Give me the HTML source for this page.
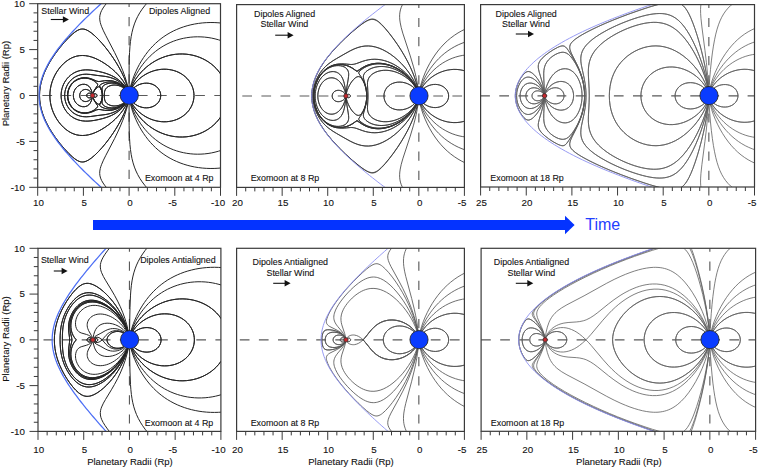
<!DOCTYPE html>
<html><head><meta charset="utf-8"><style>html,body{margin:0;padding:0;background:#fff;}svg{display:block;}text{stroke:#111;stroke-width:0.1px;}</style></head>
<body><svg xmlns="http://www.w3.org/2000/svg" width="760" height="468" viewBox="0 0 760 468" font-family='"Liberation Sans", sans-serif' fill="#111"><defs><clipPath id="c1"><rect x="37.7" y="3.7" width="182.80" height="183.60"/></clipPath><clipPath id="c2"><rect x="236.6" y="4.6" width="227.80" height="182.80"/></clipPath><clipPath id="c3"><rect x="480.6" y="4.6" width="273.90" height="182.40"/></clipPath><clipPath id="c4"><rect x="38.0" y="248.3" width="182.90" height="183.10"/></clipPath><clipPath id="c5"><rect x="236.6" y="248.3" width="227.80" height="183.10"/></clipPath><clipPath id="c6"><rect x="481.1" y="248.3" width="274.50" height="183.00"/></clipPath></defs><g clip-path="url(#c1)">
<line x1="37.7" y1="95.50" x2="220.5" y2="95.50" stroke="#5a5a5a" stroke-width="1.15" stroke-dasharray="9.7 9.4" stroke-dashoffset="14.40"/>
<line x1="129.10" y1="3.7" x2="129.10" y2="187.3" stroke="#5a5a5a" stroke-width="1.15" stroke-dasharray="9.2 9.9" stroke-dashoffset="5.8"/>
<path d="M133.92 103.22 L135.67 104.54 L137.72 105.75 L139.90 106.69 L142.18 107.37 L144.52 107.75 L146.71 107.84 L148.90 107.66 L151.04 107.20 L153.10 106.45 L155.03 105.40 L156.64 104.19 L158.04 102.75 L159.20 101.10 L160.05 99.28 L160.57 97.33 L160.72 95.50 L160.57 93.67 L160.05 91.72 L159.20 89.90 L158.04 88.25 L156.64 86.81 L155.03 85.60 L153.10 84.55 L151.04 83.80 L148.90 83.34 L146.71 83.16 L144.52 83.25 L142.18 83.63 L139.90 84.31 L137.72 85.25 L135.67 86.46 L133.92 87.78 M133.92 87.78 L135.67 86.46 L137.72 85.25 L139.90 84.31 L142.18 83.63 L144.52 83.25 L146.71 83.16 L148.90 83.34 L151.04 83.80 L153.10 84.55 L155.03 85.60 L156.64 86.81 L158.04 88.25 L159.20 89.90 L160.05 91.72 L160.57 93.67 L160.72 95.50 L160.57 97.33 L160.05 99.28 L159.20 101.10 L158.04 102.75 L156.64 104.19 L155.03 105.40 L153.10 106.45 L151.04 107.20 L148.90 107.66 L146.71 107.84 L144.52 107.75 L142.18 107.37 L139.90 106.69 L137.72 105.75 L135.67 104.54 L133.92 103.22 M132.34 104.02 L133.77 106.15 L135.36 108.17 L137.22 110.19 L139.21 112.08 L141.34 113.82 L143.58 115.41 L145.92 116.83 L148.36 118.10 L150.88 119.19 L153.47 120.10 L156.11 120.82 L158.62 121.32 L161.34 121.66 L163.90 121.79 L166.64 121.72 L169.18 121.46 L171.70 121.01 L174.18 120.37 L176.60 119.53 L178.94 118.49 L181.18 117.26 L183.16 115.94 L185.17 114.35 L186.89 112.71 L188.58 110.77 L189.97 108.84 L191.18 106.79 L192.19 104.63 L192.98 102.38 L193.55 100.06 L193.89 97.70 L193.99 95.50 L193.89 93.30 L193.55 90.94 L192.98 88.62 L192.19 86.37 L191.18 84.21 L189.97 82.16 L188.58 80.23 L186.89 78.29 L185.17 76.65 L183.16 75.06 L181.18 73.74 L178.94 72.51 L176.60 71.47 L174.18 70.63 L171.70 69.99 L169.18 69.54 L166.64 69.28 L163.90 69.21 L161.34 69.34 L158.62 69.68 L156.11 70.18 L153.47 70.90 L150.88 71.81 L148.36 72.90 L145.92 74.17 L143.58 75.59 L141.34 77.18 L139.21 78.92 L137.22 80.81 L135.36 82.83 L133.77 84.85 L132.34 86.98 M132.34 86.98 L133.77 84.85 L135.36 82.83 L137.22 80.81 L139.21 78.92 L141.34 77.18 L143.58 75.59 L145.92 74.17 L148.36 72.90 L150.88 71.81 L153.47 70.90 L156.11 70.18 L158.62 69.68 L161.34 69.34 L163.90 69.21 L166.64 69.28 L169.18 69.54 L171.70 69.99 L174.18 70.63 L176.60 71.47 L178.94 72.51 L181.18 73.74 L183.16 75.06 L185.17 76.65 L186.89 78.29 L188.58 80.23 L189.97 82.16 L191.18 84.21 L192.19 86.37 L192.98 88.62 L193.55 90.94 L193.89 93.30 L193.99 95.50 L193.89 97.70 L193.55 100.06 L192.98 102.38 L192.19 104.63 L191.18 106.79 L189.97 108.84 L188.58 110.77 L186.89 112.71 L185.17 114.35 L183.16 115.94 L181.18 117.26 L178.94 118.49 L176.60 119.53 L174.18 120.37 L171.70 121.01 L169.18 121.46 L166.64 121.72 L163.90 121.79 L161.34 121.66 L158.62 121.32 L156.11 120.82 L153.47 120.10 L150.88 119.19 L148.36 118.10 L145.92 116.83 L143.58 115.41 L141.34 113.82 L139.21 112.08 L137.22 110.19 L135.36 108.17 L133.77 106.15 L132.34 104.02 M131.56 104.32 L133.08 107.46 L134.81 110.48 L136.75 113.37 L138.97 116.29 L141.38 119.05 L143.95 121.66 L146.68 124.10 L149.56 126.36 L152.58 128.43 L155.56 130.22 L158.81 131.90 L162.00 133.28 L165.44 134.52 L168.78 135.47 L172.17 136.21 L175.61 136.71 L179.25 137.00 L182.73 137.02 L186.19 136.82 L189.64 136.37 L193.04 135.69 L196.39 134.77 L199.67 133.62 L202.69 132.31 L205.77 130.70 L208.57 128.97 L211.39 126.93 L213.90 124.80 L216.25 122.49 L218.42 120.00 L220.38 117.35 L222.03 114.70 M221.96 76.17 L220.29 73.53 L218.32 70.89 L216.15 68.40 L213.80 66.10 L211.27 63.98 L208.45 61.94 L205.64 60.22 L202.56 58.63 L199.53 57.33 L196.25 56.18 L192.90 55.27 L189.49 54.60 L186.05 54.17 L182.58 53.97 L179.11 54.01 L175.46 54.30 L172.03 54.82 L168.64 55.56 L165.30 56.52 L161.86 57.77 L158.68 59.17 L155.43 60.85 L152.45 62.65 L149.44 64.73 L146.57 67.00 L143.84 69.45 L141.28 72.06 L138.88 74.83 L136.66 77.75 L134.74 80.65 L133.01 83.68 L131.50 86.82 M131.56 86.68 L133.08 83.54 L134.81 80.52 L136.75 77.63 L138.97 74.71 L141.38 71.95 L143.95 69.34 L146.68 66.90 L149.56 64.64 L152.58 62.57 L155.56 60.78 L158.81 59.10 L162.00 57.72 L165.44 56.48 L168.78 55.53 L172.17 54.79 L175.61 54.29 L179.25 54.00 L182.73 53.98 L186.19 54.18 L189.64 54.63 L193.04 55.31 L196.39 56.23 L199.67 57.38 L202.69 58.69 L205.77 60.30 L208.57 62.03 L211.39 64.07 L213.90 66.20 L216.25 68.51 L218.42 71.00 L220.38 73.65 L222.03 76.30 M221.96 114.83 L220.29 117.47 L218.32 120.11 L216.15 122.60 L213.80 124.90 L211.27 127.02 L208.45 129.06 L205.64 130.78 L202.56 132.37 L199.53 133.67 L196.25 134.82 L192.90 135.73 L189.49 136.40 L186.05 136.83 L182.58 137.03 L179.11 136.99 L175.46 136.70 L172.03 136.18 L168.64 135.44 L165.30 134.48 L161.86 133.23 L158.68 131.83 L155.43 130.15 L152.45 128.35 L149.44 126.27 L146.57 124.00 L143.84 121.55 L141.28 118.94 L138.88 116.17 L136.66 113.25 L134.74 110.35 L133.01 107.32 L131.50 104.18 M221.88 40.89 L218.58 39.82 L215.05 38.86 L211.66 38.11 L208.05 37.51 L204.42 37.09 L200.96 36.86 L197.30 36.80 L193.83 36.92 L190.19 37.22 L186.75 37.69 L183.33 38.33 L179.95 39.13 L176.62 40.11 L173.34 41.26 L170.13 42.58 L166.98 44.07 L163.92 45.71 L160.95 47.51 L158.07 49.47 L155.30 51.57 L152.63 53.80 L150.08 56.17 L147.64 58.65 L145.21 61.39 L142.90 64.24 L140.73 67.20 L138.61 70.41 L136.73 73.56 L135.00 76.79 L133.43 80.11 L132.10 83.33 L130.95 86.62 M221.88 150.11 L218.58 151.18 L215.05 152.14 L211.66 152.89 L208.05 153.49 L204.42 153.91 L200.96 154.14 L197.30 154.20 L193.83 154.08 L190.19 153.78 L186.75 153.31 L183.33 152.67 L179.95 151.87 L176.62 150.89 L173.34 149.74 L170.13 148.42 L166.98 146.93 L163.92 145.29 L160.95 143.49 L158.07 141.53 L155.30 139.43 L152.63 137.20 L150.08 134.83 L147.64 132.35 L145.21 129.61 L142.90 126.76 L140.73 123.80 L138.61 120.59 L136.73 117.44 L135.00 114.21 L133.43 110.89 L132.10 107.67 L130.95 104.38 M221.95 23.13 L217.95 22.76 L214.12 22.56 L210.10 22.53 L206.26 22.65 L202.25 22.95 L198.44 23.41 L194.65 24.02 L190.89 24.81 L187.17 25.76 L183.67 26.82 L180.05 28.10 L176.66 29.49 L173.35 31.03 L170.11 32.73 L166.95 34.58 L163.89 36.59 L161.08 38.64 L158.23 40.94 L155.50 43.38 L152.89 45.95 L150.40 48.64 L148.04 51.44 L145.70 54.50 L143.49 57.65 L141.42 60.90 L139.40 64.39 L137.53 67.97 L135.80 71.61 L134.23 75.33 L132.81 79.11 L131.61 82.77 L130.58 86.49 M221.95 167.87 L217.95 168.24 L214.12 168.44 L210.10 168.47 L206.26 168.35 L202.25 168.05 L198.44 167.59 L194.65 166.98 L190.89 166.19 L187.17 165.24 L183.67 164.18 L180.05 162.90 L176.66 161.51 L173.35 159.97 L170.11 158.27 L166.95 156.42 L163.89 154.41 L161.08 152.36 L158.23 150.06 L155.50 147.62 L152.89 145.05 L150.40 142.36 L148.04 139.56 L145.70 136.50 L143.49 133.35 L141.42 130.10 L139.40 126.61 L137.53 123.03 L135.80 119.39 L134.23 115.67 L132.81 111.89 L131.61 108.23 L130.58 104.51 M147.68 2.33 L144.82 5.66 L142.15 9.17 L139.82 12.68 L137.74 16.35 L135.99 19.98 L134.43 23.90 L133.09 28.10 L132.01 32.37 L131.17 36.69 L130.48 41.42 L129.95 46.53 L129.55 52.39 L129.28 58.63 L129.13 65.78 L129.08 86.35 M147.68 188.67 L144.82 185.34 L142.15 181.83 L139.82 178.32 L137.74 174.65 L135.99 171.02 L134.43 167.10 L133.09 162.90 L132.01 158.63 L131.17 154.31 L130.48 149.58 L129.95 144.47 L129.55 138.61 L129.28 132.37 L129.13 125.22 L129.08 104.65 M107.44 2.30 L104.99 5.27 L103.08 7.96 L101.61 10.50 L100.60 12.86 L99.97 15.16 L99.70 17.53 L99.80 19.91 L100.26 22.44 L100.76 24.21 L101.48 26.28 L103.45 30.83 L105.65 35.27 L114.71 52.68 L117.74 58.96 L120.44 64.98 L122.80 70.76 L124.81 76.27 L126.46 81.52 L127.75 86.50 M107.44 188.70 L104.99 185.73 L103.08 183.04 L101.61 180.50 L100.60 178.14 L99.97 175.84 L99.70 173.47 L99.80 171.09 L100.26 168.56 L100.76 166.79 L101.48 164.72 L103.45 160.17 L105.65 155.73 L114.71 138.32 L117.74 132.04 L120.44 126.02 L122.80 120.24 L124.81 114.73 L126.46 109.48 L127.75 104.50 M127.42 104.34 L125.98 108.70 L124.15 113.30 L121.91 118.12 L119.34 122.99 L116.38 128.06 L113.11 133.15 L109.54 138.26 L105.87 143.07 L102.12 147.57 L98.41 151.63 L94.88 155.09 L91.54 157.94 L88.68 159.92 L86.24 161.18 L85.04 161.60 L83.79 161.89 L82.70 161.99 L81.60 161.95 L80.34 161.73 L78.95 161.27 L77.63 160.65 L76.06 159.70 L74.43 158.53 L72.72 157.14 L68.84 153.52 L64.21 148.57 L59.61 143.10 L55.31 137.39 L51.52 131.77 L48.70 127.04 L46.23 122.33 L44.13 117.64 L42.48 113.17 L41.20 108.76 L40.26 104.27 L39.71 99.90 L39.53 95.50 L39.71 91.10 L40.26 86.73 L41.20 82.24 L42.48 77.83 L44.13 73.36 L46.23 68.67 L48.70 63.96 L51.52 59.23 L55.31 53.61 L59.61 47.90 L64.21 42.43 L68.84 37.48 L72.72 33.85 L74.42 32.47 L76.06 31.29 L77.63 30.35 L78.95 29.72 L80.34 29.26 L81.59 29.04 L82.69 29.00 L83.78 29.10 L85.03 29.38 L86.24 29.81 L88.67 31.06 L91.53 33.05 L94.88 35.89 L98.41 39.35 L102.12 43.41 L105.87 47.92 L109.53 52.73 L113.11 57.84 L116.38 62.93 L119.34 67.99 L121.90 72.86 L124.15 77.69 L125.98 82.29 L127.41 86.65 M127.42 86.66 L125.98 82.30 L124.15 77.70 L121.91 72.88 L119.34 68.01 L116.38 62.94 L113.11 57.85 L109.54 52.74 L105.87 47.93 L102.12 43.43 L98.41 39.37 L94.88 35.91 L91.54 33.06 L88.68 31.08 L86.24 29.82 L85.04 29.40 L83.79 29.11 L82.70 29.01 L81.60 29.05 L80.34 29.27 L78.95 29.73 L77.63 30.35 L76.06 31.30 L74.43 32.47 L72.72 33.86 L68.84 37.48 L64.21 42.43 L59.61 47.90 L55.31 53.61 L51.52 59.23 L48.70 63.96 L46.23 68.67 L44.13 73.36 L42.48 77.83 L41.20 82.24 L40.26 86.73 L39.71 91.10 L39.53 95.50 L39.71 99.90 L40.26 104.27 L41.20 108.76 L42.48 113.17 L44.13 117.64 L46.23 122.33 L48.70 127.04 L51.52 131.77 L55.31 137.39 L59.61 143.10 L64.21 148.57 L68.84 153.52 L72.72 157.15 L74.42 158.53 L76.06 159.71 L77.63 160.65 L78.95 161.28 L80.34 161.74 L81.59 161.96 L82.69 162.00 L83.78 161.90 L85.03 161.62 L86.24 161.19 L88.67 159.94 L91.53 157.95 L94.88 155.11 L98.41 151.65 L102.12 147.59 L105.87 143.08 L109.53 138.27 L113.11 133.16 L116.38 128.07 L119.34 123.01 L121.90 118.14 L124.15 113.31 L125.98 108.71 L127.41 104.35 M126.47 104.15 L124.83 107.23 L122.86 110.32 L120.55 113.40 L118.04 116.31 L115.21 119.18 L112.08 122.00 L108.79 124.63 L105.21 127.17 L101.64 129.40 L98.26 131.23 L94.94 132.76 L91.68 133.96 L88.50 134.82 L85.44 135.33 L82.52 135.51 L79.60 135.36 L76.72 134.86 L73.92 134.01 L71.23 132.85 L68.53 131.31 L65.86 129.39 L63.38 127.22 L60.97 124.71 L58.78 122.00 L56.81 119.13 L54.98 115.95 L53.41 112.64 L52.16 109.38 L51.13 105.86 L50.43 102.45 L50.00 98.98 L49.86 95.50 L50.00 92.02 L50.43 88.55 L51.13 85.14 L52.16 81.62 L53.41 78.36 L54.98 75.05 L56.81 71.87 L58.78 69.00 L60.97 66.29 L63.37 63.78 L65.86 61.61 L68.53 59.69 L71.23 58.15 L73.92 56.99 L76.72 56.14 L79.60 55.64 L82.52 55.49 L85.44 55.67 L88.50 56.18 L91.68 57.04 L94.94 58.24 L98.26 59.77 L101.64 61.60 L105.21 63.83 L108.79 66.37 L112.08 69.00 L115.21 71.82 L118.04 74.69 L120.55 77.60 L122.86 80.68 L124.83 83.77 L126.47 86.85 M126.47 86.85 L124.83 83.77 L122.86 80.68 L120.55 77.60 L118.04 74.69 L115.21 71.82 L112.08 69.00 L108.79 66.37 L105.21 63.83 L101.64 61.60 L98.26 59.77 L94.94 58.24 L91.68 57.04 L88.50 56.18 L85.44 55.67 L82.52 55.49 L79.60 55.64 L76.72 56.14 L73.92 56.99 L71.23 58.15 L68.53 59.69 L65.86 61.61 L63.38 63.78 L60.97 66.29 L58.78 69.00 L56.81 71.87 L54.98 75.05 L53.41 78.36 L52.16 81.62 L51.13 85.14 L50.43 88.55 L50.00 92.02 L49.86 95.50 L50.00 98.98 L50.43 102.45 L51.13 105.86 L52.16 109.38 L53.41 112.64 L54.98 115.95 L56.81 119.13 L58.78 122.00 L60.97 124.71 L63.37 127.22 L65.86 129.39 L68.53 131.31 L71.23 132.85 L73.92 134.01 L76.72 134.86 L79.60 135.36 L82.52 135.51 L85.44 135.33 L88.50 134.82 L91.68 133.96 L94.94 132.76 L98.26 131.23 L101.64 129.40 L105.21 127.17 L108.79 124.63 L112.08 122.00 L115.21 119.18 L118.04 116.31 L120.55 113.40 L122.86 110.32 L124.83 107.23 L126.47 104.15 M92.22 93.18 L91.62 90.97 L90.83 89.01 L89.89 87.44 L88.80 86.21 L87.47 85.24 L85.96 84.60 L84.34 84.29 L82.52 84.33 L80.74 84.74 L78.91 85.56 L77.41 86.61 L75.99 88.04 L74.86 89.70 L74.03 91.54 L73.52 93.49 L73.35 95.50 L73.52 97.51 L74.03 99.47 L74.86 101.30 L76.00 102.96 L77.42 104.39 L78.91 105.44 L80.75 106.26 L82.53 106.67 L84.35 106.71 L85.96 106.40 L87.47 105.76 L88.80 104.79 L89.89 103.56 L90.83 101.98 L91.62 100.03 L92.23 97.77 M92.22 97.82 L91.62 100.03 L90.83 101.99 L89.89 103.56 L88.80 104.79 L87.47 105.76 L85.96 106.40 L84.34 106.71 L82.52 106.67 L80.74 106.26 L78.91 105.44 L77.41 104.39 L75.99 102.96 L74.86 101.30 L74.03 99.46 L73.52 97.51 L73.35 95.50 L73.52 93.49 L74.03 91.53 L74.86 89.70 L76.00 88.04 L77.42 86.61 L78.91 85.56 L80.75 84.74 L82.53 84.33 L84.35 84.29 L85.96 84.60 L87.47 85.24 L88.80 86.21 L89.89 87.44 L90.83 89.02 L91.62 90.97 L92.23 93.23 M91.74 93.30 L91.10 92.35 L90.33 91.50 L89.46 90.76 L88.53 90.19 L87.56 89.77 L86.54 89.52 L85.45 89.45 L84.54 89.54 L83.66 89.78 L82.66 90.24 L81.77 90.87 L81.01 91.67 L80.50 92.42 L80.04 93.42 L79.76 94.49 L79.68 95.58 L79.79 96.68 L80.10 97.74 L80.58 98.72 L81.12 99.46 L81.90 100.24 L82.81 100.85 L83.65 101.22 L84.71 101.49 L85.62 101.55 L86.71 101.45 L87.68 101.19 L88.64 100.76 L89.56 100.16 L90.39 99.44 L91.15 98.58 L91.78 97.63 M91.74 97.70 L91.10 98.65 L90.33 99.50 L89.46 100.24 L88.53 100.81 L87.56 101.23 L86.54 101.48 L85.45 101.55 L84.54 101.46 L83.66 101.22 L82.66 100.76 L81.77 100.13 L81.01 99.33 L80.50 98.58 L80.04 97.58 L79.76 96.51 L79.68 95.42 L79.79 94.32 L80.10 93.26 L80.58 92.28 L81.12 91.54 L81.90 90.76 L82.81 90.15 L83.65 89.78 L84.71 89.51 L85.62 89.45 L86.71 89.55 L87.68 89.81 L88.64 90.24 L89.56 90.84 L90.39 91.56 L91.15 92.42 L91.78 93.37 M91.11 93.66 L90.40 93.33 L89.64 93.17 L88.87 93.19 L88.16 93.38 L87.53 93.75 L87.06 94.25 L86.76 94.86 L86.66 95.54 L86.78 96.21 L87.11 96.82 L87.59 97.30 L88.23 97.65 L88.94 97.82 L89.72 97.82 L90.47 97.64 L91.17 97.30 M91.11 97.34 L90.40 97.67 L89.64 97.83 L88.87 97.81 L88.16 97.62 L87.53 97.25 L87.06 96.75 L86.76 96.14 L86.66 95.46 L86.78 94.79 L87.11 94.18 L87.59 93.70 L88.23 93.35 L88.94 93.18 L89.72 93.18 L90.47 93.36 L91.17 93.70 M94.19 93.84 L95.22 93.72 L96.18 94.02 L96.81 94.66 L96.99 95.08 L97.04 95.54 L96.97 95.99 L96.78 96.40 L96.11 97.02 L95.15 97.29 L94.12 97.13 M94.19 97.16 L95.22 97.28 L96.18 96.98 L96.81 96.34 L96.99 95.92 L97.04 95.46 L96.97 95.01 L96.78 94.60 L96.11 93.98 L95.15 93.71 L94.12 93.87 M93.02 93.21 L93.69 91.50 L94.58 89.79 L97.52 85.48 L97.70 84.78 L97.64 84.42 L97.40 83.92 L96.33 82.68 L94.77 81.40 L93.07 80.32 L91.09 79.38 L89.01 78.68 L87.04 78.28 L85.04 78.11 L83.03 78.17 L81.41 78.41 L79.98 78.75 L78.43 79.29 L77.10 79.90 L75.83 80.62 L74.48 81.57 L73.36 82.52 L72.21 83.70 L71.29 84.84 L70.37 86.21 L69.59 87.66 L68.94 89.18 L68.49 90.58 L68.12 92.18 L67.89 93.82 L67.81 95.47 L67.88 97.12 L68.11 98.76 L68.47 100.37 L68.92 101.76 L69.56 103.29 L70.34 104.74 L71.26 106.11 L72.17 107.26 L73.32 108.44 L74.58 109.51 L75.93 110.45 L77.21 111.16 L78.54 111.76 L80.10 112.28 L81.53 112.61 L83.16 112.84 L85.16 112.89 L87.17 112.70 L89.13 112.29 L91.04 111.65 L93.02 110.71 L94.73 109.64 L96.28 108.36 L97.37 107.13 L97.70 106.28 L97.55 105.57 L94.56 101.18 L93.66 99.43 L93.00 97.72 M93.02 97.79 L93.69 99.50 L94.58 101.21 L97.52 105.52 L97.70 106.22 L97.64 106.58 L97.40 107.08 L96.33 108.32 L94.77 109.60 L93.07 110.68 L91.09 111.62 L89.01 112.32 L87.04 112.72 L85.04 112.89 L83.03 112.83 L81.41 112.59 L79.98 112.25 L78.43 111.71 L77.10 111.10 L75.83 110.38 L74.48 109.43 L73.36 108.48 L72.21 107.30 L71.29 106.16 L70.37 104.79 L69.59 103.34 L68.94 101.82 L68.49 100.42 L68.12 98.82 L67.89 97.18 L67.81 95.53 L67.88 93.88 L68.11 92.24 L68.47 90.63 L68.92 89.24 L69.56 87.71 L70.34 86.26 L71.26 84.89 L72.17 83.74 L73.32 82.56 L74.58 81.49 L75.93 80.55 L77.21 79.84 L78.54 79.24 L80.10 78.72 L81.53 78.39 L83.16 78.16 L85.16 78.11 L87.17 78.30 L89.13 78.71 L91.04 79.35 L93.02 80.29 L94.73 81.36 L96.28 82.64 L97.37 83.87 L97.70 84.72 L97.55 85.43 L94.56 89.82 L93.66 91.57 L93.00 93.28 M93.10 93.23 L93.64 92.01 L94.32 90.82 L95.11 89.69 L95.96 88.67 L96.88 87.78 L97.76 87.13 L98.59 86.75 L99.14 86.73 L99.62 86.97 L100.22 87.66 L100.77 88.61 L101.35 89.96 L102.07 92.61 L102.26 94.07 L102.32 95.53 L102.09 98.28 L101.39 100.93 L100.90 102.12 L100.29 103.25 L99.71 103.96 L99.25 104.24 L98.70 104.27 L97.86 103.93 L96.97 103.29 L96.04 102.41 L95.15 101.37 L94.33 100.20 L93.63 98.96 L93.08 97.71 M93.10 97.77 L93.64 98.99 L94.32 100.18 L95.11 101.31 L95.96 102.33 L96.88 103.22 L97.76 103.87 L98.59 104.25 L99.14 104.27 L99.62 104.03 L100.22 103.34 L100.77 102.39 L101.35 101.04 L102.07 98.39 L102.26 96.93 L102.32 95.47 L102.09 92.72 L101.39 90.07 L100.90 88.88 L100.29 87.75 L99.71 87.04 L99.25 86.76 L98.70 86.73 L97.86 87.07 L96.97 87.71 L96.04 88.59 L95.15 89.63 L94.33 90.80 L93.63 92.04 L93.08 93.29 M125.51 87.01 L124.07 85.11 L122.36 83.20 L120.50 81.43 L118.38 79.69 L116.28 78.22 L113.93 76.81 L111.48 75.56 L108.96 74.48 L105.86 73.37 L102.35 72.34 L98.26 71.36 L94.14 70.56 L90.88 70.11 L87.96 69.89 L85.22 69.89 L82.67 70.11 L80.33 70.52 L78.21 71.10 L76.16 71.86 L74.18 72.81 L72.30 73.94 L70.53 75.25 L68.89 76.71 L67.27 78.45 L65.92 80.19 L64.64 82.20 L63.62 84.15 L62.71 86.35 L62.04 88.45 L61.52 90.78 L61.21 93.14 L61.10 95.53 L61.21 97.91 L61.53 100.27 L62.06 102.60 L62.72 104.70 L63.64 106.90 L64.66 108.85 L65.95 110.85 L67.30 112.59 L68.93 114.33 L70.57 115.78 L72.34 117.08 L74.22 118.21 L76.20 119.16 L78.26 119.92 L80.38 120.49 L82.72 120.90 L85.27 121.11 L88.01 121.11 L90.93 120.89 L94.19 120.43 L98.31 119.63 L102.40 118.65 L105.91 117.62 L109.01 116.50 L111.53 115.41 L113.97 114.17 L116.32 112.75 L118.42 111.28 L120.54 109.54 L122.39 107.76 L124.10 105.85 L125.54 103.95 M125.51 103.99 L124.07 105.89 L122.36 107.80 L120.50 109.57 L118.38 111.31 L116.28 112.78 L113.93 114.19 L111.48 115.44 L108.96 116.52 L105.86 117.63 L102.35 118.66 L98.26 119.64 L94.14 120.44 L90.88 120.89 L87.96 121.11 L85.22 121.11 L82.67 120.89 L80.33 120.48 L78.21 119.90 L76.16 119.14 L74.18 118.19 L72.30 117.06 L70.53 115.75 L68.89 114.29 L67.27 112.55 L65.92 110.81 L64.64 108.80 L63.62 106.85 L62.71 104.65 L62.04 102.55 L61.52 100.22 L61.21 97.86 L61.10 95.47 L61.21 93.09 L61.53 90.73 L62.06 88.40 L62.72 86.30 L63.64 84.10 L64.66 82.15 L65.95 80.15 L67.30 78.41 L68.93 76.67 L70.57 75.22 L72.34 73.92 L74.22 72.79 L76.20 71.84 L78.26 71.08 L80.38 70.51 L82.72 70.10 L85.27 69.89 L88.01 69.89 L90.93 70.11 L94.19 70.57 L98.31 71.37 L102.40 72.35 L105.91 73.38 L109.01 74.50 L111.53 75.59 L113.97 76.83 L116.32 78.25 L118.42 79.72 L120.54 81.46 L122.39 83.24 L124.10 85.15 L125.54 87.05 M125.15 87.17 L123.70 85.52 L122.12 83.99 L120.42 82.59 L118.63 81.33 L116.75 80.20 L114.79 79.20 L112.77 78.35 L110.52 77.58 L107.86 76.90 L105.17 76.39 L97.18 75.42 L90.30 74.45 L86.29 74.19 L84.46 74.25 L82.65 74.43 L80.67 74.80 L78.91 75.29 L77.20 75.94 L75.55 76.73 L73.98 77.68 L72.51 78.76 L71.14 79.97 L69.76 81.44 L68.64 82.89 L67.55 84.59 L66.71 86.22 L65.94 88.08 L65.40 89.84 L64.97 91.81 L64.74 93.63 L64.66 95.65 L64.77 97.66 L65.02 99.48 L65.48 101.45 L66.04 103.19 L66.83 105.05 L67.70 106.67 L68.70 108.20 L69.83 109.64 L71.22 111.10 L72.59 112.31 L74.08 113.38 L75.65 114.32 L77.30 115.11 L79.01 115.74 L80.78 116.22 L82.75 116.58 L86.22 116.81 L90.23 116.56 L97.11 115.59 L105.09 114.62 L107.97 114.08 L110.62 113.38 L112.87 112.61 L114.89 111.75 L116.84 110.75 L118.72 109.61 L120.51 108.34 L122.20 106.93 L123.77 105.40 L125.21 103.74 M125.15 103.83 L123.70 105.48 L122.12 107.01 L120.42 108.41 L118.63 109.67 L116.75 110.80 L114.79 111.80 L112.77 112.65 L110.52 113.42 L107.86 114.10 L105.17 114.61 L97.18 115.58 L90.30 116.55 L86.29 116.81 L84.46 116.75 L82.65 116.57 L80.67 116.20 L78.91 115.71 L77.20 115.06 L75.55 114.27 L73.98 113.32 L72.51 112.24 L71.14 111.03 L69.76 109.56 L68.64 108.11 L67.55 106.41 L66.71 104.78 L65.94 102.92 L65.40 101.16 L64.97 99.19 L64.74 97.37 L64.66 95.35 L64.77 93.34 L65.02 91.52 L65.48 89.55 L66.04 87.81 L66.83 85.95 L67.70 84.33 L68.70 82.80 L69.83 81.36 L71.22 79.90 L72.59 78.69 L74.08 77.62 L75.65 76.68 L77.30 75.89 L79.01 75.26 L80.78 74.78 L82.75 74.42 L86.22 74.19 L90.23 74.44 L97.11 75.41 L105.09 76.38 L107.97 76.92 L110.62 77.62 L112.87 78.39 L114.89 79.25 L116.84 80.25 L118.72 81.39 L120.51 82.66 L122.20 84.07 L123.77 85.60 L125.21 87.26 M124.65 87.43 L123.45 86.30 L122.17 85.26 L119.41 83.46 L117.95 82.71 L116.26 82.00 L113.11 81.05 L110.23 80.59 L107.12 80.49 L104.39 80.72 L99.88 81.46 L98.24 81.49 L96.64 81.12 L91.94 79.10 L88.97 78.18 L87.17 77.86 L85.53 77.71 L83.89 77.72 L82.25 77.87 L80.64 78.19 L79.23 78.59 L77.70 79.20 L76.40 79.86 L75.15 80.63 L73.84 81.62 L72.76 82.61 L71.64 83.83 L70.75 84.99 L69.87 86.39 L69.12 87.86 L68.51 89.39 L68.08 90.80 L67.74 92.41 L67.54 94.05 L67.48 95.70 L67.57 97.35 L67.81 98.99 L68.19 100.59 L68.65 101.99 L69.29 103.51 L69.98 104.80 L70.88 106.18 L71.78 107.34 L72.91 108.54 L74.01 109.51 L75.33 110.49 L76.59 111.25 L77.90 111.89 L79.44 112.47 L80.85 112.86 L82.47 113.16 L84.11 113.29 L85.75 113.28 L87.39 113.11 L89.00 112.81 L91.97 111.89 L96.67 109.86 L98.28 109.50 L99.92 109.54 L104.43 110.28 L107.16 110.51 L110.26 110.41 L113.15 109.94 L116.30 108.99 L117.98 108.27 L119.44 107.52 L121.01 106.57 L122.35 105.61 L123.61 104.56 L124.80 103.41 M124.65 103.57 L123.45 104.70 L122.17 105.74 L119.41 107.54 L117.95 108.29 L116.26 109.00 L113.11 109.95 L110.23 110.41 L107.12 110.51 L104.39 110.28 L99.88 109.54 L98.24 109.51 L96.64 109.88 L91.94 111.90 L88.97 112.82 L87.17 113.14 L85.53 113.29 L83.89 113.28 L82.25 113.13 L80.64 112.81 L79.23 112.41 L77.70 111.80 L76.40 111.14 L75.15 110.37 L73.84 109.38 L72.76 108.39 L71.64 107.17 L70.75 106.01 L69.87 104.61 L69.12 103.14 L68.51 101.61 L68.08 100.20 L67.74 98.59 L67.54 96.95 L67.48 95.30 L67.57 93.65 L67.81 92.01 L68.19 90.41 L68.65 89.01 L69.29 87.49 L69.98 86.20 L70.88 84.82 L71.78 83.66 L72.91 82.46 L74.01 81.49 L75.33 80.51 L76.59 79.75 L77.90 79.11 L79.44 78.53 L80.85 78.14 L82.47 77.84 L84.11 77.71 L85.75 77.72 L87.39 77.89 L89.00 78.19 L91.97 79.11 L96.67 81.14 L98.28 81.50 L99.92 81.46 L104.43 80.72 L107.16 80.49 L110.26 80.59 L113.15 81.06 L116.30 82.01 L117.98 82.73 L119.44 83.48 L121.01 84.43 L122.35 85.39 L123.61 86.44 L124.80 87.59 M124.42 87.56 L123.17 86.48 L121.84 85.51 L120.44 84.65 L118.98 83.89 L117.46 83.25 L115.90 82.73 L114.31 82.33 L112.69 82.06 L111.05 81.92 L109.40 81.91 L107.76 82.04 L106.14 82.32 L104.55 82.74 L103.18 83.24 L101.85 83.86 L100.60 84.62 L99.79 85.35 L99.63 85.68 L99.63 86.04 L101.04 89.03 L101.80 91.29 L102.26 93.81 L102.32 96.38 L102.09 98.39 L101.62 100.35 L100.93 102.24 L99.72 104.71 L99.61 105.25 L99.75 105.59 L100.11 105.99 L101.31 106.84 L102.94 107.66 L104.65 108.29 L106.25 108.71 L108.05 108.99 L109.88 109.10 L111.70 109.04 L113.34 108.85 L115.13 108.48 L116.88 107.96 L118.58 107.29 L120.22 106.48 L121.78 105.53 L123.26 104.45 L124.50 103.37 M124.42 103.44 L123.17 104.52 L121.84 105.49 L120.44 106.35 L118.98 107.11 L117.46 107.75 L115.90 108.27 L114.31 108.67 L112.69 108.94 L111.05 109.08 L109.40 109.09 L107.76 108.96 L106.14 108.68 L104.55 108.26 L103.18 107.76 L101.85 107.14 L100.60 106.38 L99.79 105.65 L99.63 105.32 L99.63 104.96 L101.04 101.97 L101.80 99.71 L102.26 97.19 L102.32 94.62 L102.09 92.61 L101.62 90.65 L100.93 88.76 L99.72 86.29 L99.61 85.75 L99.75 85.41 L100.11 85.01 L101.31 84.16 L102.94 83.34 L104.65 82.71 L106.25 82.29 L108.05 82.01 L109.88 81.90 L111.70 81.96 L113.34 82.15 L115.13 82.52 L116.88 83.04 L118.58 83.71 L120.22 84.52 L121.78 85.47 L123.26 86.55 L124.50 87.63 M124.21 87.69 L121.99 86.07 L119.41 84.70 L116.83 83.78 L114.14 83.23 L111.41 83.09 L108.86 83.34 L106.40 84.02 L105.23 84.54 L104.28 85.09 L103.41 85.76 L102.79 86.44 L102.33 87.22 L102.08 88.10 L102.04 89.39 L102.52 93.21 L102.63 95.59 L102.54 97.61 L102.02 102.17 L102.15 103.26 L102.58 104.27 L103.28 105.11 L104.43 106.01 L105.89 106.77 L107.44 107.32 L109.23 107.72 L111.05 107.90 L112.69 107.90 L114.51 107.72 L116.30 107.36 L118.05 106.84 L119.75 106.15 L121.37 105.31 L122.91 104.32 L124.35 103.19 M124.21 103.31 L121.99 104.93 L119.41 106.30 L116.83 107.22 L114.14 107.77 L111.41 107.91 L108.86 107.66 L106.40 106.98 L105.23 106.46 L104.28 105.91 L103.41 105.24 L102.79 104.56 L102.33 103.78 L102.08 102.90 L102.04 101.61 L102.52 97.79 L102.63 95.41 L102.54 93.39 L102.02 88.83 L102.15 87.74 L102.58 86.73 L103.28 85.89 L104.43 84.99 L105.89 84.23 L107.44 83.68 L109.23 83.28 L111.05 83.10 L112.69 83.10 L114.51 83.28 L116.30 83.64 L118.05 84.16 L119.75 84.85 L121.37 85.69 L122.91 86.68 L124.35 87.81 M123.77 87.99 L122.21 87.03 L120.39 86.17 L118.48 85.54 L116.69 85.18 L114.69 85.02 L112.86 85.11 L111.07 85.45 L109.50 85.97 L108.20 86.62 L107.00 87.47 L105.99 88.52 L105.29 89.59 L104.81 90.78 L104.53 92.04 L104.36 93.68 L104.31 95.88 L104.40 97.90 L104.64 99.53 L105.00 100.76 L105.58 101.91 L106.36 102.92 L107.46 103.89 L108.70 104.66 L110.04 105.24 L111.63 105.69 L113.44 105.94 L115.26 105.96 L117.08 105.76 L118.86 105.35 L120.59 104.75 L122.40 103.87 L123.94 102.89 M123.77 103.01 L122.21 103.97 L120.39 104.83 L118.48 105.46 L116.69 105.82 L114.69 105.98 L112.86 105.89 L111.07 105.55 L109.50 105.03 L108.20 104.38 L107.00 103.53 L105.99 102.48 L105.29 101.41 L104.81 100.22 L104.53 98.96 L104.36 97.32 L104.31 95.12 L104.40 93.10 L104.64 91.47 L105.00 90.24 L105.58 89.09 L106.36 88.08 L107.46 87.11 L108.70 86.34 L110.04 85.76 L111.63 85.31 L113.44 85.06 L115.26 85.04 L117.08 85.24 L118.86 85.65 L120.59 86.25 L122.40 87.13 L123.94 88.11" fill="none" stroke="#262626" stroke-width="1.0" stroke-linejoin="round"/>
<path d="M107.21 192.81 L104.76 190.62 L102.34 188.43 L99.93 186.25 L97.54 184.06 L95.19 181.87 L92.85 179.69 L90.54 177.50 L88.26 175.31 L86.01 173.13 L83.79 170.94 L81.60 168.75 L79.44 166.57 L77.32 164.38 L75.23 162.19 L73.19 160.01 L71.18 157.82 L69.21 155.63 L67.28 153.45 L65.40 151.26 L63.56 149.07 L61.78 146.89 L60.04 144.70 L58.36 142.51 L56.73 140.33 L55.16 138.14 L53.65 135.95 L52.20 133.77 L50.81 131.58 L49.49 129.39 L48.24 127.21 L47.06 125.02 L45.96 122.83 L44.93 120.65 L43.97 118.46 L43.10 116.27 L42.31 114.09 L41.60 111.90 L40.97 109.71 L40.43 107.53 L39.98 105.34 L39.62 103.15 L39.35 100.97 L39.17 98.78 L39.07 96.59 L39.07 94.41 L39.17 92.22 L39.35 90.03 L39.62 87.85 L39.98 85.66 L40.43 83.47 L40.97 81.29 L41.60 79.10 L42.31 76.91 L43.10 74.73 L43.97 72.54 L44.93 70.35 L45.96 68.17 L47.06 65.98 L48.24 63.79 L49.49 61.61 L50.81 59.42 L52.20 57.23 L53.65 55.05 L55.16 52.86 L56.73 50.67 L58.36 48.49 L60.04 46.30 L61.78 44.11 L63.56 41.93 L65.40 39.74 L67.28 37.55 L69.21 35.37 L71.18 33.18 L73.19 30.99 L75.23 28.81 L77.32 26.62 L79.44 24.43 L81.60 22.25 L83.79 20.06 L86.01 17.87 L88.26 15.69 L90.54 13.50 L92.85 11.31 L95.19 9.13 L97.54 6.94 L99.93 4.75 L102.34 2.57 L104.76 0.38 L107.21 -1.81" fill="none" stroke="#4d6ff5" stroke-width="1.25"/>
<circle cx="129.25" cy="95.30" r="9.1" fill="#0a3cff" stroke="#1a1a1a" stroke-width="0.8"/>
<circle cx="92.54" cy="95.50" r="2.2" fill="#c8282e" stroke="#222" stroke-width="0.7"/>
</g>
<rect x="37.7" y="3.7" width="182.80" height="183.60" fill="none" stroke="#3a3a3a" stroke-width="1.2"/>
<line x1="220.50" y1="187.3" x2="220.50" y2="195.80" stroke="#3a3a3a" stroke-width="1"/>
<line x1="211.36" y1="187.3" x2="211.36" y2="191.30" stroke="#3a3a3a" stroke-width="1"/>
<line x1="202.22" y1="187.3" x2="202.22" y2="191.30" stroke="#3a3a3a" stroke-width="1"/>
<line x1="193.08" y1="187.3" x2="193.08" y2="191.30" stroke="#3a3a3a" stroke-width="1"/>
<line x1="183.94" y1="187.3" x2="183.94" y2="191.30" stroke="#3a3a3a" stroke-width="1"/>
<line x1="174.80" y1="187.3" x2="174.80" y2="195.80" stroke="#3a3a3a" stroke-width="1"/>
<line x1="165.66" y1="187.3" x2="165.66" y2="191.30" stroke="#3a3a3a" stroke-width="1"/>
<line x1="156.52" y1="187.3" x2="156.52" y2="191.30" stroke="#3a3a3a" stroke-width="1"/>
<line x1="147.38" y1="187.3" x2="147.38" y2="191.30" stroke="#3a3a3a" stroke-width="1"/>
<line x1="138.24" y1="187.3" x2="138.24" y2="191.30" stroke="#3a3a3a" stroke-width="1"/>
<line x1="129.10" y1="187.3" x2="129.10" y2="195.80" stroke="#3a3a3a" stroke-width="1"/>
<line x1="119.96" y1="187.3" x2="119.96" y2="191.30" stroke="#3a3a3a" stroke-width="1"/>
<line x1="110.82" y1="187.3" x2="110.82" y2="191.30" stroke="#3a3a3a" stroke-width="1"/>
<line x1="101.68" y1="187.3" x2="101.68" y2="191.30" stroke="#3a3a3a" stroke-width="1"/>
<line x1="92.54" y1="187.3" x2="92.54" y2="191.30" stroke="#3a3a3a" stroke-width="1"/>
<line x1="83.40" y1="187.3" x2="83.40" y2="195.80" stroke="#3a3a3a" stroke-width="1"/>
<line x1="74.26" y1="187.3" x2="74.26" y2="191.30" stroke="#3a3a3a" stroke-width="1"/>
<line x1="65.12" y1="187.3" x2="65.12" y2="191.30" stroke="#3a3a3a" stroke-width="1"/>
<line x1="55.98" y1="187.3" x2="55.98" y2="191.30" stroke="#3a3a3a" stroke-width="1"/>
<line x1="46.84" y1="187.3" x2="46.84" y2="191.30" stroke="#3a3a3a" stroke-width="1"/>
<line x1="37.70" y1="187.3" x2="37.70" y2="195.80" stroke="#3a3a3a" stroke-width="1"/>
<text x="38.50" y="206.00" text-anchor="middle" font-size="9.8">10</text>
<text x="84.20" y="206.00" text-anchor="middle" font-size="9.8">5</text>
<text x="129.90" y="206.00" text-anchor="middle" font-size="9.8">0</text>
<text x="172.50" y="206.00" text-anchor="middle" font-size="9.8">-5</text>
<text x="218.20" y="206.00" text-anchor="middle" font-size="9.8">-10</text>
<line x1="29.20" y1="187.30" x2="37.7" y2="187.30" stroke="#3a3a3a" stroke-width="1"/>
<line x1="33.50" y1="178.12" x2="37.7" y2="178.12" stroke="#3a3a3a" stroke-width="1"/>
<line x1="33.50" y1="168.94" x2="37.7" y2="168.94" stroke="#3a3a3a" stroke-width="1"/>
<line x1="33.50" y1="159.76" x2="37.7" y2="159.76" stroke="#3a3a3a" stroke-width="1"/>
<line x1="33.50" y1="150.58" x2="37.7" y2="150.58" stroke="#3a3a3a" stroke-width="1"/>
<line x1="29.20" y1="141.40" x2="37.7" y2="141.40" stroke="#3a3a3a" stroke-width="1"/>
<line x1="33.50" y1="132.22" x2="37.7" y2="132.22" stroke="#3a3a3a" stroke-width="1"/>
<line x1="33.50" y1="123.04" x2="37.7" y2="123.04" stroke="#3a3a3a" stroke-width="1"/>
<line x1="33.50" y1="113.86" x2="37.7" y2="113.86" stroke="#3a3a3a" stroke-width="1"/>
<line x1="33.50" y1="104.68" x2="37.7" y2="104.68" stroke="#3a3a3a" stroke-width="1"/>
<line x1="29.20" y1="95.50" x2="37.7" y2="95.50" stroke="#3a3a3a" stroke-width="1"/>
<line x1="33.50" y1="86.32" x2="37.7" y2="86.32" stroke="#3a3a3a" stroke-width="1"/>
<line x1="33.50" y1="77.14" x2="37.7" y2="77.14" stroke="#3a3a3a" stroke-width="1"/>
<line x1="33.50" y1="67.96" x2="37.7" y2="67.96" stroke="#3a3a3a" stroke-width="1"/>
<line x1="33.50" y1="58.78" x2="37.7" y2="58.78" stroke="#3a3a3a" stroke-width="1"/>
<line x1="29.20" y1="49.60" x2="37.7" y2="49.60" stroke="#3a3a3a" stroke-width="1"/>
<line x1="33.50" y1="40.42" x2="37.7" y2="40.42" stroke="#3a3a3a" stroke-width="1"/>
<line x1="33.50" y1="31.24" x2="37.7" y2="31.24" stroke="#3a3a3a" stroke-width="1"/>
<line x1="33.50" y1="22.06" x2="37.7" y2="22.06" stroke="#3a3a3a" stroke-width="1"/>
<line x1="33.50" y1="12.88" x2="37.7" y2="12.88" stroke="#3a3a3a" stroke-width="1"/>
<line x1="29.20" y1="3.70" x2="37.7" y2="3.70" stroke="#3a3a3a" stroke-width="1"/>
<text x="25" y="7.10" text-anchor="end" font-size="9.8">10</text>
<text x="25" y="53.00" text-anchor="end" font-size="9.8">5</text>
<text x="25" y="98.90" text-anchor="end" font-size="9.8">0</text>
<text x="25" y="144.80" text-anchor="end" font-size="9.8">-5</text>
<text x="25" y="190.70" text-anchor="end" font-size="9.8">-10</text>
<text transform="translate(9.2 83.6) rotate(-90)" text-anchor="middle" font-size="9.5">Planetary Radii (Rp)</text>
<g clip-path="url(#c2)">
<line x1="236.6" y1="96.00" x2="464.4" y2="96.00" stroke="#5a5a5a" stroke-width="1.15" stroke-dasharray="9.7 9.4" stroke-dashoffset="13.40"/>
<line x1="418.84" y1="4.6" x2="418.84" y2="187.4" stroke="#5a5a5a" stroke-width="1.15" stroke-dasharray="9.2 9.9" stroke-dashoffset="5.8"/>
<path d="M423.73 103.53 L425.36 104.71 L427.27 105.77 L429.29 106.60 L431.39 107.19 L433.55 107.52 L435.56 107.58 L437.73 107.38 L439.69 106.93 L441.56 106.23 L443.32 105.26 L444.91 104.05 L446.17 102.73 L447.21 101.23 L447.99 99.58 L448.47 97.82 L448.64 96.00 L448.47 94.18 L447.99 92.42 L447.21 90.77 L446.17 89.27 L444.91 87.95 L443.32 86.74 L441.56 85.77 L439.69 85.07 L437.73 84.62 L435.56 84.42 L433.55 84.48 L431.39 84.81 L429.29 85.40 L427.27 86.23 L425.36 87.29 L423.73 88.47 M423.73 88.47 L425.36 87.29 L427.27 86.23 L429.29 85.40 L431.39 84.81 L433.55 84.48 L435.56 84.42 L437.73 84.62 L439.69 85.07 L441.56 85.77 L443.32 86.74 L444.91 87.95 L446.17 89.27 L447.21 90.77 L447.99 92.42 L448.47 94.18 L448.64 96.00 L448.47 97.82 L447.99 99.58 L447.21 101.23 L446.17 102.73 L444.91 104.05 L443.32 105.26 L441.56 106.23 L439.69 106.93 L437.73 107.38 L435.56 107.58 L433.55 107.52 L431.39 107.19 L429.29 106.60 L427.27 105.77 L425.36 104.71 L423.73 103.53 M422.07 104.51 L423.81 107.08 L425.78 109.48 L427.94 111.70 L430.42 113.86 L433.06 115.81 L435.85 117.54 L438.77 119.04 L441.63 120.23 L444.75 121.24 L447.77 121.95 L450.83 122.41 L453.92 122.61 L457.02 122.54 L460.09 122.20 L463.13 121.58 L465.92 120.73 M465.79 71.22 L462.99 70.39 L459.96 69.78 L456.88 69.45 L453.78 69.40 L450.69 69.61 L447.63 70.08 L444.62 70.80 L441.50 71.82 L438.64 73.02 L435.73 74.53 L432.94 76.27 L430.31 78.22 L427.84 80.39 L425.69 82.63 L423.73 85.03 L421.99 87.61 M422.07 87.49 L423.81 84.92 L425.78 82.52 L427.94 80.30 L430.42 78.14 L433.06 76.19 L435.85 74.46 L438.77 72.96 L441.63 71.77 L444.75 70.76 L447.77 70.05 L450.83 69.59 L453.92 69.39 L457.02 69.46 L460.09 69.80 L463.13 70.42 L465.92 71.27 M465.79 120.78 L462.99 121.61 L459.96 122.22 L456.88 122.55 L453.78 122.60 L450.69 122.39 L447.63 121.92 L444.62 121.20 L441.50 120.18 L438.64 118.98 L435.73 117.47 L432.94 115.73 L430.31 113.78 L427.84 111.61 L425.69 109.37 L423.73 106.97 L421.99 104.39 M465.85 54.98 L462.42 55.44 L459.03 56.14 L455.69 57.05 L452.24 58.25 L449.05 59.60 L445.80 61.24 L442.65 63.09 L439.63 65.13 L436.74 67.36 L434.00 69.77 L431.29 72.47 L428.87 75.21 L426.63 78.09 L424.58 81.12 L422.84 84.12 L421.31 87.23 M465.85 137.02 L462.42 136.56 L459.03 135.86 L455.69 134.95 L452.24 133.75 L449.05 132.40 L445.80 130.76 L442.65 128.91 L439.63 126.87 L436.74 124.64 L434.00 122.23 L431.29 119.53 L428.87 116.79 L426.63 113.91 L424.58 110.88 L422.84 107.88 L421.31 104.77 M465.78 41.89 L462.00 43.23 L458.31 44.79 L454.72 46.59 L451.25 48.60 L447.91 50.82 L444.70 53.23 L441.64 55.82 L438.60 58.71 L435.72 61.77 L432.91 65.13 L430.39 68.49 L427.96 72.13 L425.73 75.91 L423.81 79.64 L422.17 83.32 L420.77 87.08 M465.78 150.11 L462.00 148.77 L458.31 147.21 L454.72 145.41 L451.25 143.40 L447.91 141.18 L444.70 138.77 L441.64 136.18 L438.60 133.29 L435.72 130.23 L432.91 126.87 L430.39 123.51 L427.96 119.87 L425.73 116.09 L423.81 112.36 L422.17 108.68 L420.77 104.92 M465.89 28.77 L461.80 30.78 L457.99 32.94 L454.33 35.33 L450.67 38.06 L447.32 40.88 L444.02 44.03 L440.91 47.37 L437.88 51.02 L434.96 54.99 L432.25 59.11 L429.67 63.53 L427.31 68.06 L425.10 72.88 L423.21 77.63 L421.56 82.48 L420.29 87.05 M465.89 163.23 L461.80 161.22 L457.99 159.06 L454.33 156.67 L450.67 153.94 L447.32 151.12 L444.02 147.97 L440.91 144.63 L437.88 140.98 L434.96 137.01 L432.25 132.89 L429.67 128.47 L427.31 123.94 L425.10 119.12 L423.21 114.37 L421.56 109.52 L420.29 104.95 M403.35 3.17 L402.11 5.41 L401.16 7.59 L400.43 9.85 L399.94 12.17 L399.66 14.71 L399.63 17.27 L399.82 20.01 L400.24 22.90 L401.23 27.55 L402.79 33.18 L410.25 55.93 L413.50 66.79 L414.90 72.09 L416.11 77.25 L417.14 82.26 L417.93 86.94 M403.35 188.83 L402.11 186.59 L401.16 184.41 L400.43 182.15 L399.94 179.83 L399.66 177.29 L399.63 174.73 L399.82 171.99 L400.24 169.10 L401.23 164.45 L402.79 158.82 L410.25 136.07 L413.50 125.21 L414.90 119.91 L416.11 114.75 L417.14 109.74 L417.93 105.06 M417.43 104.99 L416.10 109.93 L414.44 114.96 L412.40 120.25 L410.04 125.60 L407.37 131.00 L404.48 136.29 L401.21 141.79 L397.75 147.16 L393.68 153.00 L389.39 158.68 L385.21 163.76 L381.61 167.64 L378.78 170.22 L377.46 171.20 L376.22 171.96 L375.07 172.50 L374.02 172.83 L372.94 173.00 L371.85 173.00 L370.41 172.75 L368.69 172.16 L366.89 171.28 L364.70 169.96 L362.15 168.21 L359.38 166.13 L352.63 160.55 L345.58 154.19 L338.81 147.54 L332.73 140.98 L327.48 134.67 L323.69 129.52 L320.51 124.62 L317.78 119.66 L315.58 114.84 L313.92 110.20 L312.69 105.42 L311.96 100.72 L311.77 98.36 L311.71 95.98 L311.77 93.61 L311.96 91.24 L312.69 86.54 L313.93 81.77 L315.60 77.13 L317.80 72.31 L320.45 67.51 L323.62 62.60 L327.41 57.46 L332.67 51.15 L338.75 44.59 L345.39 38.07 L352.43 31.71 L359.05 26.26 L361.83 24.18 L364.24 22.54 L366.43 21.22 L368.22 20.34 L369.94 19.72 L371.55 19.42 L372.82 19.41 L373.90 19.58 L374.95 19.90 L376.11 20.43 L377.36 21.17 L378.55 22.03 L381.42 24.56 L384.94 28.27 L389.04 33.16 L393.26 38.67 L397.37 44.48 L400.97 49.99 L404.26 55.46 L407.26 60.91 L409.94 66.30 L412.32 71.65 L414.38 76.92 L416.10 82.12 L417.44 87.06 M417.43 87.01 L416.10 82.07 L414.44 77.04 L412.40 71.75 L410.04 66.40 L407.37 61.00 L404.48 55.71 L401.21 50.21 L397.75 44.84 L393.68 39.00 L389.39 33.32 L385.21 28.24 L381.61 24.36 L378.78 21.78 L377.46 20.80 L376.22 20.04 L375.07 19.50 L374.02 19.17 L372.94 19.00 L371.85 19.00 L370.41 19.25 L368.69 19.84 L366.89 20.72 L364.70 22.04 L362.15 23.79 L359.38 25.87 L352.63 31.45 L345.58 37.81 L338.81 44.46 L332.73 51.02 L327.48 57.33 L323.69 62.48 L320.51 67.38 L317.78 72.34 L315.58 77.16 L313.92 81.80 L312.69 86.58 L311.96 91.28 L311.77 93.64 L311.71 96.02 L311.77 98.39 L311.96 100.76 L312.69 105.46 L313.93 110.23 L315.60 114.87 L317.80 119.69 L320.45 124.49 L323.62 129.40 L327.41 134.54 L332.67 140.85 L338.75 147.41 L345.39 153.93 L352.43 160.29 L359.05 165.74 L361.83 167.82 L364.24 169.46 L366.43 170.78 L368.22 171.66 L369.94 172.28 L371.55 172.58 L372.82 172.59 L373.90 172.42 L374.95 172.10 L376.11 171.57 L377.36 170.83 L378.55 169.97 L381.42 167.44 L384.94 163.73 L389.04 158.84 L393.26 153.33 L397.37 147.52 L400.97 142.01 L404.26 136.54 L407.26 131.09 L409.94 125.70 L412.32 120.35 L414.38 115.08 L416.10 109.88 L417.44 104.94 M416.73 104.82 L415.04 108.87 L412.97 112.93 L410.52 117.00 L407.70 121.05 L404.62 124.90 L401.31 128.55 L397.77 131.97 L394.16 135.05 L390.50 137.77 L386.66 140.22 L382.79 142.28 L379.11 143.85 L375.46 145.01 L371.89 145.75 L368.45 146.06 L364.99 145.97 L361.38 145.43 L357.86 144.48 L354.12 143.05 L350.17 141.16 L343.96 137.70 L336.53 133.42 L333.10 131.33 L328.91 128.42 L327.07 126.93 L325.45 125.46 L322.69 122.54 L320.14 119.20 L318.04 115.78 L316.20 112.00 L314.75 108.06 L313.75 104.17 L313.10 100.02 L312.90 96.00 L313.10 91.99 L313.74 87.83 L314.75 83.94 L316.20 80.00 L318.04 76.22 L320.14 72.80 L322.69 69.47 L325.45 66.55 L327.07 65.08 L328.91 63.58 L333.10 60.67 L336.53 58.59 L343.96 54.31 L350.18 50.85 L354.12 48.96 L357.87 47.53 L361.39 46.58 L364.99 46.05 L368.45 45.95 L371.90 46.26 L375.46 47.00 L379.11 48.16 L382.80 49.73 L386.66 51.79 L390.50 54.24 L394.16 56.96 L397.78 60.04 L401.32 63.46 L404.63 67.11 L407.71 70.96 L410.52 75.01 L412.97 79.08 L415.04 83.14 L416.73 87.19 M416.73 87.18 L415.04 83.13 L412.97 79.07 L410.52 75.00 L407.70 70.95 L404.62 67.10 L401.31 63.45 L397.77 60.03 L394.16 56.95 L390.50 54.23 L386.66 51.78 L382.79 49.72 L379.11 48.15 L375.46 46.99 L371.89 46.25 L368.45 45.94 L364.99 46.03 L361.38 46.57 L357.86 47.52 L354.12 48.95 L350.17 50.84 L343.96 54.30 L336.53 58.58 L333.10 60.67 L328.91 63.58 L327.07 65.07 L325.45 66.54 L322.69 69.46 L320.14 72.80 L318.04 76.22 L316.20 80.00 L314.75 83.94 L313.75 87.83 L313.10 91.98 L312.90 96.00 L313.10 100.01 L313.74 104.17 L314.75 108.06 L316.20 112.00 L318.04 115.78 L320.14 119.20 L322.69 122.53 L325.45 125.45 L327.07 126.92 L328.91 128.42 L333.10 131.33 L336.53 133.41 L343.96 137.69 L350.18 141.15 L354.12 143.04 L357.87 144.47 L361.39 145.42 L364.99 145.95 L368.45 146.05 L371.90 145.74 L375.46 145.00 L379.11 143.84 L382.80 142.27 L386.66 140.21 L390.50 137.76 L394.16 135.04 L397.78 131.96 L401.32 128.54 L404.63 124.89 L407.71 121.04 L410.52 116.99 L412.97 112.92 L415.04 108.86 L416.73 104.81 M345.07 98.10 L344.38 98.96 L343.56 99.74 L342.63 100.41 L341.59 100.96 L340.52 101.36 L339.41 101.60 L338.32 101.68 L337.23 101.60 L336.17 101.34 L335.16 100.91 L334.25 100.30 L333.59 99.67 L332.95 98.79 L332.55 97.97 L332.26 96.91 L332.18 96.00 L332.26 95.09 L332.55 94.03 L332.95 93.21 L333.59 92.33 L334.25 91.70 L335.16 91.09 L336.17 90.66 L337.23 90.40 L338.32 90.32 L339.41 90.40 L340.52 90.64 L341.59 91.04 L342.63 91.59 L343.56 92.26 L344.38 93.04 L345.07 93.90 M345.07 93.90 L344.38 93.04 L343.56 92.26 L342.63 91.59 L341.59 91.04 L340.52 90.64 L339.41 90.40 L338.32 90.32 L337.23 90.40 L336.17 90.66 L335.16 91.09 L334.25 91.70 L333.59 92.33 L332.95 93.21 L332.55 94.03 L332.26 95.09 L332.18 96.00 L332.26 96.91 L332.55 97.97 L332.95 98.79 L333.59 99.67 L334.25 100.30 L335.16 100.91 L336.17 101.34 L337.23 101.60 L338.32 101.68 L339.41 101.60 L340.52 101.36 L341.59 100.96 L342.63 100.41 L343.56 99.74 L344.38 98.96 L345.07 98.10 M347.53 97.59 L348.56 97.72 L349.47 97.46 L349.88 97.17 L350.17 96.82 L350.35 96.41 L350.41 96.00 L350.35 95.59 L350.17 95.18 L349.88 94.83 L349.47 94.54 L348.56 94.28 L347.53 94.41 M347.53 94.41 L348.56 94.28 L349.47 94.54 L349.88 94.83 L350.17 95.18 L350.35 95.59 L350.41 96.00 L350.35 96.41 L350.17 96.82 L349.88 97.17 L349.47 97.46 L348.56 97.72 L347.53 97.59 M415.58 104.48 L414.47 106.15 L413.14 107.89 L411.71 109.55 L410.18 111.12 L408.56 112.59 L406.87 113.98 L405.09 115.26 L403.26 116.45 L401.35 117.53 L399.39 118.51 L397.38 119.36 L395.32 120.10 L393.22 120.71 L391.27 121.16 L389.29 121.48 L387.29 121.67 L385.29 121.73 L383.29 121.65 L381.30 121.42 L379.33 121.03 L377.41 120.48 L375.71 119.82 L374.08 119.00 L372.68 118.13 L371.39 117.12 L370.35 116.10 L369.43 114.96 L368.68 113.71 L368.11 112.37 L367.73 110.96 L367.53 109.51 L367.46 107.68 L367.99 97.10 L367.93 92.89 L367.46 84.50 L367.55 82.31 L367.85 80.51 L368.30 79.12 L368.85 77.96 L369.65 76.74 L370.60 75.63 L371.67 74.64 L372.99 73.66 L374.40 72.82 L376.04 72.04 L378.45 71.20 L380.94 70.64 L383.47 70.33 L386.20 70.28 L388.93 70.48 L391.80 70.95 L394.63 71.68 L397.38 72.64 L400.05 73.81 L402.79 75.27 L405.39 76.94 L407.72 78.70 L410.05 80.76 L412.08 82.86 L413.93 85.11 L415.58 87.52 M415.58 87.52 L414.47 85.85 L413.14 84.11 L411.71 82.45 L410.18 80.88 L408.56 79.41 L406.87 78.02 L405.09 76.74 L403.26 75.55 L401.35 74.47 L399.39 73.49 L397.38 72.64 L395.32 71.90 L393.22 71.29 L391.27 70.84 L389.29 70.52 L387.29 70.33 L385.29 70.27 L383.29 70.35 L381.30 70.58 L379.33 70.97 L377.41 71.52 L375.71 72.18 L374.08 73.00 L372.68 73.87 L371.39 74.88 L370.35 75.90 L369.43 77.04 L368.68 78.29 L368.11 79.63 L367.73 81.04 L367.53 82.49 L367.46 84.32 L367.99 94.90 L367.93 99.11 L367.46 107.50 L367.55 109.69 L367.85 111.49 L368.30 112.88 L368.85 114.04 L369.65 115.26 L370.60 116.37 L371.67 117.36 L372.99 118.34 L374.40 119.18 L376.04 119.96 L378.45 120.80 L380.94 121.36 L383.47 121.67 L386.20 121.72 L388.93 121.52 L391.80 121.05 L394.63 120.32 L397.38 119.36 L400.05 118.19 L402.79 116.73 L405.39 115.06 L407.72 113.30 L410.05 111.24 L412.08 109.14 L413.93 106.89 L415.58 104.48 M414.38 103.82 L412.44 105.49 L410.17 107.00 L407.72 108.22 L405.14 109.13 L402.47 109.71 L399.93 109.92 L397.39 109.81 L394.88 109.35 L392.46 108.53 L390.37 107.43 L388.47 106.01 L386.95 104.44 L385.62 102.48 L384.71 100.48 L384.15 98.36 L383.94 96.00 L384.15 93.64 L384.71 91.52 L385.62 89.52 L386.95 87.56 L388.47 85.99 L390.37 84.57 L392.46 83.47 L394.88 82.65 L397.39 82.19 L399.93 82.08 L402.47 82.29 L405.14 82.87 L407.72 83.78 L410.17 85.00 L412.44 86.51 L414.38 88.18 M414.38 88.18 L412.44 86.51 L410.17 85.00 L407.72 83.78 L405.14 82.87 L402.47 82.29 L399.93 82.08 L397.39 82.19 L394.88 82.65 L392.46 83.47 L390.37 84.57 L388.47 85.99 L386.95 87.56 L385.62 89.52 L384.71 91.52 L384.15 93.64 L383.94 96.00 L384.15 98.36 L384.71 100.48 L385.62 102.48 L386.95 104.44 L388.47 106.01 L390.37 107.43 L392.46 108.53 L394.88 109.35 L397.39 109.81 L399.93 109.92 L402.47 109.71 L405.14 109.13 L407.72 108.22 L410.17 107.00 L412.44 105.49 L414.38 103.82 M345.82 93.67 L345.18 88.18 L344.22 83.30 L343.68 81.36 L343.08 79.63 L342.43 78.13 L341.64 76.69 L340.69 75.35 L339.70 74.27 L338.57 73.35 L337.48 72.68 L336.32 72.16 L334.91 71.77 L333.47 71.59 L332.01 71.60 L330.39 71.84 L328.81 72.29 L327.14 73.01 L325.56 73.92 L324.09 75.00 L322.61 76.35 L321.26 77.84 L320.06 79.45 L318.99 81.15 L317.97 83.09 L317.11 85.11 L316.41 87.19 L315.86 89.31 L315.47 91.47 L315.23 93.65 L315.14 96.02 L315.23 98.39 L315.47 100.57 L315.87 102.73 L316.42 104.85 L317.13 106.93 L317.99 108.94 L319.01 110.89 L320.08 112.58 L321.29 114.19 L322.64 115.67 L324.12 117.02 L325.60 118.10 L327.17 119.01 L328.85 119.72 L330.43 120.17 L332.05 120.40 L333.51 120.41 L334.95 120.22 L336.35 119.82 L337.52 119.30 L338.60 118.63 L339.73 117.70 L340.71 116.62 L341.66 115.28 L342.44 113.84 L343.10 112.33 L343.69 110.60 L344.23 108.66 L345.19 103.73 L345.83 98.24 M345.82 98.33 L345.18 103.82 L344.22 108.70 L343.68 110.64 L343.08 112.37 L342.43 113.87 L341.64 115.31 L340.69 116.65 L339.70 117.73 L338.57 118.65 L337.48 119.32 L336.32 119.84 L334.91 120.23 L333.47 120.41 L332.01 120.40 L330.39 120.16 L328.81 119.71 L327.14 118.99 L325.56 118.08 L324.09 117.00 L322.61 115.65 L321.26 114.16 L320.06 112.55 L318.99 110.85 L317.97 108.91 L317.11 106.89 L316.41 104.81 L315.86 102.69 L315.47 100.53 L315.23 98.35 L315.14 95.98 L315.23 93.61 L315.47 91.43 L315.87 89.27 L316.42 87.15 L317.13 85.07 L317.99 83.06 L319.01 81.11 L320.08 79.42 L321.29 77.81 L322.64 76.33 L324.12 74.98 L325.60 73.90 L327.17 72.99 L328.85 72.28 L330.43 71.83 L332.05 71.60 L333.51 71.59 L334.95 71.78 L336.35 72.18 L337.52 72.70 L338.60 73.37 L339.73 74.30 L340.71 75.38 L341.66 76.72 L342.44 78.16 L343.10 79.67 L343.69 81.40 L344.23 83.34 L345.19 88.27 L345.83 93.76 M346.07 93.67 L346.70 88.18 L348.21 79.12 L348.56 76.40 L348.66 74.76 L348.63 73.48 L348.49 72.39 L348.23 71.33 L347.63 70.00 L346.77 68.82 L345.69 67.84 L344.30 66.98 L342.61 66.29 L340.85 65.84 L338.86 65.61 L336.85 65.63 L334.68 65.90 L332.39 66.47 L330.17 67.31 L328.06 68.39 L326.08 69.69 L324.10 71.30 L322.29 73.11 L320.66 75.07 L319.11 77.33 L317.75 79.71 L316.60 82.19 L315.64 84.76 L314.88 87.40 L314.30 90.26 L313.95 93.16 L313.84 95.90 L313.94 98.64 L314.27 101.55 L314.84 104.41 L315.58 107.05 L316.52 109.63 L317.66 112.12 L319.00 114.51 L320.54 116.77 L322.16 118.75 L323.96 120.57 L325.92 122.19 L327.89 123.51 L329.99 124.61 L332.20 125.47 L334.49 126.06 L336.66 126.36 L338.66 126.40 L340.65 126.19 L342.43 125.77 L344.12 125.11 L345.53 124.28 L346.76 123.19 L347.63 122.02 L348.22 120.68 L348.49 119.62 L348.63 118.53 L348.66 117.26 L348.57 115.61 L348.21 112.90 L346.69 103.79 L346.06 98.25 M346.07 98.33 L346.70 103.82 L348.21 112.88 L348.56 115.60 L348.66 117.24 L348.63 118.52 L348.49 119.61 L348.23 120.67 L347.63 122.00 L346.77 123.18 L345.69 124.16 L344.30 125.02 L342.61 125.71 L340.85 126.16 L338.86 126.39 L336.85 126.37 L334.68 126.10 L332.39 125.53 L330.17 124.69 L328.06 123.61 L326.08 122.31 L324.10 120.70 L322.29 118.89 L320.66 116.93 L319.11 114.67 L317.75 112.29 L316.60 109.81 L315.64 107.24 L314.88 104.60 L314.30 101.74 L313.95 98.84 L313.84 96.10 L313.94 93.36 L314.27 90.45 L314.84 87.59 L315.58 84.95 L316.52 82.37 L317.66 79.88 L319.00 77.49 L320.54 75.23 L322.16 73.25 L323.96 71.43 L325.92 69.81 L327.89 68.49 L329.99 67.39 L332.20 66.53 L334.49 65.94 L336.66 65.64 L338.66 65.60 L340.65 65.81 L342.43 66.23 L344.12 66.89 L345.53 67.72 L346.76 68.81 L347.63 69.98 L348.22 71.32 L348.49 72.38 L348.63 73.47 L348.66 74.74 L348.57 76.39 L348.21 79.10 L346.69 88.21 L346.06 93.75 M346.27 93.69 L347.10 90.70 L348.33 87.55 L349.82 84.62 L351.60 81.86 L353.44 79.60 L355.33 77.88 L356.24 77.27 L357.06 76.87 L357.93 76.63 L358.66 76.60 L359.37 76.76 L360.03 77.08 L360.75 77.63 L361.50 78.43 L362.93 80.54 L364.28 83.34 L365.31 86.27 L366.09 89.46 L366.55 92.72 L366.71 96.00 L366.55 99.29 L366.08 102.55 L365.30 105.74 L364.27 108.67 L362.92 111.46 L361.49 113.58 L360.74 114.38 L360.02 114.93 L359.36 115.24 L358.65 115.40 L357.92 115.37 L357.05 115.13 L356.23 114.72 L355.32 114.12 L353.44 112.39 L351.59 110.13 L349.82 107.37 L348.31 104.40 L347.08 101.25 L346.26 98.25 M346.27 98.31 L347.10 101.30 L348.33 104.45 L349.82 107.38 L351.60 110.14 L353.44 112.40 L355.33 114.12 L356.24 114.73 L357.06 115.13 L357.93 115.37 L358.66 115.40 L359.37 115.24 L360.03 114.92 L360.75 114.37 L361.50 113.57 L362.93 111.46 L364.28 108.66 L365.31 105.73 L366.09 102.54 L366.55 99.28 L366.71 96.00 L366.55 92.71 L366.08 89.45 L365.30 86.26 L364.27 83.33 L362.92 80.54 L361.49 78.42 L360.74 77.62 L360.02 77.07 L359.36 76.76 L358.65 76.60 L357.92 76.63 L357.05 76.87 L356.23 77.28 L355.32 77.88 L353.44 79.61 L351.59 81.87 L349.82 84.63 L348.31 87.60 L347.08 90.75 L346.26 93.75 M345.62 93.69 L344.67 90.35 L343.28 87.03 L341.65 84.17 L340.69 82.84 L339.74 81.73 L338.70 80.71 L337.70 79.91 L336.63 79.21 L335.50 78.64 L334.30 78.20 L333.05 77.92 L331.97 77.81 L330.69 77.83 L329.43 78.01 L328.20 78.35 L327.02 78.83 L325.74 79.53 L324.55 80.38 L323.46 81.34 L322.46 82.41 L321.57 83.57 L320.68 84.95 L319.92 86.40 L319.27 87.92 L318.75 89.48 L318.05 92.69 L317.88 94.32 L317.82 96.15 L317.90 97.98 L318.10 99.61 L318.84 102.81 L319.38 104.36 L320.05 105.87 L320.83 107.31 L321.64 108.53 L322.54 109.68 L323.54 110.74 L324.64 111.69 L325.84 112.53 L327.13 113.22 L328.31 113.68 L329.55 114.01 L330.81 114.18 L332.08 114.19 L333.17 114.06 L334.24 113.82 L335.44 113.39 L336.58 112.82 L337.65 112.13 L338.65 111.33 L339.70 110.32 L340.65 109.21 L341.62 107.88 L343.25 105.03 L344.67 101.66 L345.64 98.24 M345.62 98.31 L344.67 101.65 L343.28 104.97 L341.65 107.83 L340.69 109.16 L339.74 110.27 L338.70 111.29 L337.70 112.09 L336.63 112.79 L335.50 113.36 L334.30 113.80 L333.05 114.08 L331.97 114.19 L330.69 114.17 L329.43 113.99 L328.20 113.65 L327.02 113.17 L325.74 112.47 L324.55 111.62 L323.46 110.66 L322.46 109.59 L321.57 108.43 L320.68 107.05 L319.92 105.60 L319.27 104.08 L318.75 102.52 L318.05 99.31 L317.88 97.68 L317.82 95.85 L317.90 94.02 L318.10 92.39 L318.84 89.19 L319.38 87.64 L320.05 86.13 L320.83 84.69 L321.64 83.47 L322.54 82.32 L323.54 81.26 L324.64 80.31 L325.84 79.47 L327.13 78.78 L328.31 78.32 L329.55 77.99 L330.81 77.82 L332.08 77.81 L333.17 77.94 L334.24 78.18 L335.44 78.61 L336.58 79.18 L337.65 79.87 L338.65 80.67 L339.70 81.68 L340.65 82.79 L341.62 84.12 L343.25 86.97 L344.67 90.34 L345.64 93.76 M416.16 87.22 L414.53 84.15 L412.67 81.23 L410.61 78.44 L408.24 75.66 L405.69 73.05 L402.84 70.49 L399.96 68.25 L396.94 66.20 L393.78 64.37 L390.67 62.85 L387.46 61.56 L384.33 60.58 L381.13 59.85 L377.88 59.40 L374.79 59.25 L371.69 59.37 L368.62 59.77 L365.42 60.49 L362.29 61.45 L356.29 63.63 L354.71 64.07 L353.28 64.35 L351.83 64.48 L350.37 64.47 L344.56 63.93 L341.83 63.81 L339.10 63.92 L336.57 64.27 L334.27 64.82 L332.03 65.58 L330.03 66.48 L327.97 67.64 L326.46 68.67 L324.89 69.92 L323.42 71.28 L322.05 72.75 L320.78 74.30 L319.61 75.94 L318.55 77.64 L317.50 79.57 L316.65 81.39 L315.84 83.43 L315.16 85.51 L314.60 87.63 L314.16 89.78 L313.86 91.95 L313.63 96.15 L313.89 100.34 L314.21 102.51 L314.67 104.66 L315.24 106.77 L315.95 108.85 L316.77 110.88 L317.64 112.69 L318.70 114.61 L319.77 116.31 L320.96 117.93 L322.24 119.47 L323.63 120.93 L324.97 122.16 L326.55 123.40 L328.06 124.42 L330.13 125.57 L332.13 126.46 L334.20 127.16 L336.51 127.72 L339.03 128.07 L341.76 128.19 L344.49 128.08 L350.30 127.54 L351.76 127.53 L353.21 127.65 L354.64 127.92 L356.22 128.36 L362.22 130.53 L365.35 131.50 L368.55 132.22 L371.80 132.65 L374.90 132.76 L377.99 132.59 L381.24 132.13 L384.44 131.39 L387.56 130.40 L390.77 129.11 L393.88 127.58 L397.03 125.74 L400.05 123.69 L402.92 121.44 L405.77 118.88 L408.31 116.26 L410.67 113.48 L412.73 110.68 L414.59 107.75 L416.21 104.69 M416.16 104.78 L414.53 107.85 L412.67 110.77 L410.61 113.56 L408.24 116.34 L405.69 118.95 L402.84 121.51 L399.96 123.75 L396.94 125.80 L393.78 127.63 L390.67 129.15 L387.46 130.44 L384.33 131.42 L381.13 132.15 L377.88 132.60 L374.79 132.75 L371.69 132.63 L368.62 132.23 L365.42 131.51 L362.29 130.55 L356.29 128.37 L354.71 127.93 L353.28 127.65 L351.83 127.52 L350.37 127.53 L344.56 128.07 L341.83 128.19 L339.10 128.08 L336.57 127.73 L334.27 127.18 L332.03 126.42 L330.03 125.52 L327.97 124.36 L326.46 123.33 L324.89 122.08 L323.42 120.72 L322.05 119.25 L320.78 117.70 L319.61 116.06 L318.55 114.36 L317.50 112.43 L316.65 110.61 L315.84 108.57 L315.16 106.49 L314.60 104.37 L314.16 102.22 L313.86 100.05 L313.63 95.85 L313.89 91.66 L314.21 89.49 L314.67 87.34 L315.24 85.23 L315.95 83.15 L316.77 81.12 L317.64 79.31 L318.70 77.39 L319.77 75.69 L320.96 74.07 L322.24 72.53 L323.63 71.07 L324.97 69.84 L326.55 68.60 L328.06 67.58 L330.13 66.43 L332.13 65.54 L334.20 64.84 L336.51 64.28 L339.03 63.93 L341.76 63.81 L344.49 63.92 L350.30 64.46 L351.76 64.47 L353.21 64.35 L354.64 64.08 L356.22 63.64 L362.22 61.47 L365.35 60.50 L368.55 59.78 L371.80 59.35 L374.90 59.24 L377.99 59.41 L381.24 59.87 L384.44 60.61 L387.56 61.60 L390.77 62.89 L393.88 64.42 L397.03 66.26 L400.05 68.31 L402.92 70.56 L405.77 73.12 L408.31 75.74 L410.67 78.52 L412.73 81.32 L414.59 84.25 L416.21 87.31 M415.96 87.28 L414.89 85.37 L413.72 83.52 L410.97 79.87 L407.89 76.51 L404.36 73.34 L400.54 70.53 L396.63 68.18 L392.52 66.23 L390.30 65.39 L388.22 64.73 L384.14 63.78 L381.97 63.48 L379.97 63.32 L377.97 63.28 L375.97 63.36 L373.97 63.57 L372.18 63.88 L368.66 64.83 L365.28 66.20 L362.09 67.95 L358.00 70.71 L357.52 70.96 L356.99 71.08 L356.63 71.03 L356.13 70.80 L353.17 68.67 L351.15 67.44 L349.18 66.47 L347.32 65.74 L345.04 65.09 L342.71 64.67 L340.35 64.50 L337.98 64.58 L335.64 64.91 L333.16 65.54 L330.78 66.44 L328.50 67.60 L326.37 68.99 L324.38 70.60 L322.56 72.39 L320.80 74.49 L319.23 76.73 L317.77 79.26 L316.53 81.91 L315.51 84.65 L314.72 87.46 L314.15 90.33 L313.81 93.23 L313.70 96.16 L313.83 99.08 L314.20 101.98 L314.79 104.84 L315.61 107.65 L316.65 110.38 L317.91 113.01 L319.40 115.53 L320.99 117.76 L322.77 119.83 L324.61 121.60 L326.62 123.19 L328.77 124.56 L331.06 125.68 L333.28 126.50 L335.76 127.11 L338.11 127.43 L340.29 127.50 L342.65 127.34 L344.81 126.97 L347.09 126.34 L348.97 125.63 L350.78 124.77 L352.83 123.57 L355.84 121.51 L356.33 121.28 L356.87 121.18 L357.40 121.28 L358.06 121.60 L362.34 124.38 L365.57 126.08 L368.96 127.39 L372.32 128.25 L376.11 128.74 L378.11 128.81 L380.12 128.76 L382.11 128.59 L384.28 128.27 L388.35 127.30 L390.43 126.62 L392.65 125.77 L396.75 123.80 L400.65 121.44 L404.46 118.61 L407.97 115.43 L411.05 112.06 L413.78 108.40 L414.95 106.55 L416.02 104.63 M415.96 104.72 L414.89 106.63 L413.72 108.48 L410.97 112.13 L407.89 115.49 L404.36 118.66 L400.54 121.47 L396.63 123.82 L392.52 125.77 L390.30 126.61 L388.22 127.27 L384.14 128.22 L381.97 128.52 L379.97 128.68 L377.97 128.72 L375.97 128.64 L373.97 128.43 L372.18 128.12 L368.66 127.17 L365.28 125.80 L362.09 124.05 L358.00 121.29 L357.52 121.04 L356.99 120.92 L356.63 120.97 L356.13 121.20 L353.17 123.33 L351.15 124.56 L349.18 125.53 L347.32 126.26 L345.04 126.91 L342.71 127.33 L340.35 127.50 L337.98 127.42 L335.64 127.09 L333.16 126.46 L330.78 125.56 L328.50 124.40 L326.37 123.01 L324.38 121.40 L322.56 119.61 L320.80 117.51 L319.23 115.27 L317.77 112.74 L316.53 110.09 L315.51 107.35 L314.72 104.54 L314.15 101.67 L313.81 98.77 L313.70 95.84 L313.83 92.92 L314.20 90.02 L314.79 87.16 L315.61 84.35 L316.65 81.62 L317.91 78.99 L319.40 76.47 L320.99 74.24 L322.77 72.17 L324.61 70.40 L326.62 68.81 L328.77 67.44 L331.06 66.32 L333.28 65.50 L335.76 64.89 L338.11 64.57 L340.29 64.50 L342.65 64.66 L344.81 65.03 L347.09 65.66 L348.97 66.37 L350.78 67.23 L352.83 68.43 L355.84 70.49 L356.33 70.72 L356.87 70.82 L357.40 70.72 L358.06 70.40 L362.34 67.62 L365.57 65.92 L368.96 64.61 L372.32 63.75 L376.11 63.26 L378.11 63.19 L380.12 63.24 L382.11 63.41 L384.28 63.73 L388.35 64.70 L390.43 65.38 L392.65 66.23 L396.75 68.20 L400.65 70.56 L404.46 73.39 L407.97 76.57 L411.05 79.94 L413.78 83.60 L414.95 85.45 L416.02 87.37 M415.96 87.28 L414.88 85.37 L413.70 83.52 L410.95 79.88 L407.86 76.53 L404.32 73.37 L400.50 70.57 L396.58 68.23 L392.46 66.30 L388.33 64.86 L384.24 63.92 L382.08 63.62 L380.08 63.46 L378.08 63.42 L376.07 63.51 L374.08 63.72 L372.11 64.07 L368.60 65.05 L366.89 65.70 L365.07 66.53 L361.76 68.45 L357.78 71.35 L357.10 71.58 L356.61 71.36 L354.19 69.42 L352.07 67.99 L349.99 66.85 L347.81 65.92 L345.37 65.17 L342.87 64.69 L340.33 64.50 L337.96 64.58 L335.61 64.92 L333.14 65.55 L330.76 66.45 L328.49 67.61 L326.35 69.01 L324.37 70.62 L322.55 72.41 L320.78 74.50 L319.22 76.75 L317.76 79.28 L316.52 81.93 L315.50 84.67 L314.71 87.48 L314.14 90.35 L313.81 93.26 L313.70 96.18 L313.84 99.10 L314.20 102.00 L314.79 104.86 L315.62 107.67 L316.66 110.40 L317.92 113.03 L319.41 115.55 L321.00 117.78 L322.79 119.85 L324.63 121.62 L326.64 123.20 L328.79 124.57 L331.08 125.69 L333.31 126.51 L335.78 127.12 L338.13 127.43 L340.31 127.50 L342.68 127.33 L345.01 126.92 L347.29 126.27 L349.15 125.54 L351.12 124.57 L353.14 123.34 L356.11 121.22 L356.60 120.99 L356.96 120.94 L357.49 121.05 L357.98 121.30 L362.22 124.15 L365.43 125.88 L368.81 127.23 L372.34 128.16 L374.14 128.45 L376.13 128.66 L378.13 128.73 L380.14 128.68 L382.13 128.51 L384.30 128.19 L388.37 127.23 L390.46 126.56 L392.67 125.71 L396.78 123.74 L400.68 121.38 L404.48 118.56 L408.00 115.37 L411.08 112.00 L413.81 108.35 L414.98 106.49 L416.04 104.58 M415.96 104.72 L414.88 106.63 L413.70 108.48 L410.95 112.12 L407.86 115.47 L404.32 118.63 L400.50 121.43 L396.58 123.77 L392.46 125.70 L388.33 127.14 L384.24 128.08 L382.08 128.38 L380.08 128.54 L378.08 128.58 L376.07 128.49 L374.08 128.28 L372.11 127.93 L368.60 126.95 L366.89 126.30 L365.07 125.47 L361.76 123.55 L357.78 120.65 L357.10 120.42 L356.61 120.64 L354.19 122.58 L352.07 124.01 L349.99 125.15 L347.81 126.08 L345.37 126.83 L342.87 127.31 L340.33 127.50 L337.96 127.42 L335.61 127.08 L333.14 126.45 L330.76 125.55 L328.49 124.39 L326.35 122.99 L324.37 121.38 L322.55 119.59 L320.78 117.50 L319.22 115.25 L317.76 112.72 L316.52 110.07 L315.50 107.33 L314.71 104.52 L314.14 101.65 L313.81 98.74 L313.70 95.82 L313.84 92.90 L314.20 90.00 L314.79 87.14 L315.62 84.33 L316.66 81.60 L317.92 78.97 L319.41 76.45 L321.00 74.22 L322.79 72.15 L324.63 70.38 L326.64 68.80 L328.79 67.43 L331.08 66.31 L333.31 65.49 L335.78 64.88 L338.13 64.57 L340.31 64.50 L342.68 64.67 L345.01 65.08 L347.29 65.73 L349.15 66.46 L351.12 67.43 L353.14 68.66 L356.11 70.78 L356.60 71.01 L356.96 71.06 L357.49 70.95 L357.98 70.70 L362.22 67.85 L365.43 66.12 L368.81 64.77 L372.34 63.84 L374.14 63.55 L376.13 63.34 L378.13 63.27 L380.14 63.32 L382.13 63.49 L384.30 63.81 L388.37 64.77 L390.46 65.44 L392.67 66.29 L396.78 68.26 L400.68 70.62 L404.48 73.44 L408.00 76.63 L411.08 80.00 L413.81 83.65 L414.98 85.51 L416.04 87.42 M415.93 87.29 L413.97 84.00 L411.59 80.76 L408.94 77.75 L405.90 74.85 L402.62 72.23 L399.29 70.00 L395.78 68.06 L392.11 66.44 L388.48 65.22 L384.75 64.37 L381.14 63.92 L377.68 63.86 L374.23 64.19 L371.02 64.87 L367.74 65.97 L364.79 67.39 L362.47 68.84 L360.46 70.42 L359.10 71.89 L358.83 72.37 L358.72 72.90 L359.00 73.76 L361.46 77.39 L363.07 80.25 L364.33 83.09 L365.38 86.20 L366.17 89.58 L366.63 93.02 L366.75 96.68 L366.52 100.14 L366.13 102.67 L365.60 104.99 L364.93 107.26 L364.10 109.49 L362.35 113.11 L361.12 115.14 L359.06 118.15 L358.81 118.64 L358.72 119.17 L359.04 120.02 L359.86 121.00 L361.36 122.33 L363.13 123.61 L364.85 124.64 L366.81 125.62 L368.83 126.44 L370.92 127.11 L372.87 127.57 L374.85 127.90 L376.84 128.09 L379.03 128.16 L381.03 128.09 L383.20 127.87 L385.36 127.52 L387.50 127.04 L389.60 126.44 L391.84 125.66 L396.01 123.82 L398.10 122.70 L400.12 121.48 L403.99 118.73 L407.57 115.62 L410.82 112.17 L412.31 110.32 L413.70 108.40 L414.89 106.55 L415.97 104.65 M415.93 104.71 L413.97 108.00 L411.59 111.24 L408.94 114.25 L405.90 117.15 L402.62 119.77 L399.29 122.00 L395.78 123.94 L392.11 125.56 L388.48 126.78 L384.75 127.63 L381.14 128.08 L377.68 128.14 L374.23 127.81 L371.02 127.13 L367.74 126.03 L364.79 124.61 L362.47 123.16 L360.46 121.58 L359.10 120.11 L358.83 119.63 L358.72 119.10 L359.00 118.24 L361.46 114.61 L363.07 111.75 L364.33 108.91 L365.38 105.80 L366.17 102.42 L366.63 98.98 L366.75 95.32 L366.52 91.86 L366.13 89.33 L365.60 87.01 L364.93 84.74 L364.10 82.51 L362.35 78.89 L361.12 76.86 L359.06 73.85 L358.81 73.36 L358.72 72.83 L359.04 71.98 L359.86 71.00 L361.36 69.67 L363.13 68.39 L364.85 67.36 L366.81 66.38 L368.83 65.56 L370.92 64.89 L372.87 64.43 L374.85 64.10 L376.84 63.91 L379.03 63.84 L381.03 63.91 L383.20 64.13 L385.36 64.48 L387.50 64.96 L389.60 65.56 L391.84 66.34 L396.01 68.18 L398.10 69.30 L400.12 70.52 L403.99 73.27 L407.57 76.38 L410.82 79.83 L412.31 81.68 L413.70 83.60 L414.89 85.45 L415.97 87.35 M415.78 87.34 L413.93 84.41 L411.82 81.66 L409.36 78.96 L406.68 76.48 L403.81 74.23 L400.77 72.22 L397.57 70.46 L394.24 68.99 L390.96 67.88 L387.59 67.07 L384.35 66.61 L381.07 66.48 L377.98 66.69 L374.93 67.24 L372.14 68.08 L369.48 69.27 L367.02 70.83 L366.04 71.65 L365.14 72.56 L364.47 73.42 L363.92 74.37 L363.59 75.22 L363.41 76.12 L363.38 77.39 L363.64 79.02 L365.47 85.34 L366.30 89.08 L366.77 92.52 L366.93 95.99 L366.75 99.64 L366.24 103.26 L365.42 106.82 L363.69 112.78 L363.44 114.04 L363.36 115.13 L363.50 116.40 L363.91 117.61 L364.56 118.71 L365.50 119.83 L366.72 120.93 L368.20 121.99 L369.79 122.89 L371.61 123.71 L373.51 124.38 L375.44 124.88 L377.42 125.24 L379.41 125.45 L381.41 125.52 L383.60 125.45 L385.77 125.23 L387.93 124.87 L390.06 124.37 L392.16 123.75 L396.24 122.17 L400.12 120.17 L403.94 117.68 L407.49 114.81 L410.73 111.60 L413.49 108.20 L414.73 106.40 L415.86 104.52 M415.78 104.66 L413.93 107.59 L411.82 110.34 L409.36 113.04 L406.68 115.52 L403.81 117.77 L400.77 119.78 L397.57 121.54 L394.24 123.01 L390.96 124.12 L387.59 124.93 L384.35 125.39 L381.07 125.52 L377.98 125.31 L374.93 124.76 L372.14 123.92 L369.48 122.73 L367.02 121.17 L366.04 120.35 L365.14 119.44 L364.47 118.58 L363.92 117.63 L363.59 116.78 L363.41 115.88 L363.38 114.61 L363.64 112.98 L365.47 106.66 L366.30 102.92 L366.77 99.48 L366.93 96.01 L366.75 92.36 L366.24 88.74 L365.42 85.18 L363.69 79.22 L363.44 77.96 L363.36 76.87 L363.50 75.60 L363.91 74.39 L364.56 73.29 L365.50 72.17 L366.72 71.07 L368.20 70.01 L369.79 69.11 L371.61 68.29 L373.51 67.62 L375.44 67.12 L377.42 66.76 L379.41 66.55 L381.41 66.48 L383.60 66.55 L385.77 66.77 L387.93 67.13 L390.06 67.63 L392.16 68.25 L396.24 69.83 L400.12 71.83 L403.94 74.32 L407.49 77.19 L410.73 80.40 L413.49 83.80 L414.73 85.60 L415.86 87.48" fill="none" stroke="#333333" stroke-width="0.8" stroke-linejoin="round"/>
<path d="M392.44 192.88 L389.47 190.71 L386.53 188.53 L383.62 186.35 L380.74 184.18 L377.90 182.00 L375.08 179.82 L372.30 177.64 L369.56 175.47 L366.86 173.29 L364.20 171.11 L361.58 168.94 L359.00 166.76 L356.46 164.58 L353.98 162.40 L351.54 160.23 L349.15 158.05 L346.82 155.87 L344.53 153.69 L342.31 151.52 L340.15 149.34 L338.04 147.16 L336.00 144.99 L334.03 142.81 L332.12 140.63 L330.28 138.45 L328.52 136.28 L326.83 134.10 L325.22 131.92 L323.68 129.75 L322.23 127.57 L320.87 125.39 L319.59 123.21 L318.40 121.04 L317.30 118.86 L316.29 116.68 L315.38 114.51 L314.57 112.33 L313.85 110.15 L313.23 107.97 L312.72 105.80 L312.30 103.62 L311.99 101.44 L311.79 99.27 L311.68 97.09 L311.68 94.91 L311.79 92.73 L311.99 90.56 L312.30 88.38 L312.72 86.20 L313.23 84.03 L313.85 81.85 L314.57 79.67 L315.38 77.49 L316.29 75.32 L317.30 73.14 L318.40 70.96 L319.59 68.79 L320.87 66.61 L322.23 64.43 L323.68 62.25 L325.22 60.08 L326.83 57.90 L328.52 55.72 L330.28 53.55 L332.12 51.37 L334.03 49.19 L336.00 47.01 L338.04 44.84 L340.15 42.66 L342.31 40.48 L344.53 38.31 L346.82 36.13 L349.15 33.95 L351.54 31.77 L353.98 29.60 L356.46 27.42 L359.00 25.24 L361.58 23.06 L364.20 20.89 L366.86 18.71 L369.56 16.53 L372.30 14.36 L375.08 12.18 L377.90 10.00 L380.74 7.82 L383.62 5.65 L386.53 3.47 L389.47 1.29 L392.44 -0.88" fill="none" stroke="#8c90f2" stroke-width="0.9"/>
<circle cx="418.99" cy="95.80" r="9.1" fill="#0a3cff" stroke="#1a1a1a" stroke-width="0.8"/>
<circle cx="345.94" cy="96.00" r="2.2" fill="#c8282e" stroke="#222" stroke-width="0.7"/>
</g>
<rect x="236.6" y="4.6" width="227.80" height="182.80" fill="none" stroke="#3a3a3a" stroke-width="1.2"/>
<line x1="464.40" y1="187.4" x2="464.40" y2="195.90" stroke="#3a3a3a" stroke-width="1"/>
<line x1="455.29" y1="187.4" x2="455.29" y2="191.40" stroke="#3a3a3a" stroke-width="1"/>
<line x1="446.18" y1="187.4" x2="446.18" y2="191.40" stroke="#3a3a3a" stroke-width="1"/>
<line x1="437.06" y1="187.4" x2="437.06" y2="191.40" stroke="#3a3a3a" stroke-width="1"/>
<line x1="427.95" y1="187.4" x2="427.95" y2="191.40" stroke="#3a3a3a" stroke-width="1"/>
<line x1="418.84" y1="187.4" x2="418.84" y2="195.90" stroke="#3a3a3a" stroke-width="1"/>
<line x1="409.73" y1="187.4" x2="409.73" y2="191.40" stroke="#3a3a3a" stroke-width="1"/>
<line x1="400.62" y1="187.4" x2="400.62" y2="191.40" stroke="#3a3a3a" stroke-width="1"/>
<line x1="391.50" y1="187.4" x2="391.50" y2="191.40" stroke="#3a3a3a" stroke-width="1"/>
<line x1="382.39" y1="187.4" x2="382.39" y2="191.40" stroke="#3a3a3a" stroke-width="1"/>
<line x1="373.28" y1="187.4" x2="373.28" y2="195.90" stroke="#3a3a3a" stroke-width="1"/>
<line x1="364.17" y1="187.4" x2="364.17" y2="191.40" stroke="#3a3a3a" stroke-width="1"/>
<line x1="355.06" y1="187.4" x2="355.06" y2="191.40" stroke="#3a3a3a" stroke-width="1"/>
<line x1="345.94" y1="187.4" x2="345.94" y2="191.40" stroke="#3a3a3a" stroke-width="1"/>
<line x1="336.83" y1="187.4" x2="336.83" y2="191.40" stroke="#3a3a3a" stroke-width="1"/>
<line x1="327.72" y1="187.4" x2="327.72" y2="195.90" stroke="#3a3a3a" stroke-width="1"/>
<line x1="318.61" y1="187.4" x2="318.61" y2="191.40" stroke="#3a3a3a" stroke-width="1"/>
<line x1="309.50" y1="187.4" x2="309.50" y2="191.40" stroke="#3a3a3a" stroke-width="1"/>
<line x1="300.38" y1="187.4" x2="300.38" y2="191.40" stroke="#3a3a3a" stroke-width="1"/>
<line x1="291.27" y1="187.4" x2="291.27" y2="191.40" stroke="#3a3a3a" stroke-width="1"/>
<line x1="282.16" y1="187.4" x2="282.16" y2="195.90" stroke="#3a3a3a" stroke-width="1"/>
<line x1="273.05" y1="187.4" x2="273.05" y2="191.40" stroke="#3a3a3a" stroke-width="1"/>
<line x1="263.94" y1="187.4" x2="263.94" y2="191.40" stroke="#3a3a3a" stroke-width="1"/>
<line x1="254.82" y1="187.4" x2="254.82" y2="191.40" stroke="#3a3a3a" stroke-width="1"/>
<line x1="245.71" y1="187.4" x2="245.71" y2="191.40" stroke="#3a3a3a" stroke-width="1"/>
<line x1="236.60" y1="187.4" x2="236.60" y2="195.90" stroke="#3a3a3a" stroke-width="1"/>
<text x="237.40" y="206.00" text-anchor="middle" font-size="9.8">20</text>
<text x="282.96" y="206.00" text-anchor="middle" font-size="9.8">15</text>
<text x="328.52" y="206.00" text-anchor="middle" font-size="9.8">10</text>
<text x="374.08" y="206.00" text-anchor="middle" font-size="9.8">5</text>
<text x="419.64" y="206.00" text-anchor="middle" font-size="9.8">0</text>
<text x="462.10" y="206.00" text-anchor="middle" font-size="9.8">-5</text>
<g clip-path="url(#c3)">
<line x1="480.6" y1="95.80" x2="754.5" y2="95.80" stroke="#5a5a5a" stroke-width="1.15" stroke-dasharray="9.7 9.4" stroke-dashoffset="0.40"/>
<line x1="708.85" y1="4.6" x2="708.85" y2="187.0" stroke="#5a5a5a" stroke-width="1.15" stroke-dasharray="9.2 9.9" stroke-dashoffset="5.8"/>
<path d="M704.19 103.58 L702.35 105.07 L700.18 106.42 L697.87 107.50 L695.44 108.30 L692.93 108.79 L690.57 108.96 L688.02 108.81 L685.69 108.36 L683.45 107.59 L681.34 106.50 L679.57 105.21 L678.03 103.66 L676.76 101.88 L675.81 99.91 L675.24 97.80 L675.07 95.80 L675.24 93.80 L675.81 91.69 L676.76 89.72 L678.03 87.94 L679.57 86.39 L681.34 85.10 L683.45 84.01 L685.69 83.24 L688.02 82.79 L690.57 82.64 L692.93 82.81 L695.44 83.30 L697.87 84.10 L700.18 85.18 L702.35 86.53 L704.19 88.02 M704.19 88.02 L702.35 86.53 L700.18 85.18 L697.87 84.10 L695.44 83.30 L692.93 82.81 L690.57 82.64 L688.02 82.79 L685.69 83.24 L683.45 84.01 L681.34 85.10 L679.57 86.39 L678.03 87.94 L676.76 89.72 L675.81 91.69 L675.24 93.80 L675.07 95.80 L675.24 97.80 L675.81 99.91 L676.76 101.88 L678.03 103.66 L679.57 105.21 L681.34 106.50 L683.45 107.59 L685.69 108.36 L688.02 108.81 L690.57 108.96 L692.93 108.79 L695.44 108.30 L697.87 107.50 L700.18 106.42 L702.35 105.07 L704.19 103.58 M705.84 104.24 L704.38 106.55 L702.64 108.90 L700.74 111.11 L698.54 113.30 L696.34 115.22 L693.87 117.09 L691.26 118.78 L688.71 120.20 L686.07 121.44 L683.35 122.50 L680.56 123.36 L677.71 124.01 L675.00 124.41 L672.27 124.62 L669.53 124.60 L666.80 124.36 L664.10 123.90 L661.46 123.20 L658.88 122.27 L656.56 121.20 L654.19 119.84 L652.10 118.37 L650.14 116.73 L648.34 114.92 L646.60 112.81 L645.16 110.70 L643.83 108.30 L642.81 105.97 L642.00 103.54 L641.42 101.06 L641.05 98.53 L640.92 95.80 L641.05 93.07 L641.42 90.54 L642.00 88.06 L642.81 85.63 L643.83 83.30 L645.16 80.90 L646.60 78.79 L648.34 76.68 L650.14 74.87 L652.10 73.23 L654.19 71.76 L656.56 70.40 L658.88 69.33 L661.46 68.40 L664.10 67.70 L666.80 67.24 L669.53 67.00 L672.27 66.98 L675.00 67.19 L677.71 67.59 L680.56 68.24 L683.35 69.10 L686.07 70.16 L688.71 71.40 L691.26 72.82 L693.87 74.51 L696.34 76.38 L698.54 78.30 L700.74 80.49 L702.64 82.70 L704.38 85.05 L705.84 87.36 M705.84 87.36 L704.38 85.05 L702.64 82.70 L700.74 80.49 L698.54 78.30 L696.34 76.38 L693.87 74.51 L691.26 72.82 L688.71 71.40 L686.07 70.16 L683.35 69.10 L680.56 68.24 L677.71 67.59 L675.00 67.19 L672.27 66.98 L669.53 67.00 L666.80 67.24 L664.10 67.70 L661.46 68.40 L658.88 69.33 L656.56 70.40 L654.19 71.76 L652.10 73.23 L650.14 74.87 L648.34 76.68 L646.60 78.79 L645.16 80.90 L643.83 83.30 L642.81 85.63 L642.00 88.06 L641.42 90.54 L641.05 93.07 L640.92 95.80 L641.05 98.53 L641.42 101.06 L642.00 103.54 L642.81 105.97 L643.83 108.30 L645.16 110.70 L646.60 112.81 L648.34 114.92 L650.14 116.73 L652.10 118.37 L654.19 119.84 L656.56 121.20 L658.88 122.27 L661.46 123.20 L664.10 123.90 L666.80 124.36 L669.53 124.60 L672.27 124.62 L675.00 124.41 L677.71 124.01 L680.56 123.36 L683.35 122.50 L686.07 121.44 L688.71 120.20 L691.26 118.78 L693.87 117.09 L696.34 115.22 L698.54 113.30 L700.74 111.11 L702.64 108.90 L704.38 106.55 L705.84 104.24 M706.80 104.52 L705.06 108.74 L702.83 113.13 L700.29 117.35 L697.36 121.53 L694.15 125.50 L690.67 129.25 L687.08 132.62 L683.25 135.72 L679.50 138.32 L675.55 140.61 L671.76 142.39 L667.81 143.83 L663.93 144.85 L659.96 145.48 L655.95 145.72 L651.94 145.55 L647.61 144.93 L643.36 143.87 L639.06 142.33 L634.93 140.39 L631.00 138.07 L627.31 135.40 L623.88 132.39 L620.75 129.07 L618.07 125.61 L615.82 122.07 L613.84 118.16 L612.23 114.09 L610.95 109.72 L610.06 105.25 L609.51 100.54 L609.33 95.80 L609.51 91.06 L610.06 86.35 L610.95 81.88 L612.23 77.51 L613.84 73.44 L615.82 69.53 L618.07 65.99 L620.75 62.53 L623.88 59.21 L627.31 56.20 L631.00 53.53 L634.93 51.21 L639.06 49.27 L643.36 47.73 L647.61 46.67 L651.94 46.05 L655.95 45.88 L659.96 46.12 L663.93 46.75 L667.81 47.77 L671.76 49.21 L675.55 50.99 L679.50 53.28 L683.25 55.88 L687.08 58.98 L690.67 62.35 L694.15 66.10 L697.36 70.07 L700.29 74.25 L702.83 78.47 L705.06 82.86 L706.80 87.08 M706.80 87.08 L705.06 82.86 L702.83 78.47 L700.29 74.25 L697.36 70.07 L694.15 66.10 L690.67 62.35 L687.08 58.98 L683.25 55.88 L679.50 53.28 L675.55 50.99 L671.76 49.21 L667.81 47.77 L663.93 46.75 L659.96 46.12 L655.95 45.88 L651.94 46.05 L647.61 46.67 L643.36 47.73 L639.06 49.27 L634.93 51.21 L631.00 53.53 L627.31 56.20 L623.88 59.21 L620.75 62.53 L618.07 65.99 L615.82 69.53 L613.84 73.44 L612.23 77.51 L610.95 81.88 L610.06 86.35 L609.51 91.06 L609.33 95.80 L609.51 100.54 L610.06 105.25 L610.95 109.72 L612.23 114.09 L613.84 118.16 L615.82 122.07 L618.07 125.61 L620.75 129.07 L623.88 132.39 L627.31 135.40 L631.00 138.07 L634.93 140.39 L639.06 142.33 L643.36 143.87 L647.61 144.93 L651.94 145.55 L655.95 145.72 L659.96 145.48 L663.93 144.85 L667.81 143.83 L671.76 142.39 L675.55 140.61 L679.50 138.32 L683.25 135.72 L687.08 132.62 L690.67 129.25 L694.15 125.50 L697.36 121.53 L700.29 117.35 L702.83 113.13 L705.06 108.74 L706.80 104.52 M707.59 104.71 L706.19 110.38 L704.31 116.47 L702.04 122.64 L699.39 128.85 L696.53 134.76 L693.38 140.52 L690.02 145.95 L686.65 150.72 L683.45 154.69 L680.21 158.16 L676.96 161.10 L673.59 163.60 L670.13 165.64 L666.63 167.18 L662.96 168.29 L659.19 168.97 L656.46 169.21 L653.72 169.25 L650.80 169.12 L647.90 168.81 L644.83 168.33 L641.61 167.66 L638.25 166.81 L634.75 165.77 L631.12 164.53 L627.54 163.16 L624.01 161.67 L620.37 159.97 L616.79 158.14 L613.45 156.27 L610.33 154.37 L607.29 152.35 L604.79 150.52 L602.50 148.70 L600.44 146.90 L598.47 145.00 L596.73 143.13 L595.22 141.30 L593.83 139.38 L592.57 137.37 L591.54 135.44 L590.65 133.44 L589.92 131.38 L589.34 129.27 L588.91 127.12 L588.59 124.77 L588.40 122.23 L588.34 119.49 L588.46 114.75 L589.11 102.55 L589.25 96.16 L589.10 88.69 L588.38 74.84 L588.34 71.56 L588.43 68.83 L588.82 65.02 L589.51 61.63 L590.59 58.33 L592.03 55.18 L593.32 52.98 L594.89 50.73 L596.73 48.47 L598.73 46.34 L600.98 44.21 L603.49 42.09 L606.25 39.99 L609.26 37.92 L612.51 35.88 L615.99 33.89 L619.55 32.03 L623.34 30.23 L627.20 28.57 L630.95 27.13 L634.75 25.83 L638.43 24.74 L641.61 23.94 L644.83 23.27 L647.72 22.81 L650.62 22.50 L653.36 22.35 L655.91 22.37 L658.46 22.55 L660.99 22.90 L663.49 23.44 L665.77 24.12 L667.98 24.96 L670.13 25.96 L672.21 27.12 L674.35 28.51 L676.39 30.04 L678.48 31.81 L680.72 33.96 L682.96 36.36 L685.20 39.01 L687.42 41.91 L689.61 45.05 L691.79 48.42 L693.84 51.87 L695.86 55.55 L697.84 59.45 L699.69 63.42 L701.42 67.44 L702.96 71.35 L704.36 75.30 L705.64 79.30 L706.71 83.16 L707.59 86.89 M707.59 86.89 L706.19 81.22 L704.31 75.13 L702.04 68.96 L699.39 62.75 L696.53 56.84 L693.38 51.08 L690.02 45.65 L686.65 40.88 L683.45 36.91 L680.21 33.44 L676.96 30.50 L673.59 28.00 L670.13 25.96 L666.63 24.42 L662.96 23.31 L659.19 22.63 L656.46 22.39 L653.72 22.35 L650.80 22.48 L647.90 22.79 L644.83 23.27 L641.61 23.94 L638.25 24.79 L634.75 25.83 L631.12 27.07 L627.54 28.44 L624.01 29.93 L620.37 31.63 L616.79 33.46 L613.45 35.33 L610.33 37.23 L607.29 39.25 L604.79 41.08 L602.50 42.90 L600.44 44.70 L598.47 46.60 L596.73 48.47 L595.22 50.30 L593.83 52.22 L592.57 54.23 L591.54 56.16 L590.65 58.16 L589.92 60.22 L589.34 62.33 L588.91 64.48 L588.59 66.83 L588.40 69.37 L588.34 72.11 L588.46 76.85 L589.11 89.05 L589.25 95.44 L589.10 102.91 L588.38 116.76 L588.34 120.04 L588.43 122.77 L588.82 126.58 L589.51 129.97 L590.59 133.27 L592.03 136.42 L593.32 138.62 L594.89 140.87 L596.73 143.13 L598.73 145.26 L600.98 147.39 L603.49 149.51 L606.25 151.61 L609.26 153.68 L612.51 155.72 L615.99 157.71 L619.55 159.57 L623.34 161.37 L627.20 163.03 L630.95 164.47 L634.75 165.77 L638.43 166.86 L641.61 167.66 L644.83 168.33 L647.72 168.79 L650.62 169.10 L653.36 169.25 L655.91 169.23 L658.46 169.05 L660.99 168.70 L663.49 168.16 L665.77 167.48 L667.98 166.64 L670.13 165.64 L672.21 164.48 L674.35 163.09 L676.39 161.56 L678.48 159.79 L680.72 157.64 L682.96 155.24 L685.20 152.59 L687.42 149.69 L689.61 146.55 L691.79 143.18 L693.84 139.73 L695.86 136.05 L697.84 132.15 L699.69 128.18 L701.42 124.16 L702.96 120.25 L704.36 116.30 L705.64 112.30 L706.71 108.44 L707.59 104.71 M707.89 104.70 L706.69 110.97 L705.12 117.53 L703.17 124.38 L700.89 131.31 L698.34 138.15 L695.59 144.71 L692.72 150.81 L689.80 156.29 L687.06 160.81 L684.35 164.71 L681.58 168.09 L678.76 170.95 L675.92 173.24 L672.97 175.06 L669.97 176.40 L666.65 177.38 L664.31 177.79 L661.77 178.03 L659.03 178.08 L656.11 177.94 L653.02 177.61 L649.78 177.09 L646.20 176.36 L642.48 175.44 L638.26 174.25 L633.91 172.87 L629.43 171.31 L624.99 169.63 L620.42 167.77 L616.08 165.87 L611.95 163.93 L607.87 161.87 L601.18 158.13 L595.51 154.47 L593.00 152.64 L590.73 150.80 L588.83 149.10 L587.03 147.28 L585.48 145.49 L584.19 143.72 L583.15 142.00 L582.28 140.19 L581.60 138.31 L581.16 136.54 L580.88 134.55 L580.79 132.55 L580.93 129.63 L581.42 126.20 L584.09 113.72 L585.12 107.97 L585.76 102.54 L586.04 97.26 L586.03 93.98 L585.88 90.70 L585.60 87.43 L585.20 84.17 L584.13 78.06 L581.58 66.29 L581.15 63.78 L580.88 61.42 L580.79 58.51 L581.01 55.96 L581.55 53.47 L582.35 51.24 L583.33 49.28 L584.50 47.43 L586.06 45.41 L587.78 43.52 L589.77 41.64 L592.14 39.64 L594.76 37.66 L597.77 35.60 L601.02 33.56 L604.66 31.46 L608.52 29.39 L612.60 27.36 L616.74 25.43 L621.10 23.54 L625.50 21.77 L629.94 20.10 L634.26 18.61 L638.61 17.25 L642.66 16.11 L646.56 15.16 L650.14 14.44 L653.57 13.92 L656.66 13.62 L659.58 13.51 L662.31 13.60 L664.85 13.89 L667.36 14.39 L669.63 15.07 L671.83 15.97 L673.93 17.07 L676.07 18.47 L678.07 20.05 L680.33 22.17 L682.54 24.61 L684.68 27.33 L686.86 30.48 L689.07 34.05 L691.21 37.87 L693.36 42.10 L695.52 46.73 L697.60 51.59 L699.59 56.69 L701.43 61.84 L703.12 67.05 L704.60 72.13 L705.92 77.25 L707.03 82.23 L707.89 86.90 M707.89 86.90 L706.69 80.63 L705.12 74.07 L703.17 67.22 L700.89 60.29 L698.34 53.45 L695.59 46.89 L692.72 40.79 L689.80 35.31 L687.06 30.79 L684.35 26.89 L681.58 23.51 L678.76 20.65 L675.92 18.36 L672.97 16.54 L669.97 15.20 L666.65 14.22 L664.31 13.81 L661.77 13.57 L659.03 13.52 L656.11 13.66 L653.02 13.99 L649.78 14.51 L646.20 15.24 L642.48 16.16 L638.26 17.35 L633.91 18.73 L629.43 20.29 L624.99 21.97 L620.42 23.83 L616.08 25.73 L611.95 27.67 L607.87 29.73 L601.18 33.47 L595.51 37.13 L593.00 38.96 L590.73 40.80 L588.83 42.50 L587.03 44.32 L585.48 46.11 L584.19 47.88 L583.15 49.60 L582.28 51.41 L581.60 53.29 L581.16 55.06 L580.88 57.05 L580.79 59.05 L580.93 61.97 L581.42 65.40 L584.09 77.88 L585.12 83.63 L585.76 89.06 L586.04 94.34 L586.03 97.62 L585.88 100.90 L585.60 104.17 L585.20 107.43 L584.13 113.54 L581.58 125.31 L581.15 127.82 L580.88 130.18 L580.79 133.09 L581.01 135.64 L581.55 138.13 L582.35 140.36 L583.33 142.32 L584.50 144.17 L586.06 146.19 L587.78 148.08 L589.77 149.96 L592.14 151.96 L594.76 153.94 L597.77 156.00 L601.02 158.04 L604.66 160.14 L608.52 162.21 L612.60 164.24 L616.74 166.17 L621.10 168.06 L625.50 169.83 L629.94 171.50 L634.26 172.99 L638.61 174.35 L642.66 175.49 L646.56 176.44 L650.14 177.16 L653.57 177.68 L656.66 177.98 L659.58 178.09 L662.31 178.00 L664.85 177.71 L667.36 177.21 L669.63 176.53 L671.83 175.63 L673.93 174.53 L676.07 173.13 L678.07 171.55 L680.33 169.43 L682.54 166.99 L684.68 164.27 L686.86 161.12 L689.07 157.55 L691.21 153.73 L693.36 149.50 L695.52 144.87 L697.60 140.01 L699.59 134.91 L701.43 129.76 L703.12 124.55 L704.60 119.47 L705.92 114.35 L707.03 109.37 L707.89 104.70 M708.21 104.80 L707.36 111.49 L706.25 118.52 L704.87 125.87 L703.22 133.54 L701.33 141.34 L699.30 148.91 L697.12 156.26 L694.90 163.02 L692.91 168.51 L690.92 173.41 L688.99 177.54 L687.13 180.89 L685.28 183.60 L683.34 185.78 L681.36 187.39 L679.28 188.52 M663.83 188.47 L657.97 187.04 L651.64 185.26 L645.55 183.35 L637.07 180.48 L628.64 177.50 L620.78 174.55 L612.97 171.46 L605.56 168.35 L598.56 165.22 L592.29 162.25 L586.76 159.43 L581.81 156.69 L577.93 154.29 L574.81 152.07 L572.48 150.02 L570.97 148.20 L570.19 146.75 L569.80 145.35 L569.73 143.71 L570.04 141.92 L570.65 140.01 L571.65 137.66 L576.48 128.04 L578.55 123.57 L580.28 119.35 L581.71 115.21 L583.09 110.11 L584.05 105.09 L584.60 100.02 L584.74 95.09 L584.50 90.36 L583.91 85.65 L582.98 81.01 L581.67 76.26 L580.10 71.78 L578.20 67.24 L576.17 62.95 L572.22 55.14 L571.00 52.49 L570.05 49.73 L569.79 48.48 L569.71 47.39 L569.79 46.30 L570.05 45.24 L570.48 44.23 L571.04 43.29 L571.83 42.29 L572.83 41.23 L575.49 39.01 L579.27 36.44 L583.99 33.67 L589.79 30.60 L596.36 27.40 L604.34 23.78 L612.58 20.30 L621.41 16.81 L630.48 13.44 L641.52 9.60 L649.85 6.88 L657.22 4.76 L664.13 3.07 M679.40 3.13 L681.47 4.28 L683.44 5.91 L685.36 8.10 L687.20 10.82 L689.05 14.18 L690.97 18.31 L692.96 23.21 L694.94 28.70 L697.16 35.46 L699.33 42.81 L701.37 50.38 L703.25 58.19 L704.86 65.68 L706.24 73.03 L707.35 80.05 L708.20 86.75 M708.21 86.80 L707.36 80.11 L706.25 73.08 L704.87 65.73 L703.22 58.06 L701.33 50.26 L699.30 42.69 L697.12 35.34 L694.90 28.58 L692.91 23.09 L690.92 18.19 L688.99 14.06 L687.13 10.71 L685.28 8.00 L683.34 5.82 L681.36 4.21 L679.28 3.08 M663.83 3.13 L657.97 4.56 L651.64 6.34 L645.55 8.25 L637.07 11.12 L628.64 14.10 L620.78 17.05 L612.97 20.14 L605.56 23.25 L598.56 26.38 L592.29 29.35 L586.76 32.17 L581.81 34.91 L577.93 37.31 L574.81 39.53 L572.48 41.58 L570.97 43.40 L570.19 44.85 L569.80 46.25 L569.73 47.89 L570.04 49.68 L570.65 51.59 L571.65 53.94 L576.48 63.56 L578.55 68.03 L580.28 72.25 L581.71 76.39 L583.09 81.49 L584.05 86.51 L584.60 91.58 L584.74 96.51 L584.50 101.24 L583.91 105.95 L582.98 110.59 L581.67 115.34 L580.10 119.82 L578.20 124.36 L576.17 128.65 L572.22 136.46 L571.00 139.11 L570.05 141.87 L569.79 143.12 L569.71 144.21 L569.79 145.30 L570.05 146.36 L570.48 147.37 L571.04 148.31 L571.83 149.31 L572.83 150.37 L575.49 152.59 L579.27 155.16 L583.99 157.93 L589.79 161.00 L596.36 164.20 L604.34 167.82 L612.58 171.30 L621.41 174.79 L630.48 178.16 L641.52 182.00 L649.85 184.72 L657.22 186.84 L664.13 188.53 M679.40 188.47 L681.47 187.32 L683.44 185.69 L685.36 183.50 L687.20 180.78 L689.05 177.42 L690.97 173.29 L692.96 168.39 L694.94 162.90 L697.16 156.14 L699.33 148.79 L701.37 141.22 L703.25 133.41 L704.86 125.92 L706.24 118.57 L707.35 111.55 L708.20 104.85 M701.16 3.16 L700.73 6.05 L700.55 9.51 L700.63 13.52 L700.96 18.25 L701.90 26.95 L704.94 50.29 L706.41 62.60 L707.67 75.31 L708.50 86.77 M701.16 188.44 L700.73 185.55 L700.55 182.09 L700.63 178.08 L700.96 173.35 L701.90 164.65 L704.94 141.31 L706.41 129.00 L707.67 116.29 L708.50 104.83 M733.52 3.11 L730.58 5.57 L728.00 8.15 L725.67 10.96 L723.60 13.96 L721.70 17.28 L719.99 20.91 L718.47 24.83 L717.09 29.17 L715.78 34.11 L714.55 39.81 L713.42 46.10 L712.39 52.95 L711.39 60.91 L710.48 69.62 L709.73 78.34 L709.18 86.72 M733.52 188.49 L730.58 186.03 L728.00 183.45 L725.67 180.64 L723.60 177.64 L721.70 174.32 L719.99 170.69 L718.47 166.77 L717.09 162.43 L715.78 157.49 L714.55 151.79 L713.42 145.50 L712.39 138.65 L711.39 130.69 L710.48 121.98 L709.73 113.26 L709.18 104.88 M713.86 103.32 L715.52 104.45 L717.45 105.48 L719.50 106.26 L721.44 106.75 L723.43 107.02 L725.44 107.06 L727.44 106.85 L729.39 106.38 L731.26 105.65 L732.85 104.76 L734.30 103.66 L735.57 102.35 L736.61 100.85 L737.37 99.20 L737.84 97.43 L737.97 95.80 L737.84 94.17 L737.37 92.40 L736.61 90.75 L735.57 89.25 L734.30 87.94 L732.85 86.84 L731.26 85.95 L729.39 85.22 L727.44 84.75 L725.44 84.54 L723.43 84.58 L721.44 84.85 L719.50 85.34 L717.45 86.12 L715.52 87.15 L713.86 88.28 M713.86 88.28 L715.52 87.15 L717.45 86.12 L719.50 85.34 L721.44 84.85 L723.43 84.58 L725.44 84.54 L727.44 84.75 L729.39 85.22 L731.26 85.95 L732.85 86.84 L734.30 87.94 L735.57 89.25 L736.61 90.75 L737.37 92.40 L737.84 94.17 L737.97 95.80 L737.84 97.43 L737.37 99.20 L736.61 100.85 L735.57 102.35 L734.30 103.66 L732.85 104.76 L731.26 105.65 L729.39 106.38 L727.44 106.85 L725.44 107.06 L723.43 107.02 L721.44 106.75 L719.50 106.26 L717.45 105.48 L715.52 104.45 L713.86 103.32 M712.04 104.21 L713.79 106.77 L715.76 109.17 L717.92 111.39 L720.40 113.55 L723.04 115.50 L725.84 117.23 L728.76 118.73 L731.80 119.98 L734.93 120.98 L737.95 121.68 L741.02 122.13 L744.12 122.31 L747.22 122.23 L750.30 121.86 L753.33 121.21 L756.12 120.34 M755.89 71.18 L753.09 70.32 L750.06 69.70 L747.15 69.37 L744.05 69.29 L740.95 69.48 L737.88 69.93 L734.86 70.63 L731.73 71.64 L728.87 72.83 L725.94 74.32 L723.14 76.04 L720.49 77.98 L718.01 80.13 L715.84 82.35 L713.86 84.73 L712.10 87.29 M712.04 87.39 L713.79 84.83 L715.76 82.43 L717.92 80.21 L720.40 78.05 L723.04 76.10 L725.84 74.37 L728.76 72.87 L731.80 71.62 L734.93 70.62 L737.95 69.92 L741.02 69.47 L744.12 69.29 L747.22 69.37 L750.30 69.74 L753.33 70.39 L756.12 71.26 M755.89 120.42 L753.09 121.28 L750.06 121.90 L747.15 122.23 L744.05 122.31 L740.95 122.12 L737.88 121.67 L734.86 120.97 L731.73 119.96 L728.87 118.77 L725.94 117.28 L723.14 115.56 L720.49 113.62 L718.01 111.47 L715.84 109.25 L713.86 106.87 L712.10 104.31 M755.95 54.13 L752.52 54.61 L749.12 55.33 L745.78 56.27 L742.35 57.51 L739.17 58.90 L735.93 60.57 L732.80 62.45 L729.80 64.53 L726.92 66.78 L724.06 69.33 L721.37 72.05 L718.85 74.94 L716.52 77.98 L714.49 81.02 L712.77 84.02 L711.26 87.14 M755.95 137.47 L752.52 136.99 L749.12 136.27 L745.78 135.33 L742.35 134.09 L739.17 132.70 L735.93 131.03 L732.80 129.15 L729.80 127.07 L726.92 124.82 L724.06 122.27 L721.37 119.55 L718.85 116.66 L716.52 113.62 L714.49 110.58 L712.77 107.58 L711.26 104.46 M755.89 41.56 L752.26 42.77 L748.71 44.23 L745.27 45.90 L741.78 47.89 L738.42 50.10 L735.21 52.51 L732.01 55.22 L728.97 58.11 L725.97 61.31 L723.16 64.66 L720.53 68.17 L718.10 71.81 L715.86 75.57 L713.84 79.46 L712.14 83.29 L710.74 87.05 M755.89 150.04 L752.26 148.83 L748.71 147.37 L745.27 145.70 L741.78 143.71 L738.42 141.50 L735.21 139.09 L732.01 136.38 L728.97 133.49 L725.97 130.29 L723.16 126.94 L720.53 123.43 L718.10 119.79 L715.86 116.03 L713.84 112.14 L712.14 108.31 L710.74 104.55 M755.84 28.01 L751.86 29.82 L748.16 31.82 L744.62 34.07 L741.09 36.66 L737.74 39.49 L734.58 42.52 L731.49 45.88 L728.48 49.55 L725.47 53.67 L722.68 57.95 L720.02 62.52 L717.50 67.38 L715.23 72.36 L713.27 77.27 L711.62 82.11 L710.30 86.85 M755.84 163.59 L751.86 161.78 L748.16 159.78 L744.62 157.53 L741.09 154.94 L737.74 152.11 L734.58 149.08 L731.49 145.72 L728.48 142.05 L725.47 137.93 L722.68 133.65 L720.02 129.08 L717.50 124.22 L715.23 119.24 L713.27 114.33 L711.62 109.49 L710.30 104.75 M543.53 93.69 L542.88 92.98 L542.11 92.34 L541.27 91.80 L540.32 91.36 L539.36 91.06 L538.37 90.89 L537.37 90.85 L536.42 90.95 L535.53 91.18 L534.69 91.54 L533.93 92.03 L533.25 92.65 L532.71 93.38 L532.31 94.19 L532.07 95.07 L532.01 95.80 L532.07 96.53 L532.31 97.41 L532.71 98.23 L533.26 98.95 L533.93 99.57 L534.70 100.06 L535.53 100.42 L536.42 100.65 L537.37 100.75 L538.37 100.71 L539.36 100.54 L540.32 100.24 L541.27 99.80 L542.12 99.26 L542.88 98.62 L543.55 97.87 M543.53 97.91 L542.88 98.62 L542.11 99.26 L541.27 99.80 L540.32 100.24 L539.36 100.54 L538.37 100.71 L537.37 100.75 L536.42 100.65 L535.53 100.42 L534.69 100.06 L533.93 99.57 L533.25 98.95 L532.71 98.22 L532.31 97.41 L532.07 96.53 L532.01 95.80 L532.07 95.07 L532.31 94.19 L532.71 93.37 L533.26 92.65 L533.93 92.03 L534.70 91.54 L535.53 91.18 L536.42 90.95 L537.37 90.85 L538.37 90.89 L539.36 91.06 L540.32 91.36 L541.27 91.80 L542.12 92.34 L542.88 92.98 L543.55 93.73 M543.75 93.60 L542.87 92.27 L541.77 91.06 L540.47 89.98 L539.04 89.09 L537.54 88.42 L535.96 87.97 L534.33 87.77 L532.87 87.82 L531.44 88.12 L530.09 88.66 L528.86 89.45 L527.81 90.46 L526.97 91.66 L526.37 92.98 L526.00 94.39 L525.89 95.85 L526.02 97.30 L526.40 98.70 L527.02 100.02 L527.87 101.20 L528.94 102.20 L530.17 102.98 L531.53 103.51 L532.96 103.79 L534.42 103.83 L536.05 103.61 L537.62 103.15 L539.12 102.47 L540.54 101.57 L541.83 100.48 L542.93 99.26 L543.80 97.92 M543.75 98.00 L542.87 99.33 L541.77 100.54 L540.47 101.62 L539.04 102.51 L537.54 103.18 L535.96 103.63 L534.33 103.83 L532.87 103.78 L531.44 103.48 L530.09 102.94 L528.86 102.15 L527.81 101.14 L526.97 99.94 L526.37 98.62 L526.00 97.21 L525.89 95.75 L526.02 94.30 L526.40 92.90 L527.02 91.58 L527.87 90.40 L528.94 89.40 L530.17 88.62 L531.53 88.09 L532.96 87.81 L534.42 87.77 L536.05 87.99 L537.62 88.45 L539.12 89.13 L540.54 90.03 L541.83 91.12 L542.93 92.34 L543.80 93.68 M543.95 93.54 L542.91 91.41 L541.45 89.32 L539.70 87.40 L537.73 85.77 L535.55 84.44 L533.36 83.55 L531.22 83.09 L529.21 83.08 L527.26 83.51 L525.61 84.29 L524.03 85.52 L522.72 87.04 L521.60 88.92 L520.75 91.13 L520.24 93.45 L520.08 95.81 L520.24 98.17 L520.75 100.49 L521.61 102.69 L522.73 104.57 L524.04 106.09 L525.63 107.32 L527.27 108.10 L529.23 108.52 L531.24 108.51 L533.38 108.05 L535.57 107.15 L537.75 105.81 L539.71 104.18 L541.50 102.23 L542.94 100.13 L543.97 97.99 M543.95 98.06 L542.91 100.19 L541.45 102.28 L539.70 104.20 L537.73 105.83 L535.55 107.16 L533.36 108.05 L531.22 108.51 L529.21 108.52 L527.26 108.09 L525.61 107.31 L524.03 106.08 L522.72 104.56 L521.60 102.68 L520.75 100.47 L520.24 98.15 L520.08 95.79 L520.24 93.43 L520.75 91.11 L521.61 88.91 L522.73 87.03 L524.04 85.51 L525.63 84.28 L527.27 83.50 L529.23 83.08 L531.24 83.09 L533.38 83.55 L535.57 84.45 L537.75 85.79 L539.71 87.42 L541.50 89.37 L542.94 91.47 L543.97 93.61 M544.11 93.51 L543.63 91.99 L543.00 90.42 L541.37 87.26 L539.27 84.22 L536.97 81.63 L534.62 79.61 L533.41 78.79 L532.13 78.09 L530.95 77.60 L529.72 77.26 L528.63 77.12 L527.54 77.14 L526.46 77.34 L525.43 77.70 L524.46 78.21 L523.56 78.83 L522.60 79.67 L521.62 80.75 L519.95 83.14 L518.49 86.08 L517.44 89.19 L516.81 92.41 L516.58 95.87 L516.82 99.32 L517.48 102.54 L518.54 105.64 L520.01 108.57 L521.70 110.95 L522.70 112.02 L523.67 112.85 L524.57 113.46 L525.55 113.95 L526.59 114.29 L527.67 114.47 L528.77 114.47 L529.85 114.31 L531.08 113.95 L532.25 113.45 L533.52 112.73 L534.73 111.91 L537.07 109.87 L539.36 107.27 L541.41 104.26 L543.04 101.10 L543.66 99.53 L544.13 98.00 M544.11 98.09 L543.63 99.61 L543.00 101.18 L541.37 104.34 L539.27 107.38 L536.97 109.97 L534.62 111.99 L533.41 112.81 L532.13 113.51 L530.95 114.00 L529.72 114.34 L528.63 114.48 L527.54 114.46 L526.46 114.26 L525.43 113.90 L524.46 113.39 L523.56 112.77 L522.60 111.93 L521.62 110.85 L519.95 108.46 L518.49 105.52 L517.44 102.41 L516.81 99.19 L516.58 95.73 L516.82 92.28 L517.48 89.06 L518.54 85.96 L520.01 83.03 L521.70 80.65 L522.70 79.58 L523.67 78.75 L524.57 78.14 L525.55 77.65 L526.59 77.31 L527.67 77.13 L528.77 77.13 L529.85 77.29 L531.08 77.65 L532.25 78.15 L533.52 78.87 L534.73 79.69 L537.07 81.73 L539.36 84.33 L541.41 87.34 L543.04 90.50 L543.66 92.07 L544.13 93.60 M544.21 93.49 L543.77 91.68 L543.19 89.76 L541.62 85.82 L539.59 81.94 L537.28 78.44 L536.04 76.86 L534.70 75.36 L533.39 74.10 L532.12 73.06 L531.05 72.36 L529.89 71.82 L528.83 71.55 L527.92 71.54 L526.86 71.80 L525.89 72.30 L524.87 73.06 L523.82 74.08 L522.63 75.46 L521.33 77.22 L520.16 79.07 L519.10 80.99 L517.47 84.66 L516.32 88.31 L515.61 92.07 L515.43 94.07 L515.38 95.89 L515.44 97.71 L515.64 99.71 L516.37 103.47 L517.60 107.28 L519.27 110.93 L520.34 112.84 L521.54 114.68 L522.74 116.28 L523.94 117.66 L525.00 118.66 L526.03 119.40 L527.02 119.87 L528.09 120.09 L529.00 120.03 L530.05 119.73 L531.20 119.17 L532.40 118.34 L533.65 117.28 L534.94 115.99 L537.38 113.03 L539.68 109.52 L541.69 105.64 L543.23 101.74 L543.81 99.81 L544.22 98.04 M544.21 98.11 L543.77 99.92 L543.19 101.84 L541.62 105.78 L539.59 109.66 L537.28 113.16 L536.04 114.74 L534.70 116.24 L533.39 117.50 L532.12 118.54 L531.05 119.24 L529.89 119.78 L528.83 120.05 L527.92 120.06 L526.86 119.80 L525.89 119.30 L524.87 118.54 L523.82 117.52 L522.63 116.14 L521.33 114.38 L520.16 112.53 L519.10 110.61 L517.47 106.94 L516.32 103.29 L515.61 99.53 L515.43 97.53 L515.38 95.71 L515.44 93.89 L515.64 91.89 L516.37 88.13 L517.60 84.32 L519.27 80.67 L520.34 78.76 L521.54 76.92 L522.74 75.32 L523.94 73.94 L525.00 72.94 L526.03 72.20 L527.02 71.73 L528.09 71.51 L529.00 71.57 L530.05 71.87 L531.20 72.43 L532.40 73.26 L533.65 74.32 L534.94 75.61 L537.38 78.57 L539.68 82.08 L541.69 85.96 L543.23 89.86 L543.81 91.79 L544.22 93.56 M544.35 93.48 L543.74 89.28 L542.76 84.60 L541.55 80.01 L539.22 72.14 L538.51 69.12 L538.28 67.32 L538.28 65.86 L538.48 64.41 L538.91 63.02 L539.45 61.87 L540.22 60.63 L542.20 58.24 L545.01 55.63 L548.61 52.84 L553.03 49.92 L557.34 47.54 L559.01 46.79 L560.55 46.24 L561.80 45.95 L562.89 45.88 L564.14 46.13 L565.38 46.88 L566.78 48.32 L568.40 50.52 L571.36 55.12 L574.42 60.31 L576.82 64.82 L578.84 69.11 L580.22 72.48 L581.39 75.75 L582.39 79.07 L583.22 82.43 L583.87 85.84 L584.31 89.09 L584.58 92.36 L584.67 95.64 L584.59 98.92 L584.32 102.38 L583.89 105.63 L583.25 109.04 L582.47 112.23 L581.49 115.55 L580.34 118.82 L578.97 122.20 L576.96 126.50 L574.57 131.02 L571.62 136.05 L568.58 140.82 L566.98 143.04 L565.63 144.52 L564.43 145.35 L563.75 145.60 L563.03 145.72 L561.94 145.68 L560.69 145.41 L559.14 144.87 L557.47 144.12 L553.15 141.75 L548.73 138.85 L545.11 136.06 L542.17 133.33 L541.08 132.11 L540.20 130.94 L539.44 129.70 L538.90 128.54 L538.48 127.15 L538.28 125.70 L538.29 124.25 L538.52 122.44 L539.18 119.60 L541.56 111.55 L542.77 106.96 L543.75 102.28 L544.36 98.03 M544.35 98.12 L543.74 102.32 L542.76 107.00 L541.55 111.59 L539.22 119.46 L538.51 122.48 L538.28 124.28 L538.28 125.74 L538.48 127.19 L538.91 128.58 L539.45 129.73 L540.22 130.97 L542.20 133.36 L545.01 135.97 L548.61 138.76 L553.03 141.68 L557.34 144.06 L559.01 144.81 L560.55 145.36 L561.80 145.65 L562.89 145.72 L564.14 145.47 L565.38 144.72 L566.78 143.28 L568.40 141.08 L571.36 136.48 L574.42 131.29 L576.82 126.78 L578.84 122.49 L580.22 119.12 L581.39 115.85 L582.39 112.53 L583.22 109.17 L583.87 105.76 L584.31 102.51 L584.58 99.24 L584.67 95.96 L584.59 92.68 L584.32 89.22 L583.89 85.97 L583.25 82.56 L582.47 79.37 L581.49 76.05 L580.34 72.78 L578.97 69.40 L576.96 65.10 L574.57 60.58 L571.62 55.55 L568.58 50.78 L566.98 48.56 L565.63 47.08 L564.43 46.25 L563.75 46.00 L563.03 45.88 L561.94 45.92 L560.69 46.19 L559.14 46.73 L557.47 47.48 L553.15 49.85 L548.73 52.75 L545.11 55.54 L542.17 58.27 L541.08 59.49 L540.20 60.66 L539.44 61.90 L538.90 63.06 L538.48 64.45 L538.28 65.90 L538.29 67.35 L538.52 69.16 L539.18 72.00 L541.56 80.05 L542.77 84.64 L543.75 89.32 L544.36 93.57 M544.47 93.47 L543.77 78.08 L543.73 73.15 L543.90 70.61 L544.23 68.44 L544.76 66.32 L545.48 64.45 L546.80 62.06 L548.48 59.89 L550.55 57.84 L553.01 55.95 L555.82 54.26 L558.50 53.09 L560.96 52.42 L562.23 52.28 L563.33 52.28 L565.12 52.59 L566.80 53.30 L568.60 54.54 L570.32 56.18 L572.18 58.42 L574.17 61.26 L576.14 64.55 L577.92 67.94 L579.44 71.26 L580.77 74.65 L581.92 78.11 L582.87 81.64 L583.61 85.21 L584.11 88.64 L584.44 92.27 L584.54 95.73 L584.44 99.20 L584.13 102.83 L583.63 106.26 L582.90 109.83 L581.96 113.36 L580.82 116.82 L579.49 120.22 L577.98 123.54 L576.21 126.94 L574.24 130.22 L572.26 133.07 L570.28 135.46 L568.57 137.09 L566.76 138.33 L565.08 139.02 L563.28 139.32 L562.18 139.32 L560.92 139.17 L558.45 138.50 L555.78 137.32 L553.12 135.73 L550.66 133.84 L548.57 131.81 L546.88 129.66 L545.54 127.27 L544.81 125.41 L544.25 123.29 L543.92 121.13 L543.74 118.58 L543.77 113.47 L544.47 98.08 M544.47 98.13 L543.77 113.52 L543.73 118.45 L543.90 120.99 L544.23 123.16 L544.76 125.28 L545.48 127.15 L546.80 129.54 L548.48 131.71 L550.55 133.76 L553.01 135.65 L555.82 137.34 L558.50 138.51 L560.96 139.18 L562.23 139.32 L563.33 139.32 L565.12 139.01 L566.80 138.30 L568.60 137.06 L570.32 135.42 L572.18 133.18 L574.17 130.34 L576.14 127.05 L577.92 123.66 L579.44 120.34 L580.77 116.95 L581.92 113.49 L582.87 109.96 L583.61 106.39 L584.11 102.96 L584.44 99.33 L584.54 95.87 L584.44 92.40 L584.13 88.77 L583.63 85.34 L582.90 81.77 L581.96 78.24 L580.82 74.78 L579.49 71.38 L577.98 68.06 L576.21 64.66 L574.24 61.38 L572.26 58.53 L570.28 56.14 L568.57 54.51 L566.76 53.27 L565.08 52.58 L563.28 52.28 L562.18 52.28 L560.92 52.43 L558.45 53.10 L555.78 54.28 L553.12 55.87 L550.66 57.76 L548.57 59.79 L546.88 61.94 L545.54 64.33 L544.81 66.19 L544.25 68.31 L543.92 70.47 L543.74 73.02 L543.77 78.13 L544.47 93.52 M544.75 93.49 L545.24 91.03 L545.93 88.43 L546.78 85.83 L547.79 83.28 L548.87 80.97 L550.01 78.89 L551.30 76.90 L552.64 75.17 L554.00 73.70 L555.50 72.35 L557.12 71.17 L558.70 70.26 L560.37 69.54 L562.13 69.03 L563.93 68.76 L565.57 68.74 L567.20 68.94 L568.78 69.38 L570.30 70.02 L571.86 70.95 L573.30 72.08 L574.72 73.49 L575.99 75.04 L577.21 76.86 L578.27 78.78 L579.25 80.94 L580.08 83.16 L580.79 85.61 L581.34 88.10 L581.74 90.63 L581.97 93.17 L582.05 95.90 L581.97 98.45 L581.73 101.00 L581.34 103.52 L580.79 106.01 L580.07 108.46 L579.24 110.69 L578.26 112.84 L577.20 114.76 L575.98 116.57 L574.71 118.13 L573.28 119.54 L571.84 120.66 L570.27 121.59 L568.76 122.23 L567.18 122.66 L565.55 122.86 L563.91 122.84 L562.10 122.57 L560.35 122.05 L558.68 121.33 L557.10 120.42 L555.48 119.23 L553.99 117.89 L552.63 116.41 L551.29 114.68 L550.00 112.69 L548.86 110.61 L547.78 108.30 L546.78 105.75 L545.92 103.15 L545.22 100.51 L544.74 98.04 M544.75 98.11 L545.24 100.57 L545.93 103.17 L546.78 105.77 L547.79 108.32 L548.87 110.63 L550.01 112.71 L551.30 114.70 L552.64 116.43 L554.00 117.90 L555.50 119.25 L557.12 120.43 L558.70 121.34 L560.37 122.06 L562.13 122.57 L563.93 122.84 L565.57 122.86 L567.20 122.66 L568.78 122.22 L570.30 121.58 L571.86 120.65 L573.30 119.52 L574.72 118.11 L575.99 116.56 L577.21 114.74 L578.27 112.82 L579.25 110.66 L580.08 108.44 L580.79 105.99 L581.34 103.50 L581.74 100.97 L581.97 98.43 L582.05 95.70 L581.97 93.15 L581.73 90.60 L581.34 88.08 L580.79 85.59 L580.07 83.14 L579.24 80.91 L578.26 78.76 L577.20 76.84 L575.98 75.03 L574.71 73.47 L573.28 72.06 L571.84 70.94 L570.27 70.01 L568.76 69.37 L567.18 68.94 L565.55 68.74 L563.91 68.76 L562.10 69.03 L560.35 69.55 L558.68 70.27 L557.10 71.18 L555.48 72.37 L553.99 73.71 L552.63 75.19 L551.29 76.92 L550.00 78.91 L548.86 80.99 L547.78 83.30 L546.78 85.85 L545.92 88.45 L545.22 91.09 L544.74 93.56 M545.03 93.53 L546.20 91.01 L547.85 88.55 L549.88 86.33 L552.13 84.47 L554.48 83.07 L557.02 82.05 L559.51 81.53 L560.79 81.44 L562.07 81.48 L564.40 81.91 L565.60 82.34 L566.59 82.81 L568.56 84.13 L569.49 84.99 L570.34 85.95 L571.74 88.08 L572.74 90.43 L573.39 93.08 L573.61 95.81 L573.39 98.53 L572.74 101.19 L571.73 103.53 L570.33 105.66 L569.48 106.62 L568.54 107.48 L566.57 108.80 L565.58 109.27 L564.38 109.69 L562.05 110.12 L560.77 110.16 L559.50 110.07 L557.00 109.55 L554.46 108.53 L552.12 107.12 L549.86 105.26 L547.81 103.00 L546.17 100.53 L545.53 99.27 L545.01 98.01 M545.03 98.07 L546.20 100.59 L547.85 103.05 L549.88 105.27 L552.13 107.13 L554.48 108.53 L557.02 109.55 L559.51 110.07 L560.79 110.16 L562.07 110.12 L564.40 109.69 L565.60 109.26 L566.59 108.79 L568.56 107.47 L569.49 106.61 L570.34 105.65 L571.74 103.52 L572.74 101.17 L573.39 98.52 L573.61 95.79 L573.39 93.07 L572.74 90.41 L571.73 88.07 L570.33 85.94 L569.48 84.98 L568.54 84.12 L566.57 82.80 L565.58 82.33 L564.38 81.91 L562.05 81.48 L560.77 81.44 L559.50 81.53 L557.00 82.05 L554.46 83.07 L552.12 84.48 L549.86 86.34 L547.81 88.60 L546.17 91.07 L545.53 92.33 L545.01 93.59 M545.27 93.60 L546.15 92.27 L547.29 91.03 L548.63 89.93 L550.11 89.03 L551.65 88.36 L553.24 87.92 L554.87 87.72 L556.51 87.78 L558.12 88.11 L559.48 88.64 L560.73 89.39 L561.82 90.35 L562.83 91.64 L563.48 92.95 L563.88 94.35 L564.01 95.80 L563.88 97.25 L563.48 98.65 L562.83 99.96 L561.82 101.25 L560.73 102.21 L559.48 102.96 L558.12 103.49 L556.51 103.82 L554.87 103.88 L553.24 103.68 L551.66 103.24 L550.07 102.55 L548.59 101.65 L547.25 100.54 L546.12 99.29 L545.22 97.92 M545.27 98.00 L546.15 99.33 L547.29 100.57 L548.63 101.67 L550.11 102.57 L551.65 103.24 L553.24 103.68 L554.87 103.88 L556.51 103.82 L558.12 103.49 L559.48 102.96 L560.73 102.21 L561.82 101.25 L562.83 99.96 L563.48 98.65 L563.88 97.25 L564.01 95.80 L563.88 94.35 L563.48 92.95 L562.83 91.64 L561.82 90.35 L560.73 89.39 L559.48 88.64 L558.12 88.11 L556.51 87.78 L554.87 87.72 L553.24 87.92 L551.66 88.36 L550.07 89.05 L548.59 89.95 L547.25 91.06 L546.12 92.31 L545.22 93.68" fill="none" stroke="#5e5e5e" stroke-width="0.8" stroke-linejoin="round"/>
<path d="M668.36 192.47 L661.55 190.30 L654.90 188.13 L648.41 185.95 L642.07 183.78 L635.88 181.61 L629.85 179.44 L623.97 177.27 L618.25 175.09 L612.68 172.92 L607.27 170.75 L602.01 168.58 L596.90 166.40 L591.95 164.23 L587.16 162.06 L582.52 159.89 L578.03 157.71 L573.70 155.54 L569.52 153.37 L565.50 151.20 L561.63 149.02 L557.92 146.85 L554.36 144.68 L550.96 142.51 L547.71 140.33 L544.62 138.16 L541.68 135.99 L538.89 133.82 L536.26 131.64 L533.79 129.47 L531.47 127.30 L529.30 125.13 L527.29 122.96 L525.43 120.78 L523.73 118.61 L522.19 116.44 L520.79 114.27 L519.56 112.09 L518.47 109.92 L517.54 107.75 L516.77 105.58 L516.15 103.40 L515.69 101.23 L515.38 99.06 L515.22 96.89 L515.22 94.71 L515.38 92.54 L515.69 90.37 L516.15 88.20 L516.77 86.02 L517.54 83.85 L518.47 81.68 L519.56 79.51 L520.79 77.33 L522.19 75.16 L523.73 72.99 L525.43 70.82 L527.29 68.64 L529.30 66.47 L531.47 64.30 L533.79 62.13 L536.26 59.96 L538.89 57.78 L541.68 55.61 L544.62 53.44 L547.71 51.27 L550.96 49.09 L554.36 46.92 L557.92 44.75 L561.63 42.58 L565.50 40.40 L569.52 38.23 L573.70 36.06 L578.03 33.89 L582.52 31.71 L587.16 29.54 L591.95 27.37 L596.90 25.20 L602.01 23.02 L607.27 20.85 L612.68 18.68 L618.25 16.51 L623.97 14.33 L629.85 12.16 L635.88 9.99 L642.07 7.82 L648.41 5.65 L654.90 3.47 L661.55 1.30 L668.36 -0.87" fill="none" stroke="#8c90f2" stroke-width="0.9"/>
<circle cx="709.00" cy="95.60" r="9.1" fill="#0a3cff" stroke="#1a1a1a" stroke-width="0.8"/>
<circle cx="544.51" cy="95.80" r="2.2" fill="#c8282e" stroke="#222" stroke-width="0.7"/>
</g>
<rect x="480.6" y="4.6" width="273.90" height="182.40" fill="none" stroke="#3a3a3a" stroke-width="1.2"/>
<line x1="754.50" y1="187.0" x2="754.50" y2="195.50" stroke="#3a3a3a" stroke-width="1"/>
<line x1="745.37" y1="187.0" x2="745.37" y2="191.00" stroke="#3a3a3a" stroke-width="1"/>
<line x1="736.24" y1="187.0" x2="736.24" y2="191.00" stroke="#3a3a3a" stroke-width="1"/>
<line x1="727.11" y1="187.0" x2="727.11" y2="191.00" stroke="#3a3a3a" stroke-width="1"/>
<line x1="717.98" y1="187.0" x2="717.98" y2="191.00" stroke="#3a3a3a" stroke-width="1"/>
<line x1="708.85" y1="187.0" x2="708.85" y2="195.50" stroke="#3a3a3a" stroke-width="1"/>
<line x1="699.72" y1="187.0" x2="699.72" y2="191.00" stroke="#3a3a3a" stroke-width="1"/>
<line x1="690.59" y1="187.0" x2="690.59" y2="191.00" stroke="#3a3a3a" stroke-width="1"/>
<line x1="681.46" y1="187.0" x2="681.46" y2="191.00" stroke="#3a3a3a" stroke-width="1"/>
<line x1="672.33" y1="187.0" x2="672.33" y2="191.00" stroke="#3a3a3a" stroke-width="1"/>
<line x1="663.20" y1="187.0" x2="663.20" y2="195.50" stroke="#3a3a3a" stroke-width="1"/>
<line x1="654.07" y1="187.0" x2="654.07" y2="191.00" stroke="#3a3a3a" stroke-width="1"/>
<line x1="644.94" y1="187.0" x2="644.94" y2="191.00" stroke="#3a3a3a" stroke-width="1"/>
<line x1="635.81" y1="187.0" x2="635.81" y2="191.00" stroke="#3a3a3a" stroke-width="1"/>
<line x1="626.68" y1="187.0" x2="626.68" y2="191.00" stroke="#3a3a3a" stroke-width="1"/>
<line x1="617.55" y1="187.0" x2="617.55" y2="195.50" stroke="#3a3a3a" stroke-width="1"/>
<line x1="608.42" y1="187.0" x2="608.42" y2="191.00" stroke="#3a3a3a" stroke-width="1"/>
<line x1="599.29" y1="187.0" x2="599.29" y2="191.00" stroke="#3a3a3a" stroke-width="1"/>
<line x1="590.16" y1="187.0" x2="590.16" y2="191.00" stroke="#3a3a3a" stroke-width="1"/>
<line x1="581.03" y1="187.0" x2="581.03" y2="191.00" stroke="#3a3a3a" stroke-width="1"/>
<line x1="571.90" y1="187.0" x2="571.90" y2="195.50" stroke="#3a3a3a" stroke-width="1"/>
<line x1="562.77" y1="187.0" x2="562.77" y2="191.00" stroke="#3a3a3a" stroke-width="1"/>
<line x1="553.64" y1="187.0" x2="553.64" y2="191.00" stroke="#3a3a3a" stroke-width="1"/>
<line x1="544.51" y1="187.0" x2="544.51" y2="191.00" stroke="#3a3a3a" stroke-width="1"/>
<line x1="535.38" y1="187.0" x2="535.38" y2="191.00" stroke="#3a3a3a" stroke-width="1"/>
<line x1="526.25" y1="187.0" x2="526.25" y2="195.50" stroke="#3a3a3a" stroke-width="1"/>
<line x1="517.12" y1="187.0" x2="517.12" y2="191.00" stroke="#3a3a3a" stroke-width="1"/>
<line x1="507.99" y1="187.0" x2="507.99" y2="191.00" stroke="#3a3a3a" stroke-width="1"/>
<line x1="498.86" y1="187.0" x2="498.86" y2="191.00" stroke="#3a3a3a" stroke-width="1"/>
<line x1="489.73" y1="187.0" x2="489.73" y2="191.00" stroke="#3a3a3a" stroke-width="1"/>
<line x1="480.60" y1="187.0" x2="480.60" y2="195.50" stroke="#3a3a3a" stroke-width="1"/>
<text x="481.40" y="206.00" text-anchor="middle" font-size="9.8">25</text>
<text x="527.05" y="206.00" text-anchor="middle" font-size="9.8">20</text>
<text x="572.70" y="206.00" text-anchor="middle" font-size="9.8">15</text>
<text x="618.35" y="206.00" text-anchor="middle" font-size="9.8">10</text>
<text x="664.00" y="206.00" text-anchor="middle" font-size="9.8">5</text>
<text x="709.65" y="206.00" text-anchor="middle" font-size="9.8">0</text>
<text x="752.20" y="206.00" text-anchor="middle" font-size="9.8">-5</text>
<g clip-path="url(#c4)">
<line x1="38.0" y1="339.85" x2="220.9" y2="339.85" stroke="#5a5a5a" stroke-width="1.15" stroke-dasharray="9.7 9.4" stroke-dashoffset="13.60"/>
<line x1="129.45" y1="248.3" x2="129.45" y2="431.4" stroke="#5a5a5a" stroke-width="1.15" stroke-dasharray="9.2 9.9" stroke-dashoffset="5.8"/>
<path d="M134.25 347.51 L136.00 348.83 L138.05 350.03 L140.23 350.98 L142.51 351.65 L144.86 352.04 L147.05 352.13 L149.23 351.95 L151.38 351.49 L153.44 350.75 L155.38 349.71 L156.99 348.51 L158.40 347.08 L159.56 345.43 L160.42 343.61 L160.94 341.67 L161.09 339.85 L160.94 338.03 L160.42 336.09 L159.56 334.27 L158.40 332.62 L156.99 331.19 L155.38 329.99 L153.44 328.95 L151.38 328.21 L149.23 327.75 L147.05 327.57 L144.86 327.66 L142.51 328.05 L140.23 328.72 L138.05 329.67 L136.00 330.87 L134.25 332.19 M134.25 332.19 L136.00 330.87 L138.05 329.67 L140.23 328.72 L142.51 328.05 L144.86 327.66 L147.05 327.57 L149.23 327.75 L151.38 328.21 L153.44 328.95 L155.38 329.99 L156.99 331.19 L158.40 332.62 L159.56 334.27 L160.42 336.09 L160.94 338.03 L161.09 339.85 L160.94 341.67 L160.42 343.61 L159.56 345.43 L158.40 347.08 L156.99 348.51 L155.38 349.71 L153.44 350.75 L151.38 351.49 L149.23 351.95 L147.05 352.13 L144.86 352.04 L142.51 351.65 L140.23 350.98 L138.05 350.03 L136.00 348.83 L134.25 347.51 M132.68 348.25 L134.12 350.37 L135.72 352.37 L137.58 354.38 L139.59 356.25 L141.72 357.98 L143.97 359.55 L146.32 360.97 L148.76 362.22 L151.28 363.30 L153.87 364.20 L156.52 364.92 L159.03 365.41 L161.76 365.75 L164.31 365.87 L167.06 365.81 L169.60 365.55 L172.12 365.11 L174.60 364.47 L177.02 363.63 L179.37 362.60 L181.61 361.37 L183.60 360.06 L185.61 358.48 L187.33 356.84 L188.91 355.06 L190.31 353.14 L191.53 351.09 L192.55 348.95 L193.36 346.71 L193.93 344.40 L194.28 342.04 L194.38 339.85 L194.28 337.66 L193.93 335.30 L193.36 332.99 L192.55 330.75 L191.53 328.61 L190.31 326.56 L188.91 324.64 L187.33 322.86 L185.61 321.22 L183.60 319.64 L181.61 318.33 L179.37 317.10 L177.02 316.07 L174.60 315.23 L172.12 314.59 L169.60 314.15 L167.06 313.89 L164.31 313.83 L161.76 313.95 L159.03 314.29 L156.52 314.78 L153.87 315.50 L151.28 316.40 L148.76 317.48 L146.32 318.73 L143.97 320.15 L141.72 321.72 L139.59 323.45 L137.58 325.32 L135.72 327.33 L134.12 329.33 L132.68 331.45 M132.68 331.45 L134.12 329.33 L135.72 327.33 L137.58 325.32 L139.59 323.45 L141.72 321.72 L143.97 320.15 L146.32 318.73 L148.76 317.48 L151.28 316.40 L153.87 315.50 L156.52 314.78 L159.03 314.29 L161.76 313.95 L164.31 313.83 L167.06 313.89 L169.60 314.15 L172.12 314.59 L174.60 315.23 L177.02 316.07 L179.37 317.10 L181.61 318.33 L183.60 319.64 L185.61 321.22 L187.33 322.86 L188.91 324.64 L190.31 326.56 L191.53 328.61 L192.55 330.75 L193.36 332.99 L193.93 335.30 L194.28 337.66 L194.38 339.85 L194.28 342.04 L193.93 344.40 L193.36 346.71 L192.55 348.95 L191.53 351.09 L190.31 353.14 L188.91 355.06 L187.33 356.84 L185.61 358.48 L183.60 360.06 L181.61 361.37 L179.37 362.60 L177.02 363.63 L174.60 364.47 L172.12 365.11 L169.60 365.55 L167.06 365.81 L164.31 365.87 L161.76 365.75 L159.03 365.41 L156.52 364.92 L153.87 364.20 L151.28 363.30 L148.76 362.22 L146.32 360.97 L143.97 359.55 L141.72 357.98 L139.59 356.25 L137.58 354.38 L135.72 352.37 L134.12 350.37 L132.68 348.25 M131.98 348.62 L133.44 351.57 L135.20 354.57 L137.17 357.44 L139.42 360.32 L141.85 363.06 L144.45 365.63 L147.20 368.05 L150.10 370.28 L153.13 372.33 L156.13 374.09 L159.39 375.74 L162.59 377.11 L165.86 378.27 L169.20 379.22 L172.60 379.96 L176.04 380.47 L179.50 380.75 L182.97 380.81 L186.44 380.63 L189.89 380.21 L193.31 379.57 L196.67 378.68 L199.96 377.57 L202.99 376.29 L206.09 374.73 L208.92 373.03 L211.61 371.14 L214.16 369.05 L216.54 366.77 L218.73 364.32 L220.73 361.70 L222.41 359.08 M222.38 320.56 L220.69 317.94 L218.69 315.33 L216.49 312.88 L214.10 310.61 L211.56 308.52 L208.86 306.63 L206.03 304.94 L202.93 303.38 L199.89 302.11 L196.60 301.00 L193.24 300.12 L189.82 299.48 L186.37 299.07 L182.90 298.89 L179.43 298.95 L175.97 299.24 L172.53 299.76 L169.14 300.49 L165.80 301.45 L162.52 302.62 L159.33 303.99 L156.07 305.64 L153.07 307.41 L150.04 309.46 L147.15 311.70 L144.40 314.11 L141.80 316.69 L139.38 319.43 L137.13 322.32 L135.17 325.19 L133.41 328.19 L131.95 331.14 M131.98 331.08 L133.44 328.13 L135.20 325.13 L137.17 322.26 L139.42 319.38 L141.85 316.64 L144.45 314.07 L147.20 311.65 L150.10 309.42 L153.13 307.37 L156.13 305.61 L159.39 303.96 L162.59 302.59 L165.86 301.43 L169.20 300.48 L172.60 299.74 L176.04 299.23 L179.50 298.95 L182.97 298.89 L186.44 299.07 L189.89 299.49 L193.31 300.13 L196.67 301.02 L199.96 302.13 L202.99 303.41 L206.09 304.97 L208.92 306.67 L211.61 308.56 L214.16 310.65 L216.54 312.93 L218.73 315.38 L220.73 318.00 L222.41 320.62 M222.38 359.14 L220.69 361.76 L218.69 364.37 L216.49 366.82 L214.10 369.09 L211.56 371.18 L208.86 373.07 L206.03 374.76 L202.93 376.32 L199.89 377.59 L196.60 378.70 L193.24 379.58 L189.82 380.22 L186.37 380.63 L182.90 380.81 L179.43 380.75 L175.97 380.46 L172.53 379.94 L169.14 379.21 L165.80 378.25 L162.52 377.08 L159.33 375.71 L156.07 374.06 L153.07 372.29 L150.04 370.24 L147.15 368.00 L144.40 365.59 L141.80 363.01 L139.38 360.27 L137.13 357.38 L135.17 354.51 L133.41 351.51 L131.95 348.56 M222.29 285.36 L218.97 284.36 L215.60 283.52 L212.19 282.84 L208.57 282.30 L205.11 281.95 L201.46 281.77 L197.99 281.76 L194.51 281.92 L190.87 282.26 L187.43 282.76 L184.02 283.42 L180.65 284.25 L177.32 285.24 L174.04 286.40 L170.83 287.72 L167.68 289.20 L164.62 290.84 L161.64 292.63 L158.75 294.57 L155.97 296.65 L153.29 298.86 L150.71 301.20 L148.26 303.66 L145.79 306.37 L143.46 309.19 L141.26 312.11 L139.20 315.14 L137.28 318.25 L135.50 321.45 L133.89 324.74 L132.51 327.93 L131.38 331.03 M222.29 394.34 L218.97 395.34 L215.60 396.18 L212.19 396.86 L208.57 397.40 L205.11 397.75 L201.46 397.93 L197.99 397.94 L194.51 397.78 L190.87 397.44 L187.43 396.94 L184.02 396.28 L180.65 395.45 L177.32 394.46 L174.04 393.30 L170.83 391.98 L167.68 390.50 L164.62 388.86 L161.64 387.07 L158.75 385.13 L155.97 383.05 L153.29 380.84 L150.71 378.50 L148.26 376.04 L145.79 373.33 L143.46 370.51 L141.26 367.59 L139.20 364.56 L137.28 361.45 L135.50 358.25 L133.89 354.96 L132.51 351.77 L131.38 348.67 M222.36 267.64 L218.34 267.38 L214.50 267.28 L210.48 267.35 L206.65 267.57 L202.82 267.94 L199.02 268.48 L195.24 269.17 L191.50 270.02 L187.79 271.03 L184.31 272.14 L180.70 273.47 L177.33 274.89 L174.03 276.46 L170.80 278.18 L167.65 280.04 L164.75 281.95 L161.79 284.11 L159.07 286.28 L156.33 288.70 L153.70 291.24 L151.19 293.91 L148.80 296.68 L146.54 299.56 L144.30 302.68 L142.18 305.89 L140.11 309.34 L138.18 312.88 L136.40 316.49 L134.76 320.17 L133.34 323.74 L132.07 327.37 L131.03 330.88 M222.36 412.06 L218.34 412.32 L214.50 412.42 L210.48 412.35 L206.65 412.13 L202.82 411.76 L199.02 411.22 L195.24 410.53 L191.50 409.68 L187.79 408.67 L184.31 407.56 L180.70 406.23 L177.33 404.81 L174.03 403.24 L170.80 401.52 L167.65 399.66 L164.75 397.75 L161.79 395.59 L159.07 393.42 L156.33 391.00 L153.70 388.46 L151.19 385.79 L148.80 383.02 L146.54 380.14 L144.30 377.02 L142.18 373.81 L140.11 370.36 L138.18 366.82 L136.40 363.21 L134.76 359.53 L133.34 355.96 L132.07 352.33 L131.03 348.82 M147.99 246.89 L145.13 250.46 L142.58 254.03 L140.33 257.59 L138.31 261.29 L136.53 265.10 L135.08 268.86 L133.81 272.87 L132.79 276.96 L132.02 280.91 L131.38 285.26 L130.88 289.99 L130.50 295.10 L129.99 307.73 L129.54 330.79 M147.99 432.81 L145.13 429.24 L142.58 425.67 L140.33 422.11 L138.31 418.41 L136.53 414.60 L135.08 410.84 L133.81 406.83 L132.79 402.74 L132.02 398.79 L131.38 394.44 L130.88 389.71 L130.50 384.60 L129.99 371.97 L129.54 348.91 M110.47 246.87 L107.44 250.77 L105.01 254.21 L103.18 257.17 L101.78 259.94 L100.90 262.35 L100.40 264.67 L100.30 267.05 L100.61 269.41 L101.02 271.00 L101.63 272.73 L103.42 276.54 L105.49 280.20 L111.39 289.90 L114.51 295.28 L117.62 301.09 L120.30 306.71 L122.85 312.79 L125.01 318.82 L126.84 324.96 L128.24 330.83 M110.47 432.83 L107.44 428.93 L105.01 425.49 L103.18 422.53 L101.78 419.76 L100.90 417.35 L100.40 415.03 L100.30 412.65 L100.61 410.29 L101.02 408.70 L101.63 406.97 L103.42 403.16 L105.49 399.50 L111.39 389.80 L114.51 384.42 L117.62 378.61 L120.30 372.99 L122.85 366.91 L125.01 360.88 L126.84 354.74 L128.24 348.87 M91.37 338.06 L90.65 337.78 L89.88 337.66 L89.15 337.70 L88.45 337.90 L87.86 338.24 L87.38 338.73 L87.10 339.30 L87.01 339.89 L87.12 340.47 L87.43 341.03 L87.92 341.50 L88.52 341.83 L89.23 342.01 L89.96 342.04 L90.72 341.90 L91.44 341.60 M91.37 341.64 L90.65 341.92 L89.88 342.04 L89.15 342.00 L88.45 341.80 L87.86 341.46 L87.38 340.97 L87.10 340.40 L87.01 339.81 L87.12 339.23 L87.43 338.67 L87.92 338.20 L88.52 337.87 L89.23 337.69 L89.96 337.66 L90.72 337.80 L91.44 338.10 M90.85 338.68 L90.42 338.83 L90.05 339.10 L89.81 339.49 L89.75 339.89 L89.85 340.29 L90.11 340.66 L90.49 340.91 L90.93 341.03 M90.85 341.02 L90.42 340.87 L90.05 340.60 L89.81 340.21 L89.75 339.81 L89.85 339.41 L90.11 339.04 L90.49 338.79 L90.93 338.67 M94.52 338.20 L95.64 338.05 L96.70 338.34 L97.15 338.65 L97.47 339.03 L97.66 339.45 L97.72 339.90 L97.63 340.35 L97.42 340.75 L97.07 341.11 L96.61 341.41 L95.55 341.66 L94.43 341.47 M94.52 341.50 L95.64 341.65 L96.70 341.36 L97.15 341.05 L97.47 340.67 L97.66 340.25 L97.72 339.80 L97.63 339.35 L97.42 338.95 L97.07 338.59 L96.61 338.29 L95.55 338.04 L94.43 338.23 M94.98 338.86 L95.52 339.27 L95.72 339.87 L95.50 340.46 L94.91 340.87 M94.98 340.84 L95.52 340.43 L95.72 339.83 L95.50 339.24 L94.91 338.83 M127.81 330.80 L126.44 326.43 L124.76 321.98 L122.82 317.63 L120.66 313.39 L118.26 309.28 L115.65 305.31 L112.81 301.48 L109.88 297.97 L106.62 294.51 L103.28 291.39 L100.00 288.74 L96.83 286.58 L93.77 284.94 L91.03 283.90 L89.61 283.56 L88.34 283.38 L87.06 283.33 L85.97 283.41 L84.71 283.64 L83.49 284.01 L82.30 284.50 L81.02 285.20 L78.48 287.00 L75.80 289.48 L72.86 292.74 L69.73 296.80 L66.65 301.34 L63.93 305.90 L61.71 310.11 L59.73 314.44 L58.07 318.70 L56.74 322.89 L55.69 327.16 L54.96 331.30 L54.49 335.67 L54.35 339.88 L54.50 344.09 L54.96 348.46 L55.70 352.60 L56.76 356.87 L58.09 361.05 L59.75 365.32 L61.73 369.64 L63.95 373.85 L66.78 378.56 L69.76 382.95 L72.90 387.00 L75.84 390.26 L78.53 392.74 L81.07 394.53 L82.36 395.22 L83.54 395.71 L84.77 396.07 L86.03 396.29 L87.13 396.36 L88.40 396.31 L89.67 396.13 L91.09 395.78 L93.82 394.73 L96.88 393.08 L100.05 390.92 L103.46 388.15 L106.79 385.02 L109.92 381.68 L112.85 378.16 L115.68 374.34 L118.29 370.37 L120.69 366.25 L122.85 362.01 L124.78 357.66 L126.46 353.21 L127.82 348.84 M127.81 348.90 L126.44 353.27 L124.76 357.72 L122.82 362.07 L120.66 366.31 L118.26 370.42 L115.65 374.39 L112.81 378.22 L109.88 381.73 L106.62 385.19 L103.28 388.31 L100.00 390.96 L96.83 393.12 L93.77 394.76 L91.03 395.80 L89.61 396.14 L88.34 396.32 L87.06 396.37 L85.97 396.29 L84.71 396.06 L83.49 395.69 L82.30 395.20 L81.02 394.50 L78.48 392.70 L75.80 390.22 L72.86 386.96 L69.73 382.90 L66.65 378.36 L63.93 373.80 L61.71 369.59 L59.73 365.26 L58.07 361.00 L56.74 356.81 L55.69 352.54 L54.96 348.40 L54.49 344.03 L54.35 339.82 L54.50 335.61 L54.96 331.24 L55.70 327.10 L56.76 322.83 L58.09 318.65 L59.75 314.38 L61.73 310.06 L63.95 305.85 L66.78 301.14 L69.76 296.75 L72.90 292.70 L75.84 289.44 L78.53 286.96 L81.07 285.17 L82.36 284.48 L83.54 283.99 L84.77 283.63 L86.03 283.41 L87.13 283.34 L88.40 283.39 L89.67 283.57 L91.09 283.92 L93.82 284.97 L96.88 286.62 L100.05 288.78 L103.46 291.55 L106.79 294.68 L109.92 298.02 L112.85 301.54 L115.68 305.36 L118.29 309.33 L120.69 313.45 L122.85 317.69 L124.78 322.04 L126.46 326.49 L127.82 330.86 M127.51 330.86 L126.11 327.08 L124.40 323.23 L122.46 319.50 L120.21 315.73 L117.84 312.25 L115.26 308.92 L112.48 305.76 L109.62 302.93 L106.71 300.42 L103.63 298.13 L100.52 296.20 L97.57 294.73 L94.66 293.64 L91.82 292.94 L89.10 292.66 L86.36 292.80 L83.86 293.34 L81.30 294.32 L78.76 295.77 L76.28 297.64 L73.77 300.04 L71.38 302.82 L69.13 305.94 L67.05 309.38 L65.39 312.64 L63.89 316.18 L62.64 319.82 L61.67 323.53 L60.95 327.31 L60.47 331.13 L60.16 335.51 L60.07 340.08 L60.19 344.66 L60.51 349.04 L61.02 352.85 L61.77 356.62 L62.78 360.33 L64.06 363.96 L65.59 367.48 L67.28 370.73 L69.29 374.00 L71.56 377.11 L73.96 379.86 L76.36 382.12 L78.84 383.99 L81.39 385.42 L83.96 386.39 L86.46 386.91 L89.20 387.04 L91.93 386.74 L94.76 386.03 L97.67 384.93 L100.61 383.45 L103.71 381.51 L106.79 379.22 L109.69 376.70 L112.55 373.86 L115.33 370.70 L117.90 367.37 L120.27 363.89 L122.51 360.11 L124.44 356.37 L126.15 352.52 L127.54 348.74 M127.51 348.84 L126.11 352.62 L124.40 356.47 L122.46 360.20 L120.21 363.97 L117.84 367.45 L115.26 370.78 L112.48 373.94 L109.62 376.77 L106.71 379.28 L103.63 381.57 L100.52 383.50 L97.57 384.97 L94.66 386.06 L91.82 386.76 L89.10 387.04 L86.36 386.90 L83.86 386.36 L81.30 385.38 L78.76 383.93 L76.28 382.06 L73.77 379.66 L71.38 376.88 L69.13 373.76 L67.05 370.32 L65.39 367.06 L63.89 363.52 L62.64 359.88 L61.67 356.17 L60.95 352.39 L60.47 348.57 L60.16 344.19 L60.07 339.62 L60.19 335.04 L60.51 330.66 L61.02 326.85 L61.77 323.08 L62.78 319.37 L64.06 315.74 L65.59 312.22 L67.28 308.97 L69.29 305.70 L71.56 302.59 L73.96 299.84 L76.36 297.58 L78.84 295.71 L81.39 294.28 L83.96 293.31 L86.46 292.79 L89.20 292.66 L91.93 292.96 L94.76 293.67 L97.67 294.77 L100.61 296.25 L103.71 298.19 L106.79 300.48 L109.69 303.00 L112.55 305.84 L115.33 309.00 L117.90 312.33 L120.27 315.81 L122.51 319.59 L124.44 323.33 L126.15 327.18 L127.54 330.96 M127.41 330.88 L125.95 327.13 L124.24 323.48 L122.22 319.79 L119.98 316.22 L117.63 312.95 L115.09 309.83 L112.34 306.89 L109.54 304.26 L106.70 301.96 L103.69 299.87 L100.68 298.14 L97.68 296.78 L94.73 295.80 L91.86 295.23 L89.13 295.05 L86.58 295.25 L83.91 295.88 L81.37 296.90 L78.84 298.37 L76.52 300.15 L74.27 302.30 L72.01 304.95 L69.90 307.94 L68.06 311.10 L66.55 314.23 L65.28 317.47 L64.26 320.79 L63.48 324.18 L62.94 327.62 L62.60 331.26 L62.42 335.47 L62.37 340.78 L62.46 345.72 L62.70 349.74 L63.12 353.38 L63.74 356.80 L64.61 360.17 L65.73 363.46 L67.09 366.66 L68.69 369.75 L70.62 372.85 L72.71 375.63 L74.93 378.07 L77.24 380.15 L79.63 381.84 L82.06 383.12 L84.64 384.04 L87.15 384.52 L89.71 384.64 L92.44 384.39 L95.29 383.74 L98.22 382.70 L101.19 381.29 L104.18 379.52 L107.16 377.39 L109.97 375.06 L112.75 372.40 L115.46 369.43 L117.98 366.29 L120.30 363.00 L122.51 359.42 L124.42 355.87 L126.10 352.21 L127.48 348.62 M127.41 348.82 L125.95 352.57 L124.24 356.22 L122.22 359.91 L119.98 363.48 L117.63 366.75 L115.09 369.87 L112.34 372.81 L109.54 375.44 L106.70 377.74 L103.69 379.83 L100.68 381.56 L97.68 382.92 L94.73 383.90 L91.86 384.47 L89.13 384.65 L86.58 384.45 L83.91 383.82 L81.37 382.80 L78.84 381.33 L76.52 379.55 L74.27 377.40 L72.01 374.75 L69.90 371.76 L68.06 368.60 L66.55 365.47 L65.28 362.23 L64.26 358.91 L63.48 355.52 L62.94 352.08 L62.60 348.44 L62.42 344.23 L62.37 338.92 L62.46 333.98 L62.70 329.96 L63.12 326.32 L63.74 322.90 L64.61 319.53 L65.73 316.24 L67.09 313.04 L68.69 309.95 L70.62 306.85 L72.71 304.07 L74.93 301.63 L77.24 299.55 L79.63 297.86 L82.06 296.58 L84.64 295.66 L87.15 295.18 L89.71 295.06 L92.44 295.31 L95.29 295.96 L98.22 297.00 L101.19 298.41 L104.18 300.18 L107.16 302.31 L109.97 304.64 L112.75 307.30 L115.46 310.27 L117.98 313.41 L120.30 316.70 L122.51 320.28 L124.42 323.83 L126.10 327.49 L127.48 331.08 M127.19 330.93 L125.64 327.41 L123.76 323.85 L121.65 320.43 L119.19 317.01 L116.62 313.91 L113.84 311.00 L110.98 308.44 L108.07 306.22 L105.15 304.34 L102.07 302.73 L99.01 301.51 L96.01 300.69 L93.12 300.25 L90.20 300.21 L87.48 300.56 L84.84 301.30 L82.50 302.33 L80.16 303.76 L78.01 305.47 L75.96 307.56 L74.15 309.85 L72.48 312.48 L71.10 315.27 L70.00 318.18 L69.45 320.11 L69.02 322.08 L68.73 324.07 L68.55 326.26 L68.53 328.28 L68.63 330.47 L69.47 337.38 L69.60 339.94 L69.45 342.49 L68.68 348.67 L68.52 352.14 L68.65 354.89 L69.02 357.61 L69.63 360.28 L70.48 362.90 L71.55 365.42 L72.84 367.84 L74.35 370.14 L75.95 372.14 L77.74 373.97 L79.56 375.50 L81.53 376.83 L83.64 377.92 L85.87 378.74 L88.01 379.24 L90.19 379.49 L92.56 379.49 L94.92 379.22 L97.42 378.67 L99.86 377.89 L102.39 376.82 L104.82 375.55 L107.31 374.01 L109.83 372.19 L112.22 370.20 L114.48 368.06 L116.74 365.66 L118.85 363.13 L120.92 360.34 L122.82 357.43 L124.47 354.58 L125.95 351.64 L127.25 348.61 M127.19 348.77 L125.64 352.29 L123.76 355.85 L121.65 359.27 L119.19 362.69 L116.62 365.79 L113.84 368.70 L110.98 371.26 L108.07 373.48 L105.15 375.36 L102.07 376.97 L99.01 378.19 L96.01 379.01 L93.12 379.45 L90.20 379.49 L87.48 379.14 L84.84 378.40 L82.50 377.37 L80.16 375.94 L78.01 374.23 L75.96 372.14 L74.15 369.85 L72.48 367.22 L71.10 364.43 L70.00 361.52 L69.45 359.59 L69.02 357.62 L68.73 355.63 L68.55 353.44 L68.53 351.42 L68.63 349.23 L69.47 342.32 L69.60 339.76 L69.45 337.21 L68.68 331.03 L68.52 327.56 L68.65 324.81 L69.02 322.09 L69.63 319.42 L70.48 316.80 L71.55 314.28 L72.84 311.86 L74.35 309.56 L75.95 307.56 L77.74 305.73 L79.56 304.20 L81.53 302.87 L83.64 301.78 L85.87 300.96 L88.01 300.46 L90.19 300.21 L92.56 300.21 L94.92 300.48 L97.42 301.03 L99.86 301.81 L102.39 302.88 L104.82 304.15 L107.31 305.69 L109.83 307.51 L112.22 309.50 L114.48 311.64 L116.74 314.04 L118.85 316.57 L120.92 319.36 L122.82 322.27 L124.47 325.12 L125.95 328.06 L127.25 331.09 M127.14 330.94 L125.57 327.44 L123.65 323.90 L121.39 320.35 L118.99 317.11 L116.37 314.06 L113.67 311.33 L110.76 308.81 L107.82 306.64 L104.85 304.83 L101.73 303.31 L98.81 302.24 L95.79 301.50 L92.89 301.16 L90.14 301.20 L87.44 301.62 L84.82 302.44 L82.50 303.53 L80.35 304.91 L78.24 306.66 L76.35 308.65 L74.68 310.83 L73.15 313.33 L71.90 315.97 L70.91 318.73 L70.33 321.04 L69.97 323.20 L69.78 325.58 L69.79 327.77 L70.16 331.23 L70.59 333.38 L71.68 337.83 L71.86 339.10 L71.89 340.19 L71.62 342.19 L70.60 346.27 L70.14 348.61 L69.85 350.97 L69.76 353.16 L69.89 355.72 L70.25 358.26 L70.85 360.75 L71.67 363.18 L72.79 365.68 L74.05 367.91 L75.51 370.02 L77.17 371.97 L78.88 373.62 L80.76 375.08 L82.79 376.32 L84.78 377.25 L86.86 377.93 L89.01 378.37 L91.20 378.56 L93.57 378.49 L95.93 378.17 L98.24 377.63 L100.67 376.82 L103.19 375.72 L105.61 374.44 L108.08 372.88 L110.44 371.14 L112.69 369.27 L114.95 367.13 L117.08 364.86 L119.08 362.48 L121.05 359.84 L122.87 357.09 L124.53 354.25 L125.95 351.48 L127.19 348.63 M127.14 348.76 L125.57 352.26 L123.65 355.80 L121.39 359.35 L118.99 362.59 L116.37 365.64 L113.67 368.37 L110.76 370.89 L107.82 373.06 L104.85 374.87 L101.73 376.39 L98.81 377.46 L95.79 378.20 L92.89 378.54 L90.14 378.50 L87.44 378.08 L84.82 377.26 L82.50 376.17 L80.35 374.79 L78.24 373.04 L76.35 371.05 L74.68 368.87 L73.15 366.37 L71.90 363.73 L70.91 360.97 L70.33 358.66 L69.97 356.50 L69.78 354.12 L69.79 351.93 L70.16 348.47 L70.59 346.32 L71.68 341.87 L71.86 340.60 L71.89 339.51 L71.62 337.51 L70.60 333.43 L70.14 331.09 L69.85 328.73 L69.76 326.54 L69.89 323.98 L70.25 321.44 L70.85 318.95 L71.67 316.52 L72.79 314.02 L74.05 311.79 L75.51 309.68 L77.17 307.73 L78.88 306.08 L80.76 304.62 L82.79 303.38 L84.78 302.45 L86.86 301.77 L89.01 301.33 L91.20 301.14 L93.57 301.21 L95.93 301.53 L98.24 302.07 L100.67 302.88 L103.19 303.98 L105.61 305.26 L108.08 306.82 L110.44 308.56 L112.69 310.43 L114.95 312.57 L117.08 314.84 L119.08 317.22 L121.05 319.86 L122.87 322.61 L124.53 325.45 L125.95 328.22 L127.19 331.07 M127.10 330.96 L125.50 327.46 L123.55 323.94 L121.35 320.56 L118.92 317.35 L116.27 314.32 L113.54 311.63 L110.74 309.27 L107.77 307.14 L104.77 305.37 L101.79 303.98 L98.86 302.95 L95.83 302.26 L92.92 301.97 L90.18 302.07 L87.48 302.55 L84.88 303.41 L82.75 304.46 L80.61 305.87 L78.66 307.53 L76.79 309.53 L75.15 311.74 L73.76 314.11 L72.63 316.60 L71.76 319.21 L71.14 322.07 L70.87 324.98 L70.94 327.73 L71.35 330.44 L72.10 333.08 L73.13 335.43 L74.35 337.47 L76.20 339.74 L76.24 339.90 L74.94 341.44 L73.89 342.94 L73.00 344.53 L72.19 346.38 L71.63 348.12 L71.19 350.08 L70.93 352.08 L70.85 354.09 L70.99 356.47 L71.35 358.82 L71.94 361.13 L72.81 363.54 L73.90 365.85 L75.11 367.90 L76.62 369.97 L78.21 371.74 L79.97 373.33 L81.75 374.63 L83.65 375.72 L85.66 376.59 L87.76 377.22 L89.92 377.60 L92.11 377.74 L94.31 377.64 L96.66 377.29 L98.96 376.72 L101.39 375.89 L103.73 374.86 L106.15 373.56 L108.47 372.09 L110.68 370.48 L112.94 368.61 L115.07 366.61 L117.21 364.35 L119.22 361.98 L121.10 359.49 L122.93 356.76 L124.52 354.08 L125.95 351.32 L127.14 348.64 M127.10 348.74 L125.50 352.24 L123.55 355.76 L121.35 359.14 L118.92 362.35 L116.27 365.38 L113.54 368.07 L110.74 370.43 L107.77 372.56 L104.77 374.33 L101.79 375.72 L98.86 376.75 L95.83 377.44 L92.92 377.73 L90.18 377.63 L87.48 377.15 L84.88 376.29 L82.75 375.24 L80.61 373.83 L78.66 372.17 L76.79 370.17 L75.15 367.96 L73.76 365.59 L72.63 363.10 L71.76 360.49 L71.14 357.63 L70.87 354.72 L70.94 351.97 L71.35 349.26 L72.10 346.62 L73.13 344.27 L74.35 342.23 L76.20 339.96 L76.24 339.80 L74.94 338.26 L73.89 336.76 L73.00 335.17 L72.19 333.32 L71.63 331.58 L71.19 329.62 L70.93 327.62 L70.85 325.61 L70.99 323.23 L71.35 320.88 L71.94 318.57 L72.81 316.16 L73.90 313.85 L75.11 311.80 L76.62 309.73 L78.21 307.96 L79.97 306.37 L81.75 305.07 L83.65 303.98 L85.66 303.11 L87.76 302.48 L89.92 302.10 L92.11 301.96 L94.31 302.06 L96.66 302.41 L98.96 302.98 L101.39 303.81 L103.73 304.84 L106.15 306.14 L108.47 307.61 L110.68 309.22 L112.94 311.09 L115.07 313.09 L117.21 315.35 L119.22 317.72 L121.10 320.21 L122.93 322.94 L124.52 325.62 L125.95 328.38 L127.14 331.06 M126.92 331.01 L125.54 328.21 L123.89 325.36 L122.06 322.63 L119.94 319.87 L117.77 317.39 L115.44 315.06 L112.96 312.90 L110.47 311.04 L108.00 309.46 L105.42 308.08 L102.90 307.01 L100.29 306.17 L97.78 305.63 L95.24 305.36 L92.86 305.39 L90.51 305.69 L88.91 306.08 L87.35 306.61 L86.01 307.20 L84.56 307.99 L83.35 308.80 L82.06 309.82 L80.86 310.95 L79.77 312.18 L78.78 313.50 L77.91 314.90 L77.16 316.37 L76.53 317.89 L76.04 319.46 L75.70 321.07 L75.52 322.71 L75.50 324.18 L75.76 326.35 L76.42 328.45 L77.42 330.19 L78.67 331.51 L79.88 332.33 L81.21 332.94 L86.44 334.44 L88.57 335.26 L90.46 336.39 L91.26 337.07 L91.90 337.78 M126.92 348.69 L125.54 351.49 L123.89 354.34 L122.06 357.07 L119.94 359.83 L117.77 362.31 L115.44 364.64 L112.96 366.80 L110.47 368.66 L108.00 370.24 L105.42 371.62 L102.90 372.69 L100.29 373.53 L97.78 374.07 L95.24 374.34 L92.86 374.31 L90.51 374.01 L88.91 373.62 L87.35 373.09 L86.01 372.50 L84.56 371.71 L83.35 370.90 L82.06 369.88 L80.86 368.75 L79.77 367.52 L78.78 366.20 L77.91 364.80 L77.16 363.33 L76.53 361.81 L76.04 360.24 L75.70 358.63 L75.52 356.99 L75.50 355.52 L75.76 353.35 L76.42 351.25 L77.42 349.51 L78.67 348.19 L79.88 347.37 L81.21 346.76 L86.44 345.26 L88.57 344.44 L90.46 343.31 L91.26 342.63 L91.90 341.92 M126.31 331.20 L125.04 329.19 L123.63 327.27 L122.11 325.44 L120.36 323.58 L118.48 321.83 L116.64 320.32 L114.71 318.93 L112.70 317.67 L110.76 316.64 L108.75 315.75 L106.69 315.02 L104.74 314.50 L102.76 314.16 L100.75 314.01 L98.93 314.07 L97.11 314.31 L95.34 314.77 L93.65 315.44 L92.06 316.35 L90.75 317.35 L89.49 318.67 L88.54 320.02 L87.83 321.50 L87.36 323.08 L87.19 324.35 L87.19 325.81 L87.40 327.26 L87.80 328.67 L88.66 330.69 L91.34 335.43 L92.34 337.64 M126.31 348.50 L125.04 350.51 L123.63 352.43 L122.11 354.26 L120.36 356.12 L118.48 357.87 L116.64 359.38 L114.71 360.77 L112.70 362.03 L110.76 363.06 L108.75 363.95 L106.69 364.68 L104.74 365.20 L102.76 365.54 L100.75 365.69 L98.93 365.63 L97.11 365.39 L95.34 364.93 L93.65 364.26 L92.06 363.35 L90.75 362.35 L89.49 361.03 L88.54 359.68 L87.83 358.20 L87.36 356.62 L87.19 355.35 L87.19 353.89 L87.40 352.44 L87.80 351.03 L88.66 349.01 L91.34 344.27 L92.34 342.06 M125.28 331.65 L123.22 329.57 L120.78 327.65 L118.13 326.02 L115.47 324.80 L112.69 323.89 L109.82 323.33 L107.08 323.18 L104.36 323.45 L102.06 324.07 L100.07 324.99 L98.29 326.26 L96.78 327.85 L95.57 329.69 L94.59 331.85 L93.75 334.56 L93.11 337.61 M125.28 348.05 L123.22 350.13 L120.78 352.05 L118.13 353.68 L115.47 354.90 L112.69 355.81 L109.82 356.37 L107.08 356.52 L104.36 356.25 L102.06 355.63 L100.07 354.71 L98.29 353.44 L96.78 351.85 L95.57 350.01 L94.59 347.85 L93.75 345.14 L93.11 342.09 M124.31 332.22 L122.80 331.19 L121.19 330.32 L119.51 329.61 L117.76 329.08 L115.96 328.73 L114.14 328.57 L112.32 328.60 L110.50 328.83 L107.86 329.55 L105.19 330.75 L100.92 333.24 L96.28 335.61 L94.88 336.64 L93.82 337.77 M124.31 347.48 L122.80 348.51 L121.19 349.38 L119.51 350.09 L117.76 350.62 L115.96 350.97 L114.14 351.13 L112.32 351.10 L110.50 350.87 L107.86 350.15 L105.19 348.95 L100.92 346.46 L96.28 344.09 L94.88 343.06 L93.82 341.93 M123.76 332.62 L121.45 331.53 L118.98 330.85 L116.44 330.61 L115.16 330.67 L113.89 330.84 L112.30 331.25 L110.93 331.77 L109.63 332.44 L108.26 333.36 L107.14 334.29 L106.09 335.32 L102.98 338.92 L102.11 339.80 L100.94 338.80 L100.04 338.18 L99.06 337.68 L98.07 337.35 L97.02 337.21 L96.02 337.28 L95.05 337.55 L94.21 338.00 M123.76 347.08 L121.45 348.17 L118.98 348.85 L116.44 349.09 L115.16 349.03 L113.89 348.86 L112.30 348.45 L110.93 347.93 L109.63 347.26 L108.26 346.34 L107.14 345.41 L106.09 344.38 L102.98 340.78 L102.11 339.90 L100.94 340.90 L100.04 341.52 L99.06 342.02 L98.07 342.35 L97.02 342.49 L96.02 342.42 L95.05 342.15 L94.21 341.70 M123.48 332.85 L122.14 332.28 L120.74 331.85 L119.30 331.57 L118.03 331.46 L116.57 331.50 L115.30 331.67 L114.05 331.98 L112.85 332.42 L111.55 333.08 L110.49 333.80 L109.53 334.65 L108.67 335.60 L107.95 336.65 L107.39 337.80 L107.08 338.86 L106.99 339.95 L107.13 341.04 L107.46 342.08 L108.05 343.22 L108.80 344.26 L109.67 345.19 L110.65 346.02 L111.73 346.72 L113.04 347.36 L114.25 347.78 L115.50 348.07 L116.77 348.22 L118.23 348.23 L119.50 348.10 L120.93 347.80 L122.33 347.35 L123.66 346.76 M123.48 346.85 L122.14 347.42 L120.74 347.85 L119.30 348.13 L118.03 348.24 L116.57 348.20 L115.30 348.03 L114.05 347.72 L112.85 347.28 L111.55 346.62 L110.49 345.90 L109.53 345.05 L108.67 344.10 L107.95 343.05 L107.39 341.90 L107.08 340.84 L106.99 339.75 L107.13 338.66 L107.46 337.62 L108.05 336.48 L108.80 335.44 L109.67 334.51 L110.65 333.68 L111.73 332.98 L113.04 332.34 L114.25 331.92 L115.50 331.63 L116.77 331.48 L118.23 331.47 L119.50 331.60 L120.93 331.90 L122.33 332.35 L123.66 332.94" fill="none" stroke="#262626" stroke-width="1.0" stroke-linejoin="round"/>
<path d="M111.05 436.89 L109.06 434.71 L107.07 432.53 L105.10 430.35 L103.15 428.17 L101.20 425.99 L99.28 423.81 L97.37 421.63 L95.47 419.45 L93.60 417.27 L91.74 415.09 L89.90 412.90 L88.09 410.72 L86.29 408.54 L84.52 406.36 L82.78 404.18 L81.06 402.00 L79.37 399.82 L77.70 397.64 L76.07 395.46 L74.48 393.28 L72.91 391.10 L71.39 388.92 L69.90 386.74 L68.46 384.56 L67.05 382.37 L65.70 380.19 L64.39 378.01 L63.13 375.83 L61.93 373.65 L60.79 371.47 L59.70 369.29 L58.67 367.11 L57.71 364.93 L56.82 362.75 L56.00 360.57 L55.25 358.39 L54.58 356.21 L53.99 354.02 L53.48 351.84 L53.04 349.66 L52.70 347.48 L52.44 345.30 L52.26 343.12 L52.17 340.94 L52.17 338.76 L52.26 336.58 L52.44 334.40 L52.70 332.22 L53.04 330.04 L53.48 327.86 L53.99 325.68 L54.58 323.49 L55.25 321.31 L56.00 319.13 L56.82 316.95 L57.71 314.77 L58.67 312.59 L59.70 310.41 L60.79 308.23 L61.93 306.05 L63.13 303.87 L64.39 301.69 L65.70 299.51 L67.05 297.33 L68.46 295.14 L69.90 292.96 L71.39 290.78 L72.91 288.60 L74.48 286.42 L76.07 284.24 L77.70 282.06 L79.37 279.88 L81.06 277.70 L82.78 275.52 L84.52 273.34 L86.29 271.16 L88.09 268.98 L89.90 266.80 L91.74 264.61 L93.60 262.43 L95.47 260.25 L97.37 258.07 L99.28 255.89 L101.20 253.71 L103.15 251.53 L105.10 249.35 L107.07 247.17 L109.06 244.99 L111.05 242.81" fill="none" stroke="#4d6ff5" stroke-width="1.25"/>
<circle cx="129.60" cy="339.65" r="9.1" fill="#0a3cff" stroke="#1a1a1a" stroke-width="0.8"/>
<circle cx="92.87" cy="339.85" r="2.2" fill="#c8282e" stroke="#222" stroke-width="0.7"/>
</g>
<rect x="38.0" y="248.3" width="182.90" height="183.10" fill="none" stroke="#3a3a3a" stroke-width="1.2"/>
<line x1="220.90" y1="431.4" x2="220.90" y2="439.90" stroke="#3a3a3a" stroke-width="1"/>
<line x1="211.75" y1="431.4" x2="211.75" y2="435.40" stroke="#3a3a3a" stroke-width="1"/>
<line x1="202.61" y1="431.4" x2="202.61" y2="435.40" stroke="#3a3a3a" stroke-width="1"/>
<line x1="193.46" y1="431.4" x2="193.46" y2="435.40" stroke="#3a3a3a" stroke-width="1"/>
<line x1="184.32" y1="431.4" x2="184.32" y2="435.40" stroke="#3a3a3a" stroke-width="1"/>
<line x1="175.17" y1="431.4" x2="175.17" y2="439.90" stroke="#3a3a3a" stroke-width="1"/>
<line x1="166.03" y1="431.4" x2="166.03" y2="435.40" stroke="#3a3a3a" stroke-width="1"/>
<line x1="156.88" y1="431.4" x2="156.88" y2="435.40" stroke="#3a3a3a" stroke-width="1"/>
<line x1="147.74" y1="431.4" x2="147.74" y2="435.40" stroke="#3a3a3a" stroke-width="1"/>
<line x1="138.59" y1="431.4" x2="138.59" y2="435.40" stroke="#3a3a3a" stroke-width="1"/>
<line x1="129.45" y1="431.4" x2="129.45" y2="439.90" stroke="#3a3a3a" stroke-width="1"/>
<line x1="120.30" y1="431.4" x2="120.30" y2="435.40" stroke="#3a3a3a" stroke-width="1"/>
<line x1="111.16" y1="431.4" x2="111.16" y2="435.40" stroke="#3a3a3a" stroke-width="1"/>
<line x1="102.01" y1="431.4" x2="102.01" y2="435.40" stroke="#3a3a3a" stroke-width="1"/>
<line x1="92.87" y1="431.4" x2="92.87" y2="435.40" stroke="#3a3a3a" stroke-width="1"/>
<line x1="83.72" y1="431.4" x2="83.72" y2="439.90" stroke="#3a3a3a" stroke-width="1"/>
<line x1="74.58" y1="431.4" x2="74.58" y2="435.40" stroke="#3a3a3a" stroke-width="1"/>
<line x1="65.43" y1="431.4" x2="65.43" y2="435.40" stroke="#3a3a3a" stroke-width="1"/>
<line x1="56.29" y1="431.4" x2="56.29" y2="435.40" stroke="#3a3a3a" stroke-width="1"/>
<line x1="47.14" y1="431.4" x2="47.14" y2="435.40" stroke="#3a3a3a" stroke-width="1"/>
<line x1="38.00" y1="431.4" x2="38.00" y2="439.90" stroke="#3a3a3a" stroke-width="1"/>
<text x="38.80" y="452.60" text-anchor="middle" font-size="9.8">10</text>
<text x="84.52" y="452.60" text-anchor="middle" font-size="9.8">5</text>
<text x="130.25" y="452.60" text-anchor="middle" font-size="9.8">0</text>
<text x="172.87" y="452.60" text-anchor="middle" font-size="9.8">-5</text>
<text x="218.60" y="452.60" text-anchor="middle" font-size="9.8">-10</text>
<line x1="29.50" y1="431.40" x2="38.0" y2="431.40" stroke="#3a3a3a" stroke-width="1"/>
<line x1="33.80" y1="422.25" x2="38.0" y2="422.25" stroke="#3a3a3a" stroke-width="1"/>
<line x1="33.80" y1="413.09" x2="38.0" y2="413.09" stroke="#3a3a3a" stroke-width="1"/>
<line x1="33.80" y1="403.94" x2="38.0" y2="403.94" stroke="#3a3a3a" stroke-width="1"/>
<line x1="33.80" y1="394.78" x2="38.0" y2="394.78" stroke="#3a3a3a" stroke-width="1"/>
<line x1="29.50" y1="385.62" x2="38.0" y2="385.62" stroke="#3a3a3a" stroke-width="1"/>
<line x1="33.80" y1="376.47" x2="38.0" y2="376.47" stroke="#3a3a3a" stroke-width="1"/>
<line x1="33.80" y1="367.31" x2="38.0" y2="367.31" stroke="#3a3a3a" stroke-width="1"/>
<line x1="33.80" y1="358.16" x2="38.0" y2="358.16" stroke="#3a3a3a" stroke-width="1"/>
<line x1="33.80" y1="349.00" x2="38.0" y2="349.00" stroke="#3a3a3a" stroke-width="1"/>
<line x1="29.50" y1="339.85" x2="38.0" y2="339.85" stroke="#3a3a3a" stroke-width="1"/>
<line x1="33.80" y1="330.70" x2="38.0" y2="330.70" stroke="#3a3a3a" stroke-width="1"/>
<line x1="33.80" y1="321.54" x2="38.0" y2="321.54" stroke="#3a3a3a" stroke-width="1"/>
<line x1="33.80" y1="312.39" x2="38.0" y2="312.39" stroke="#3a3a3a" stroke-width="1"/>
<line x1="33.80" y1="303.23" x2="38.0" y2="303.23" stroke="#3a3a3a" stroke-width="1"/>
<line x1="29.50" y1="294.08" x2="38.0" y2="294.08" stroke="#3a3a3a" stroke-width="1"/>
<line x1="33.80" y1="284.92" x2="38.0" y2="284.92" stroke="#3a3a3a" stroke-width="1"/>
<line x1="33.80" y1="275.77" x2="38.0" y2="275.77" stroke="#3a3a3a" stroke-width="1"/>
<line x1="33.80" y1="266.61" x2="38.0" y2="266.61" stroke="#3a3a3a" stroke-width="1"/>
<line x1="33.80" y1="257.46" x2="38.0" y2="257.46" stroke="#3a3a3a" stroke-width="1"/>
<line x1="29.50" y1="248.30" x2="38.0" y2="248.30" stroke="#3a3a3a" stroke-width="1"/>
<text x="25" y="251.70" text-anchor="end" font-size="9.8">10</text>
<text x="25" y="297.48" text-anchor="end" font-size="9.8">5</text>
<text x="25" y="343.25" text-anchor="end" font-size="9.8">0</text>
<text x="25" y="389.02" text-anchor="end" font-size="9.8">-5</text>
<text x="25" y="434.80" text-anchor="end" font-size="9.8">-10</text>
<text transform="translate(9.2 339.0) rotate(-90)" text-anchor="middle" font-size="9.5">Planetary Radii (Rp)</text>
<text x="129.95" y="464.8" text-anchor="middle" font-size="9.5">Planetary Radii (Rp)</text>
<g clip-path="url(#c5)">
<line x1="236.6" y1="339.85" x2="464.4" y2="339.85" stroke="#5a5a5a" stroke-width="1.15" stroke-dasharray="9.7 9.4" stroke-dashoffset="15.90"/>
<line x1="418.84" y1="248.3" x2="418.84" y2="431.4" stroke="#5a5a5a" stroke-width="1.15" stroke-dasharray="9.2 9.9" stroke-dashoffset="5.8"/>
<path d="M423.72 347.38 L425.34 348.56 L427.25 349.62 L429.28 350.46 L431.38 351.04 L433.54 351.37 L435.55 351.44 L437.72 351.23 L439.67 350.79 L441.55 350.08 L443.31 349.12 L444.91 347.91 L446.17 346.59 L447.21 345.09 L447.99 343.43 L448.47 341.67 L448.64 339.85 L448.47 338.03 L447.99 336.27 L447.21 334.61 L446.17 333.11 L444.91 331.79 L443.31 330.58 L441.55 329.62 L439.67 328.91 L437.72 328.47 L435.55 328.26 L433.54 328.33 L431.38 328.66 L429.28 329.24 L427.25 330.08 L425.34 331.14 L423.72 332.32 M423.72 332.32 L425.34 331.14 L427.25 330.08 L429.28 329.24 L431.38 328.66 L433.54 328.33 L435.55 328.26 L437.72 328.47 L439.67 328.91 L441.55 329.62 L443.31 330.58 L444.91 331.79 L446.17 333.11 L447.21 334.61 L447.99 336.27 L448.47 338.03 L448.64 339.85 L448.47 341.67 L447.99 343.43 L447.21 345.09 L446.17 346.59 L444.91 347.91 L443.31 349.12 L441.55 350.08 L439.67 350.79 L437.72 351.23 L435.55 351.44 L433.54 351.37 L431.38 351.04 L429.28 350.46 L427.25 349.62 L425.34 348.56 L423.72 347.38 M422.07 348.36 L423.83 350.92 L425.80 353.32 L427.97 355.54 L430.45 357.70 L433.10 359.64 L435.89 361.37 L438.81 362.86 L441.68 364.05 L444.80 365.06 L447.81 365.77 L450.88 366.23 L453.97 366.44 L457.06 366.38 L460.14 366.05 L463.18 365.45 L465.98 364.62 M465.79 315.02 L462.99 314.21 L459.95 313.62 L456.87 313.31 L453.77 313.27 L450.68 313.49 L447.62 313.97 L444.61 314.70 L441.49 315.72 L438.64 316.92 L435.72 318.43 L432.93 320.17 L430.30 322.13 L427.83 324.30 L425.67 326.53 L423.71 328.94 L422.07 331.36 M422.07 331.34 L423.83 328.78 L425.80 326.38 L427.97 324.16 L430.45 322.00 L433.10 320.06 L435.89 318.33 L438.81 316.84 L441.68 315.65 L444.80 314.64 L447.81 313.93 L450.88 313.47 L453.97 313.26 L457.06 313.32 L460.14 313.65 L463.18 314.25 L465.98 315.08 M465.79 364.68 L462.99 365.49 L459.95 366.08 L456.87 366.39 L453.77 366.43 L450.68 366.21 L447.62 365.73 L444.61 365.00 L441.49 363.98 L438.64 362.78 L435.72 361.27 L432.93 359.53 L430.30 357.57 L427.83 355.40 L425.67 353.17 L423.71 350.76 L422.07 348.34 M465.85 298.74 L462.42 299.25 L458.86 300.02 L455.53 300.98 L452.10 302.21 L448.92 303.59 L445.67 305.26 L442.54 307.12 L439.52 309.18 L436.64 311.42 L433.77 313.96 L431.19 316.54 L428.77 319.28 L426.53 322.17 L424.49 325.20 L422.74 328.21 L421.30 331.17 M465.85 380.96 L462.42 380.45 L458.86 379.68 L455.53 378.72 L452.10 377.49 L448.92 376.11 L445.67 374.44 L442.54 372.58 L439.52 370.52 L436.64 368.28 L433.77 365.74 L431.19 363.16 L428.77 360.42 L426.53 357.53 L424.49 354.50 L422.74 351.49 L421.30 348.53 M465.78 285.63 L462.02 287.03 L458.35 288.65 L454.78 290.49 L451.33 292.54 L448.00 294.78 L444.66 297.32 L441.61 299.94 L438.57 302.84 L435.70 305.91 L432.88 309.27 L430.25 312.78 L427.92 316.27 L425.77 319.89 L423.82 323.62 L422.17 327.29 L420.76 331.06 M465.78 394.07 L462.02 392.67 L458.35 391.05 L454.78 389.21 L451.33 387.16 L448.00 384.92 L444.66 382.38 L441.61 379.76 L438.57 376.86 L435.70 373.79 L432.88 370.43 L430.25 366.92 L427.92 363.43 L425.77 359.81 L423.82 356.08 L422.17 352.41 L420.76 348.64 M465.87 272.47 L461.83 274.58 L457.92 276.92 L454.30 279.39 L450.68 282.18 L447.37 285.05 L444.10 288.23 L441.01 291.59 L437.99 295.26 L435.06 299.24 L432.34 303.36 L429.74 307.76 L427.36 312.30 L425.19 316.94 L423.26 321.68 L421.64 326.35 L420.33 330.92 M465.87 407.23 L461.83 405.12 L457.92 402.78 L454.30 400.31 L450.68 397.52 L447.37 394.65 L444.10 391.47 L441.01 388.11 L437.99 384.44 L435.06 380.46 L432.34 376.34 L429.74 371.94 L427.36 367.40 L425.19 362.76 L423.26 358.02 L421.64 353.35 L420.33 348.78 M392.68 246.90 L391.05 248.87 L389.79 250.66 L388.80 252.42 L388.20 253.95 L387.84 255.56 L387.76 257.02 L387.92 258.66 L388.34 260.44 L389.35 263.18 L391.01 266.65 L398.95 281.06 L402.84 288.53 L405.84 294.80 L408.48 300.83 L411.54 308.67 L414.11 316.30 L416.18 323.70 L417.75 330.86 M392.68 432.80 L391.05 430.83 L389.79 429.04 L388.80 427.28 L388.20 425.75 L387.84 424.14 L387.76 422.68 L387.92 421.04 L388.34 419.26 L389.35 416.52 L391.01 413.05 L398.95 398.64 L402.84 391.17 L405.84 384.90 L408.48 378.87 L411.54 371.03 L414.11 363.40 L416.18 356.00 L417.75 348.84 M407.21 246.84 L406.06 249.13 L405.10 251.50 L404.40 253.77 L403.89 256.10 L403.59 258.46 L403.47 261.02 L403.56 263.76 L403.84 266.68 L404.59 271.19 L405.75 276.37 L411.68 298.47 L414.44 309.86 L415.61 315.41 L416.63 320.81 L417.45 325.87 L418.11 330.76 M407.21 432.86 L406.06 430.57 L405.10 428.20 L404.40 425.93 L403.89 423.60 L403.59 421.24 L403.47 418.68 L403.56 415.94 L403.84 413.02 L404.59 408.51 L405.75 403.33 L411.68 381.23 L414.44 369.84 L415.61 364.29 L416.63 358.89 L417.45 353.83 L418.11 348.94 M414.36 347.67 L412.43 349.34 L410.14 350.85 L407.70 352.06 L405.11 352.96 L402.44 353.53 L399.90 353.75 L397.35 353.64 L394.84 353.19 L392.42 352.40 L390.14 351.25 L388.21 349.87 L386.52 348.21 L385.13 346.28 L384.16 344.32 L383.50 342.03 L383.30 339.85 L383.50 337.67 L384.16 335.38 L385.13 333.42 L386.52 331.49 L388.21 329.83 L390.14 328.45 L392.42 327.30 L394.84 326.51 L397.35 326.06 L399.90 325.95 L402.44 326.17 L405.11 326.74 L407.70 327.64 L410.14 328.85 L412.43 330.36 L414.36 332.03 M414.36 332.03 L412.43 330.36 L410.14 328.85 L407.70 327.64 L405.11 326.74 L402.44 326.17 L399.90 325.95 L397.35 326.06 L394.84 326.51 L392.42 327.30 L390.14 328.45 L388.21 329.83 L386.52 331.49 L385.13 333.42 L384.16 335.38 L383.50 337.67 L383.30 339.85 L383.50 342.03 L384.16 344.32 L385.13 346.28 L386.52 348.21 L388.21 349.87 L390.14 351.25 L392.42 352.40 L394.84 353.19 L397.35 353.64 L399.90 353.75 L402.44 353.53 L405.11 352.96 L407.70 352.06 L410.14 350.85 L412.43 349.34 L414.36 347.67 M345.25 337.62 L344.41 336.21 L343.33 334.85 L342.00 333.53 L340.47 332.31 L338.95 331.29 L337.22 330.28 L329.89 326.58 L328.37 325.57 L327.32 324.56 L326.82 323.79 L326.55 323.12 L326.37 322.22 L326.35 321.31 L326.49 320.22 L326.78 318.97 L327.75 316.21 L329.21 313.06 L331.05 309.69 L333.26 306.11 L335.83 302.33 L338.65 298.50 L341.82 294.49 L345.23 290.43 L349.00 286.20 L353.39 281.55 L357.90 277.02 L362.67 272.49 L366.50 269.11 L369.52 266.75 L371.96 265.14 L374.10 264.13 L375.87 263.73 L376.96 263.72 L378.04 263.90 L379.08 264.25 L380.22 264.81 L381.46 265.59 L382.62 266.47 L385.45 269.05 L388.79 272.69 L392.34 277.10 L395.99 282.13 L399.49 287.49 L402.57 292.67 L405.53 298.14 L408.27 303.73 L410.71 309.25 L412.91 314.87 L414.81 320.41 L416.36 325.68 L417.59 330.84 M345.25 342.08 L344.41 343.49 L343.33 344.85 L342.00 346.17 L340.47 347.39 L338.95 348.41 L337.22 349.42 L329.89 353.12 L328.37 354.13 L327.32 355.14 L326.82 355.91 L326.55 356.58 L326.37 357.48 L326.35 358.39 L326.49 359.48 L326.78 360.73 L327.75 363.49 L329.21 366.64 L331.05 370.01 L333.26 373.59 L335.83 377.37 L338.65 381.20 L341.82 385.21 L345.23 389.27 L349.00 393.50 L353.39 398.15 L357.90 402.68 L362.67 407.21 L366.50 410.59 L369.52 412.95 L371.96 414.56 L374.10 415.57 L375.87 415.97 L376.96 415.98 L378.04 415.80 L379.08 415.45 L380.22 414.89 L381.46 414.11 L382.62 413.23 L385.45 410.65 L388.79 407.01 L392.34 402.60 L395.99 397.57 L399.49 392.21 L402.57 387.03 L405.53 381.56 L408.27 375.97 L410.71 370.45 L412.91 364.83 L414.81 359.29 L416.36 354.02 L417.59 348.86 M345.42 337.58 L344.52 335.52 L343.26 333.40 L341.50 331.01 L337.87 326.67 L336.53 324.93 L335.26 322.92 L334.44 321.09 L334.08 319.86 L333.86 318.59 L333.79 317.32 L333.86 316.04 L334.08 314.59 L334.43 313.17 L335.56 310.08 L336.86 307.45 L338.43 304.77 L340.37 301.89 L342.55 298.96 L344.98 295.99 L347.66 292.99 L350.45 290.10 L353.24 287.46 L355.85 285.19 L358.44 283.16 L360.98 281.38 L363.33 279.97 L365.61 278.83 L367.82 277.97 L369.93 277.40 L371.91 277.10 L373.36 277.03 L374.82 277.09 L376.27 277.29 L377.69 277.60 L380.61 278.63 L383.68 280.23 L386.85 282.38 L390.08 285.06 L393.49 288.37 L396.78 292.04 L400.08 296.19 L403.35 300.82 L406.38 305.61 L409.25 310.71 L411.77 315.79 L414.01 321.00 L415.84 325.98 L417.30 330.89 M345.42 342.12 L344.52 344.18 L343.26 346.30 L341.50 348.69 L337.87 353.03 L336.53 354.77 L335.26 356.78 L334.44 358.61 L334.08 359.84 L333.86 361.11 L333.79 362.38 L333.86 363.66 L334.08 365.11 L334.43 366.53 L335.56 369.62 L336.86 372.25 L338.43 374.93 L340.37 377.81 L342.55 380.74 L344.98 383.71 L347.66 386.71 L350.45 389.60 L353.24 392.24 L355.85 394.51 L358.44 396.54 L360.98 398.32 L363.33 399.73 L365.61 400.87 L367.82 401.73 L369.93 402.30 L371.91 402.60 L373.36 402.67 L374.82 402.61 L376.27 402.41 L377.69 402.10 L380.61 401.07 L383.68 399.47 L386.85 397.32 L390.08 394.64 L393.49 391.33 L396.78 387.66 L400.08 383.51 L403.35 378.88 L406.38 374.09 L409.25 368.99 L411.77 363.91 L414.01 358.70 L415.84 353.72 L417.30 348.81 M345.66 337.53 L344.66 333.54 L341.80 324.85 L341.27 322.53 L340.97 320.35 L340.96 317.61 L341.36 314.90 L342.19 312.09 L343.46 309.25 L344.53 307.34 L345.73 305.50 L347.13 303.58 L348.76 301.61 L350.36 299.86 L352.18 298.06 L354.09 296.36 L355.94 294.87 L357.87 293.49 L359.72 292.32 L361.64 291.26 L363.45 290.41 L365.33 289.69 L367.07 289.16 L369.03 288.73 L370.83 288.48 L373.93 288.41 L377.00 288.75 L380.19 289.53 L383.26 290.69 L386.52 292.32 L389.77 294.34 L393.00 296.73 L396.32 299.59 L399.70 302.93 L402.86 306.48 L405.80 310.21 L408.63 314.25 L411.22 318.45 L413.46 322.65 L415.35 326.81 L416.90 330.92 M345.66 342.17 L344.66 346.16 L341.80 354.85 L341.27 357.17 L340.97 359.35 L340.96 362.09 L341.36 364.80 L342.19 367.61 L343.46 370.45 L344.53 372.36 L345.73 374.20 L347.13 376.12 L348.76 378.09 L350.36 379.84 L352.18 381.64 L354.09 383.34 L355.94 384.83 L357.87 386.21 L359.72 387.38 L361.64 388.44 L363.45 389.29 L365.33 390.01 L367.07 390.54 L369.03 390.97 L370.83 391.22 L373.93 391.29 L377.00 390.95 L380.19 390.17 L383.26 389.01 L386.52 387.38 L389.77 385.36 L393.00 382.97 L396.32 380.11 L399.70 376.77 L402.86 373.22 L405.80 369.49 L408.63 365.45 L411.22 361.25 L413.46 357.05 L415.35 352.89 L416.90 348.78 M345.18 337.65 L344.00 335.96 L342.45 334.42 L340.52 333.05 L338.29 331.90 L335.73 330.94 L332.72 330.19 L329.66 329.77 L327.29 329.77 L325.86 330.05 L324.87 330.51 L324.04 331.21 L323.31 332.26 L322.69 333.78 L322.25 335.56 L321.96 337.74 L321.88 340.11 L321.99 342.31 L322.32 344.48 L322.79 346.25 L323.39 347.58 L324.15 348.61 L325.01 349.28 L326.02 349.70 L327.45 349.95 L330.00 349.91 L332.88 349.48 L335.88 348.71 L338.44 347.74 L340.62 346.59 L342.50 345.23 L344.05 343.68 L345.21 341.99 M345.18 342.05 L344.00 343.74 L342.45 345.28 L340.52 346.65 L338.29 347.80 L335.73 348.76 L332.72 349.51 L329.66 349.93 L327.29 349.93 L325.86 349.65 L324.87 349.19 L324.04 348.49 L323.31 347.44 L322.69 345.92 L322.25 344.14 L321.96 341.96 L321.88 339.59 L321.99 337.39 L322.32 335.22 L322.79 333.45 L323.39 332.12 L324.15 331.09 L325.01 330.42 L326.02 330.00 L327.45 329.75 L330.00 329.79 L332.88 330.22 L335.88 330.99 L338.44 331.96 L340.62 333.11 L342.50 334.47 L344.05 336.02 L345.21 337.71 M345.11 337.67 L344.15 336.39 L342.89 335.20 L341.43 334.20 L339.80 333.38 L338.03 332.76 L336.07 332.35 L334.08 332.18 L332.26 332.27 L330.65 332.56 L329.27 333.05 L328.01 333.77 L327.06 334.62 L326.29 335.65 L325.68 336.97 L325.32 338.39 L325.21 340.03 L325.35 341.49 L325.74 342.90 L326.39 344.21 L327.18 345.21 L328.16 346.03 L329.44 346.73 L330.82 347.18 L332.44 347.45 L334.26 347.51 L336.25 347.33 L338.21 346.89 L339.92 346.27 L341.54 345.43 L343.00 344.41 L344.21 343.24 L345.16 341.95 M345.11 342.03 L344.15 343.31 L342.89 344.50 L341.43 345.50 L339.80 346.32 L338.03 346.94 L336.07 347.35 L334.08 347.52 L332.26 347.43 L330.65 347.14 L329.27 346.65 L328.01 345.93 L327.06 345.08 L326.29 344.05 L325.68 342.73 L325.32 341.31 L325.21 339.67 L325.35 338.21 L325.74 336.80 L326.39 335.49 L327.18 334.49 L328.16 333.67 L329.44 332.97 L330.82 332.52 L332.44 332.25 L334.26 332.19 L336.25 332.37 L338.21 332.81 L339.92 333.43 L341.54 334.27 L343.00 335.29 L344.21 336.46 L345.16 337.75 M344.93 337.75 L344.26 337.06 L343.47 336.44 L342.61 335.93 L341.65 335.52 L340.64 335.24 L339.65 335.09 L338.60 335.07 L337.60 335.19 L336.55 335.48 L335.72 335.85 L334.95 336.34 L334.28 336.95 L333.73 337.68 L333.40 338.34 L333.16 339.22 L333.11 339.95 L333.19 340.67 L333.48 341.54 L333.83 342.18 L334.41 342.89 L335.10 343.48 L335.89 343.94 L336.73 344.29 L337.79 344.54 L338.79 344.63 L339.79 344.60 L340.78 344.43 L341.74 344.15 L342.66 343.75 L343.52 343.23 L344.30 342.60 L344.96 341.91 M344.93 341.95 L344.26 342.64 L343.47 343.26 L342.61 343.77 L341.65 344.18 L340.64 344.46 L339.65 344.61 L338.60 344.63 L337.60 344.51 L336.55 344.22 L335.72 343.85 L334.95 343.36 L334.28 342.75 L333.73 342.02 L333.40 341.36 L333.16 340.48 L333.11 339.75 L333.19 339.03 L333.48 338.16 L333.83 337.52 L334.41 336.81 L335.10 336.22 L335.89 335.76 L336.73 335.41 L337.79 335.16 L338.79 335.07 L339.79 335.10 L340.78 335.27 L341.74 335.55 L342.66 335.95 L343.52 336.47 L344.30 337.10 L344.96 337.79 M344.45 338.06 L343.77 337.80 L343.05 337.68 L342.33 337.72 L341.67 337.91 L341.09 338.26 L340.65 338.72 L340.37 339.29 L340.28 339.88 L340.38 340.46 L340.68 341.03 L341.13 341.48 L341.73 341.81 L342.39 341.99 L343.11 342.02 L343.83 341.89 L344.50 341.61 M344.45 341.64 L343.77 341.90 L343.05 342.02 L342.33 341.98 L341.67 341.79 L341.09 341.44 L340.65 340.98 L340.37 340.41 L340.28 339.82 L340.38 339.24 L340.68 338.67 L341.13 338.22 L341.73 337.89 L342.39 337.71 L343.11 337.68 L343.83 337.81 L344.50 338.09 M347.59 338.20 L348.66 338.06 L349.66 338.34 L350.36 338.99 L350.55 339.40 L350.62 339.86 L350.55 340.31 L350.35 340.72 L350.03 341.10 L349.61 341.38 L348.61 341.65 L347.53 341.48 M347.59 341.50 L348.66 341.64 L349.66 341.36 L350.36 340.71 L350.55 340.30 L350.62 339.84 L350.55 339.39 L350.35 338.98 L350.03 338.60 L349.61 338.32 L348.61 338.05 L347.53 338.22 M415.01 331.49 L413.85 330.08 L412.60 328.75 L409.86 326.34 L406.84 324.28 L403.45 322.52 L401.59 321.76 L399.86 321.19 L396.31 320.36 L392.69 319.99 L389.23 320.08 L385.82 320.65 L384.06 321.13 L382.51 321.67 L381.00 322.32 L379.38 323.15 L377.82 324.10 L376.33 325.16 L373.96 327.16 L371.66 329.51 L369.65 331.87 L365.33 337.31 L363.13 339.75 L362.96 339.76 L361.76 338.64 L360.48 337.61 L358.63 336.44 L356.63 335.56 L354.50 335.07 L353.41 334.99 L352.32 335.04 L351.24 335.21 L350.23 335.51 L349.27 335.92 L348.37 336.46 L347.59 337.09 L346.90 337.82 M415.01 348.21 L413.85 349.62 L412.60 350.95 L409.86 353.36 L406.84 355.42 L403.45 357.18 L401.59 357.94 L399.86 358.51 L396.31 359.34 L392.69 359.71 L389.23 359.62 L385.82 359.05 L384.06 358.57 L382.51 358.03 L381.00 357.38 L379.38 356.55 L377.82 355.60 L376.33 354.54 L373.96 352.54 L371.66 350.19 L369.65 347.83 L365.33 342.39 L363.13 339.95 L362.96 339.94 L361.76 341.06 L360.48 342.09 L358.63 343.26 L356.63 344.14 L354.50 344.63 L353.41 344.71 L352.32 344.66 L351.24 344.49 L350.23 344.19 L349.27 343.78 L348.37 343.24 L347.59 342.61 L346.90 341.88 M415.01 331.49 L413.85 330.08 L412.47 328.62 L411.13 327.39 L409.56 326.12 L407.93 324.96 L406.21 323.92 L404.44 322.98 L402.61 322.16 L400.73 321.46 L398.81 320.89 L396.85 320.45 L395.05 320.17 L393.05 320.00 L391.23 319.97 L389.41 320.07 L387.60 320.29 L384.41 321.02 L381.33 322.17 L378.44 323.71 L375.61 325.72 L373.43 327.67 L371.18 330.06 L365.57 337.04 L363.43 339.54 L363.29 339.87 L363.45 340.19 L365.59 342.68 L371.20 349.67 L373.46 352.06 L375.64 354.00 L378.46 356.00 L381.36 357.54 L384.44 358.69 L387.63 359.41 L389.44 359.63 L391.44 359.73 L393.27 359.69 L395.26 359.50 L397.06 359.20 L399.01 358.75 L400.93 358.17 L402.81 357.46 L404.63 356.63 L406.40 355.68 L408.10 354.62 L409.74 353.45 L411.29 352.17 L412.62 350.92 L413.99 349.46 L415.14 348.04 M415.01 348.21 L413.85 349.62 L412.47 351.08 L411.13 352.31 L409.56 353.58 L407.93 354.74 L406.21 355.78 L404.44 356.72 L402.61 357.54 L400.73 358.24 L398.81 358.81 L396.85 359.25 L395.05 359.53 L393.05 359.70 L391.23 359.73 L389.41 359.63 L387.60 359.41 L384.41 358.68 L381.33 357.53 L378.44 355.99 L375.61 353.98 L373.43 352.03 L371.18 349.64 L365.57 342.66 L363.43 340.16 L363.29 339.83 L363.45 339.51 L365.59 337.02 L371.20 330.03 L373.46 327.64 L375.64 325.70 L378.46 323.70 L381.36 322.16 L384.44 321.01 L387.63 320.29 L389.44 320.07 L391.44 319.97 L393.27 320.01 L395.26 320.20 L397.06 320.50 L399.01 320.95 L400.93 321.53 L402.81 322.24 L404.63 323.07 L406.40 324.02 L408.10 325.08 L409.74 326.25 L411.29 327.53 L412.62 328.78 L413.99 330.24 L415.14 331.66" fill="none" stroke="#555555" stroke-width="0.85" stroke-linejoin="round"/>
<path d="M394.39 436.89 L391.85 434.71 L389.34 432.53 L386.84 430.35 L384.36 428.17 L381.90 425.99 L379.47 423.81 L377.05 421.63 L374.66 419.45 L372.30 417.27 L369.96 415.09 L367.65 412.90 L365.37 410.72 L363.12 408.54 L360.90 406.36 L358.71 404.18 L356.56 402.00 L354.45 399.82 L352.38 397.64 L350.35 395.46 L348.36 393.28 L346.42 391.10 L344.53 388.92 L342.69 386.74 L340.91 384.56 L339.18 382.37 L337.51 380.19 L335.91 378.01 L334.37 375.83 L332.89 373.65 L331.49 371.47 L330.17 369.29 L328.92 367.11 L327.76 364.93 L326.67 362.75 L325.68 360.57 L324.78 358.39 L323.96 356.21 L323.25 354.02 L322.63 351.84 L322.11 349.66 L321.69 347.48 L321.38 345.30 L321.17 343.12 L321.07 340.94 L321.07 338.76 L321.17 336.58 L321.38 334.40 L321.69 332.22 L322.11 330.04 L322.63 327.86 L323.25 325.68 L323.96 323.49 L324.78 321.31 L325.68 319.13 L326.67 316.95 L327.76 314.77 L328.92 312.59 L330.17 310.41 L331.49 308.23 L332.89 306.05 L334.37 303.87 L335.91 301.69 L337.51 299.51 L339.18 297.33 L340.91 295.14 L342.69 292.96 L344.53 290.78 L346.42 288.60 L348.36 286.42 L350.35 284.24 L352.38 282.06 L354.45 279.88 L356.56 277.70 L358.71 275.52 L360.90 273.34 L363.12 271.16 L365.37 268.98 L367.65 266.80 L369.96 264.61 L372.30 262.43 L374.66 260.25 L377.05 258.07 L379.47 255.89 L381.90 253.71 L384.36 251.53 L386.84 249.35 L389.34 247.17 L391.85 244.99 L394.39 242.81" fill="none" stroke="#8c90f2" stroke-width="0.9"/>
<circle cx="418.99" cy="339.65" r="9.1" fill="#0a3cff" stroke="#1a1a1a" stroke-width="0.8"/>
<circle cx="345.94" cy="339.85" r="2.2" fill="#c8282e" stroke="#222" stroke-width="0.7"/>
</g>
<rect x="236.6" y="248.3" width="227.80" height="183.10" fill="none" stroke="#3a3a3a" stroke-width="1.2"/>
<line x1="464.40" y1="431.4" x2="464.40" y2="439.90" stroke="#3a3a3a" stroke-width="1"/>
<line x1="455.29" y1="431.4" x2="455.29" y2="435.40" stroke="#3a3a3a" stroke-width="1"/>
<line x1="446.18" y1="431.4" x2="446.18" y2="435.40" stroke="#3a3a3a" stroke-width="1"/>
<line x1="437.06" y1="431.4" x2="437.06" y2="435.40" stroke="#3a3a3a" stroke-width="1"/>
<line x1="427.95" y1="431.4" x2="427.95" y2="435.40" stroke="#3a3a3a" stroke-width="1"/>
<line x1="418.84" y1="431.4" x2="418.84" y2="439.90" stroke="#3a3a3a" stroke-width="1"/>
<line x1="409.73" y1="431.4" x2="409.73" y2="435.40" stroke="#3a3a3a" stroke-width="1"/>
<line x1="400.62" y1="431.4" x2="400.62" y2="435.40" stroke="#3a3a3a" stroke-width="1"/>
<line x1="391.50" y1="431.4" x2="391.50" y2="435.40" stroke="#3a3a3a" stroke-width="1"/>
<line x1="382.39" y1="431.4" x2="382.39" y2="435.40" stroke="#3a3a3a" stroke-width="1"/>
<line x1="373.28" y1="431.4" x2="373.28" y2="439.90" stroke="#3a3a3a" stroke-width="1"/>
<line x1="364.17" y1="431.4" x2="364.17" y2="435.40" stroke="#3a3a3a" stroke-width="1"/>
<line x1="355.06" y1="431.4" x2="355.06" y2="435.40" stroke="#3a3a3a" stroke-width="1"/>
<line x1="345.94" y1="431.4" x2="345.94" y2="435.40" stroke="#3a3a3a" stroke-width="1"/>
<line x1="336.83" y1="431.4" x2="336.83" y2="435.40" stroke="#3a3a3a" stroke-width="1"/>
<line x1="327.72" y1="431.4" x2="327.72" y2="439.90" stroke="#3a3a3a" stroke-width="1"/>
<line x1="318.61" y1="431.4" x2="318.61" y2="435.40" stroke="#3a3a3a" stroke-width="1"/>
<line x1="309.50" y1="431.4" x2="309.50" y2="435.40" stroke="#3a3a3a" stroke-width="1"/>
<line x1="300.38" y1="431.4" x2="300.38" y2="435.40" stroke="#3a3a3a" stroke-width="1"/>
<line x1="291.27" y1="431.4" x2="291.27" y2="435.40" stroke="#3a3a3a" stroke-width="1"/>
<line x1="282.16" y1="431.4" x2="282.16" y2="439.90" stroke="#3a3a3a" stroke-width="1"/>
<line x1="273.05" y1="431.4" x2="273.05" y2="435.40" stroke="#3a3a3a" stroke-width="1"/>
<line x1="263.94" y1="431.4" x2="263.94" y2="435.40" stroke="#3a3a3a" stroke-width="1"/>
<line x1="254.82" y1="431.4" x2="254.82" y2="435.40" stroke="#3a3a3a" stroke-width="1"/>
<line x1="245.71" y1="431.4" x2="245.71" y2="435.40" stroke="#3a3a3a" stroke-width="1"/>
<line x1="236.60" y1="431.4" x2="236.60" y2="439.90" stroke="#3a3a3a" stroke-width="1"/>
<text x="237.40" y="452.60" text-anchor="middle" font-size="9.8">20</text>
<text x="282.96" y="452.60" text-anchor="middle" font-size="9.8">15</text>
<text x="328.52" y="452.60" text-anchor="middle" font-size="9.8">10</text>
<text x="374.08" y="452.60" text-anchor="middle" font-size="9.8">5</text>
<text x="419.64" y="452.60" text-anchor="middle" font-size="9.8">0</text>
<text x="462.10" y="452.60" text-anchor="middle" font-size="9.8">-5</text>
<text x="351.00" y="464.8" text-anchor="middle" font-size="9.5">Planetary Radii (Rp)</text>
<g clip-path="url(#c6)">
<line x1="481.1" y1="339.80" x2="755.6" y2="339.80" stroke="#5a5a5a" stroke-width="1.15" stroke-dasharray="9.7 9.4" stroke-dashoffset="0.00"/>
<line x1="709.85" y1="248.3" x2="709.85" y2="431.3" stroke="#5a5a5a" stroke-width="1.15" stroke-dasharray="9.2 9.9" stroke-dashoffset="5.8"/>
<path d="M705.19 347.62 L703.20 349.22 L701.03 350.58 L698.71 351.65 L696.27 352.45 L693.76 352.93 L691.38 353.10 L688.83 352.95 L686.49 352.50 L684.24 351.74 L682.13 350.65 L680.21 349.25 L678.67 347.69 L677.40 345.90 L676.46 343.92 L675.89 341.80 L675.72 339.80 L675.89 337.80 L676.46 335.68 L677.40 333.70 L678.67 331.91 L680.21 330.35 L682.13 328.95 L684.24 327.86 L686.49 327.10 L688.83 326.65 L691.38 326.50 L693.76 326.67 L696.27 327.15 L698.71 327.95 L701.03 329.02 L703.20 330.38 L705.19 331.98 M705.19 331.98 L703.20 330.38 L701.03 329.02 L698.71 327.95 L696.27 327.15 L693.76 326.67 L691.38 326.50 L688.83 326.65 L686.49 327.10 L684.24 327.86 L682.13 328.95 L680.21 330.35 L678.67 331.91 L677.40 333.70 L676.46 335.68 L675.89 337.80 L675.72 339.80 L675.89 341.80 L676.46 343.92 L677.40 345.90 L678.67 347.69 L680.21 349.25 L682.13 350.65 L684.24 351.74 L686.49 352.50 L688.83 352.95 L691.38 353.10 L693.76 352.93 L696.27 352.45 L698.71 351.65 L701.03 350.58 L703.20 349.22 L705.19 347.62 M706.72 348.23 L705.32 350.38 L703.65 352.55 L701.82 354.60 L699.73 356.64 L697.63 358.41 L695.27 360.15 L692.79 361.71 L690.38 363.01 L687.71 364.22 L685.14 365.18 L682.51 365.96 L679.83 366.54 L677.11 366.92 L674.55 367.08 L671.81 367.05 L669.26 366.81 L666.56 366.33 L664.08 365.67 L661.67 364.80 L659.34 363.74 L657.11 362.47 L655.01 361.02 L653.03 359.39 L651.34 357.71 L649.69 355.76 L648.22 353.66 L646.95 351.44 L645.98 349.27 L645.15 346.84 L644.60 344.53 L644.26 342.18 L644.15 339.80 L644.26 337.42 L644.60 335.07 L645.15 332.76 L645.98 330.33 L646.95 328.16 L648.22 325.94 L649.69 323.84 L651.34 321.89 L653.03 320.21 L655.01 318.58 L657.11 317.13 L659.34 315.86 L661.67 314.80 L664.08 313.93 L666.56 313.27 L669.26 312.79 L671.81 312.55 L674.55 312.52 L677.11 312.68 L679.83 313.06 L682.51 313.64 L685.14 314.42 L687.71 315.38 L690.38 316.59 L692.79 317.89 L695.27 319.45 L697.63 321.19 L699.73 322.96 L701.82 325.00 L703.65 327.05 L705.32 329.22 L706.72 331.37 M706.72 331.37 L705.32 329.22 L703.65 327.05 L701.82 325.00 L699.73 322.96 L697.63 321.19 L695.27 319.45 L692.79 317.89 L690.38 316.59 L687.71 315.38 L685.14 314.42 L682.51 313.64 L679.83 313.06 L677.11 312.68 L674.55 312.52 L671.81 312.55 L669.26 312.79 L666.56 313.27 L664.08 313.93 L661.67 314.80 L659.34 315.86 L657.11 317.13 L655.01 318.58 L653.03 320.21 L651.34 321.89 L649.69 323.84 L648.22 325.94 L646.95 328.16 L645.98 330.33 L645.15 332.76 L644.60 335.07 L644.26 337.42 L644.15 339.80 L644.26 342.18 L644.60 344.53 L645.15 346.84 L645.98 349.27 L646.95 351.44 L648.22 353.66 L649.69 355.76 L651.34 357.71 L653.03 359.39 L655.01 361.02 L657.11 362.47 L659.34 363.74 L661.67 364.80 L664.08 365.67 L666.56 366.33 L669.26 366.81 L671.81 367.05 L674.55 367.08 L677.11 366.92 L679.83 366.54 L682.51 365.96 L685.14 365.18 L687.71 364.22 L690.38 363.01 L692.79 361.71 L695.27 360.15 L697.63 358.41 L699.73 356.64 L701.82 354.60 L703.65 352.55 L705.32 350.38 L706.72 348.23 M707.52 348.50 L705.82 352.14 L703.74 355.80 L701.29 359.44 L698.58 362.90 L695.52 366.30 L692.36 369.35 L689.00 372.18 L685.45 374.76 L681.87 376.97 L678.29 378.81 L674.58 380.37 L670.93 381.56 L667.18 382.42 L663.56 382.93 L659.90 383.11 L656.07 382.94 L652.08 382.39 L648.17 381.46 L644.35 380.18 L640.50 378.49 L636.80 376.47 L633.13 374.06 L629.67 371.36 L626.44 368.39 L623.32 365.04 L620.60 361.60 L618.17 357.94 L616.16 354.24 L614.58 350.54 L613.46 346.87 L612.80 343.27 L612.59 339.80 L612.80 336.33 L613.46 332.73 L614.58 329.06 L616.16 325.36 L618.17 321.66 L620.60 318.00 L623.32 314.56 L626.44 311.21 L629.67 308.24 L633.13 305.54 L636.80 303.13 L640.50 301.11 L644.35 299.42 L648.17 298.14 L652.08 297.21 L656.07 296.66 L659.90 296.49 L663.56 296.67 L667.18 297.18 L670.93 298.04 L674.58 299.23 L678.29 300.79 L681.87 302.63 L685.45 304.84 L689.00 307.42 L692.36 310.25 L695.52 313.30 L698.58 316.70 L701.29 320.16 L703.74 323.80 L705.82 327.46 L707.52 331.10 M707.52 331.10 L705.82 327.46 L703.74 323.80 L701.29 320.16 L698.58 316.70 L695.52 313.30 L692.36 310.25 L689.00 307.42 L685.45 304.84 L681.87 302.63 L678.29 300.79 L674.58 299.23 L670.93 298.04 L667.18 297.18 L663.56 296.67 L659.90 296.49 L656.07 296.66 L652.08 297.21 L648.17 298.14 L644.35 299.42 L640.50 301.11 L636.80 303.13 L633.13 305.54 L629.67 308.24 L626.44 311.21 L623.32 314.56 L620.60 318.00 L618.17 321.66 L616.16 325.36 L614.58 329.06 L613.46 332.73 L612.80 336.33 L612.59 339.80 L612.80 343.27 L613.46 346.87 L614.58 350.54 L616.16 354.24 L618.17 357.94 L620.60 361.60 L623.32 365.04 L626.44 368.39 L629.67 371.36 L633.13 374.06 L636.80 376.47 L640.50 378.49 L644.35 380.18 L648.17 381.46 L652.08 382.39 L656.07 382.94 L659.90 383.11 L663.56 382.93 L667.18 382.42 L670.93 381.56 L674.58 380.37 L678.29 378.81 L681.87 376.97 L685.45 374.76 L689.00 372.18 L692.36 369.35 L695.52 366.30 L698.58 362.90 L701.29 359.44 L703.74 355.80 L705.82 352.14 L707.52 348.50 M544.89 337.55 L544.07 333.99 L542.76 330.04 L541.30 326.48 L538.35 319.98 L537.42 317.60 L536.81 315.11 L536.72 314.02 L536.77 312.92 L537.11 311.31 L537.73 309.79 L538.66 308.22 L539.99 306.47 L541.71 304.57 L543.83 302.55 L546.33 300.41 L549.06 298.26 L553.53 295.07 L558.74 291.66 L564.53 288.16 L570.90 284.56 L578.01 280.78 L585.37 277.08 L593.29 273.29 L601.29 269.66 L609.52 266.10 L617.48 262.83 L626.18 259.45 L634.59 256.35 L644.96 252.75 L652.62 250.24 L659.11 248.34 L665.33 246.78 M681.65 246.82 L683.67 248.07 L685.56 249.80 L687.40 252.07 L689.16 254.86 L691.01 258.43 L692.86 262.61 L694.77 267.57 L696.68 273.10 L698.81 279.91 L700.85 287.13 L702.75 294.58 L704.52 302.25 L706.06 309.78 L707.38 317.16 L708.44 324.22 L709.23 330.76 M544.89 342.05 L544.07 345.61 L542.76 349.56 L541.30 353.12 L538.35 359.62 L537.42 362.00 L536.81 364.49 L536.72 365.58 L536.77 366.68 L537.11 368.29 L537.73 369.81 L538.66 371.38 L539.99 373.13 L541.71 375.03 L543.83 377.05 L546.33 379.19 L549.06 381.34 L553.53 384.53 L558.74 387.94 L564.53 391.44 L570.90 395.04 L578.01 398.82 L585.37 402.52 L593.29 406.31 L601.29 409.94 L609.52 413.50 L617.48 416.77 L626.18 420.15 L634.59 423.25 L644.96 426.85 L652.62 429.36 L659.11 431.26 L665.33 432.82 M681.65 432.78 L683.67 431.53 L685.56 429.80 L687.40 427.53 L689.16 424.74 L691.01 421.17 L692.86 416.99 L694.77 412.03 L696.68 406.50 L698.81 399.69 L700.85 392.47 L702.75 385.02 L704.52 377.35 L706.06 369.82 L707.38 362.44 L708.44 355.38 L709.23 348.84 M544.82 337.57 L544.31 335.67 L543.62 333.68 L542.74 331.62 L541.70 329.53 L540.34 327.15 L538.86 324.84 L533.32 317.10 L532.52 315.46 L532.32 314.76 L532.25 314.03 L532.40 312.94 L532.87 311.76 L533.74 310.36 L535.00 308.79 L536.74 306.91 L538.85 304.88 L543.86 300.60 L548.22 297.27 L552.86 294.01 L558.08 290.62 L563.71 287.20 L569.59 283.85 L576.04 280.39 L582.74 277.00 L589.83 273.59 L597.15 270.24 L604.87 266.88 L612.64 263.63 L620.46 260.52 L636.74 254.43 L650.87 249.39 L658.68 246.78 M690.50 246.80 L691.68 249.48 L692.97 252.91 L694.42 257.24 L695.92 262.14 L699.07 273.61 L702.02 285.89 L704.49 297.71 L706.59 309.42 L708.22 320.65 L709.33 330.84 M544.82 342.03 L544.31 343.93 L543.62 345.92 L542.74 347.98 L541.70 350.07 L540.34 352.45 L538.86 354.76 L533.32 362.50 L532.52 364.14 L532.32 364.84 L532.25 365.57 L532.40 366.66 L532.87 367.84 L533.74 369.24 L535.00 370.81 L536.74 372.69 L538.85 374.72 L543.86 379.00 L548.22 382.33 L552.86 385.59 L558.08 388.98 L563.71 392.40 L569.59 395.75 L576.04 399.21 L582.74 402.60 L589.83 406.01 L597.15 409.36 L604.87 412.72 L612.64 415.97 L620.46 419.08 L636.74 425.17 L650.87 430.21 L658.68 432.82 M690.50 432.80 L691.68 430.12 L692.97 426.69 L694.42 422.36 L695.92 417.46 L699.07 405.99 L702.02 393.71 L704.49 381.89 L706.59 370.18 L708.22 358.95 L709.33 348.76 M731.61 246.83 L729.06 249.20 L726.73 251.77 L724.64 254.55 L722.80 257.50 L721.13 260.75 L719.63 264.29 L718.25 268.27 L717.00 272.67 L715.85 277.66 L714.79 283.23 L713.83 289.38 L712.92 296.46 L712.04 304.65 L711.25 313.39 L710.60 322.34 L710.13 330.74 M731.61 432.77 L729.06 430.40 L726.73 427.83 L724.64 425.05 L722.80 422.10 L721.13 418.85 L719.63 415.31 L718.25 411.33 L717.00 406.93 L715.85 401.94 L714.79 396.37 L713.83 390.22 L712.92 383.14 L712.04 374.95 L711.25 366.21 L710.60 357.26 L710.13 348.86 M714.74 347.39 L716.52 348.68 L718.44 349.74 L720.46 350.58 L722.57 351.18 L724.74 351.53 L726.94 351.61 L729.12 351.41 L731.08 350.97 L732.97 350.28 L734.75 349.33 L736.37 348.13 L737.77 346.70 L738.91 345.04 L739.68 343.39 L740.16 341.62 L740.32 339.80 L740.16 337.98 L739.68 336.21 L738.91 334.56 L737.77 332.90 L736.37 331.47 L734.75 330.27 L732.97 329.32 L731.08 328.63 L729.12 328.19 L726.94 327.99 L724.74 328.07 L722.57 328.42 L720.46 329.02 L718.44 329.86 L716.52 330.92 L714.74 332.21 M714.74 332.21 L716.52 330.92 L718.44 329.86 L720.46 329.02 L722.57 328.42 L724.74 328.07 L726.94 327.99 L729.12 328.19 L731.08 328.63 L732.97 329.32 L734.75 330.27 L736.37 331.47 L737.77 332.90 L738.91 334.56 L739.68 336.21 L740.16 337.98 L740.32 339.80 L740.16 341.62 L739.68 343.39 L738.91 345.04 L737.77 346.70 L736.37 348.13 L734.75 349.33 L732.97 350.28 L731.08 350.97 L729.12 351.41 L726.94 351.61 L724.74 351.53 L722.57 351.18 L720.46 350.58 L718.44 349.74 L716.52 348.68 L714.74 347.39 M713.06 348.35 L714.79 350.93 L716.74 353.35 L718.89 355.61 L721.34 357.80 L723.96 359.80 L726.73 361.58 L729.63 363.14 L732.64 364.47 L735.76 365.55 L738.77 366.33 L742.01 366.89 L745.11 367.16 L748.22 367.17 L751.32 366.90 L754.38 366.36 L757.20 365.59 M757.01 313.95 L754.18 313.20 L751.11 312.67 L748.01 312.43 L744.90 312.45 L741.80 312.74 L738.74 313.28 L735.73 314.06 L732.62 315.14 L729.61 316.47 L726.71 318.03 L723.94 319.81 L721.32 321.81 L718.87 324.01 L716.73 326.26 L714.78 328.69 L713.04 331.27 M713.06 331.25 L714.79 328.67 L716.74 326.25 L718.89 323.99 L721.34 321.80 L723.96 319.80 L726.73 318.02 L729.63 316.46 L732.64 315.13 L735.76 314.05 L738.77 313.27 L742.01 312.71 L745.11 312.44 L748.22 312.43 L751.32 312.70 L754.38 313.24 L757.20 314.01 M757.01 365.65 L754.18 366.40 L751.11 366.93 L748.01 367.17 L744.90 367.15 L741.80 366.86 L738.74 366.32 L735.73 365.54 L732.62 364.46 L729.61 363.13 L726.71 361.57 L723.94 359.79 L721.32 357.79 L718.87 355.59 L716.73 353.34 L714.78 350.91 L713.04 348.33 M757.05 296.96 L753.62 297.51 L750.05 298.34 L746.73 299.36 L743.31 300.66 L739.99 302.19 L736.77 303.94 L733.67 305.88 L730.69 308.01 L727.85 310.31 L725.02 312.91 L722.34 315.67 L719.85 318.59 L717.54 321.66 L715.53 324.72 L713.74 327.91 L712.25 331.05 M757.05 382.64 L753.62 382.09 L750.05 381.26 L746.73 380.24 L743.31 378.94 L739.99 377.41 L736.77 375.66 L733.67 373.72 L730.69 371.59 L727.85 369.29 L725.02 366.69 L722.34 363.93 L719.85 361.01 L717.54 357.94 L715.53 354.88 L713.74 351.69 L712.25 348.55 M756.99 284.45 L753.36 285.71 L749.66 287.28 L746.23 289.01 L742.76 291.05 L739.42 293.31 L736.23 295.76 L733.05 298.51 L730.03 301.44 L727.05 304.67 L724.26 308.06 L721.54 311.74 L719.12 315.41 L716.91 319.20 L714.90 323.11 L713.13 327.12 L711.75 330.90 M756.99 395.15 L753.36 393.89 L749.66 392.32 L746.23 390.59 L742.76 388.55 L739.42 386.29 L736.23 383.84 L733.05 381.09 L730.03 378.16 L727.05 374.93 L724.26 371.54 L721.54 367.86 L719.12 364.19 L716.91 360.40 L714.90 356.49 L713.13 352.48 L711.75 348.70 M756.94 271.60 L752.95 273.43 L749.26 275.45 L745.71 277.71 L742.18 280.33 L738.84 283.17 L735.68 286.22 L732.58 289.59 L729.57 293.27 L726.56 297.41 L723.67 301.87 L721.01 306.46 L718.49 311.34 L716.22 316.33 L714.26 321.26 L712.61 326.11 L711.29 330.87 M756.94 408.00 L752.95 406.17 L749.26 404.15 L745.71 401.89 L742.18 399.27 L738.84 396.43 L735.68 393.38 L732.58 390.01 L729.57 386.33 L726.56 382.19 L723.67 377.73 L721.01 373.14 L718.49 368.26 L716.22 363.27 L714.26 358.34 L712.61 353.49 L711.29 348.73 M545.91 337.59 L546.85 336.19 L548.03 334.92 L549.46 333.77 L551.03 332.84 L552.77 332.13 L554.54 331.69 L556.36 331.51 L558.01 331.57 L559.80 331.91 L561.36 332.45 L562.96 333.32 L564.25 334.34 L565.34 335.57 L566.09 336.83 L566.61 338.39 L566.76 339.84 L566.59 341.29 L566.05 342.84 L565.29 344.09 L564.19 345.32 L562.90 346.33 L561.28 347.18 L559.72 347.71 L557.92 348.04 L556.28 348.09 L554.46 347.90 L552.69 347.44 L550.96 346.72 L549.39 345.78 L547.97 344.63 L546.80 343.35 L545.87 341.93 M545.91 342.01 L546.85 343.41 L548.03 344.68 L549.46 345.83 L551.03 346.76 L552.77 347.47 L554.54 347.91 L556.36 348.09 L558.01 348.03 L559.80 347.69 L561.36 347.15 L562.96 346.28 L564.25 345.26 L565.34 344.03 L566.09 342.77 L566.61 341.21 L566.76 339.76 L566.59 338.31 L566.05 336.76 L565.29 335.51 L564.19 334.28 L562.90 333.27 L561.28 332.42 L559.72 331.89 L557.92 331.56 L556.28 331.51 L554.46 331.70 L552.69 332.16 L550.96 332.88 L549.39 333.82 L547.97 334.97 L546.80 336.25 L545.87 337.67 M545.66 337.52 L546.39 335.75 L547.38 333.94 L548.57 332.21 L549.95 330.56 L551.37 329.14 L553.06 327.74 L554.72 326.60 L556.63 325.52 L558.29 324.75 L560.01 324.11 L561.94 323.54 L563.90 323.09 L568.07 322.50 L576.28 321.96 L579.74 321.57 L583.31 320.80 L585.06 320.25 L586.76 319.58 L590.19 317.85 L593.88 315.48 L597.84 312.52 L608.37 304.00 L613.90 299.79 L620.09 295.55 L623.05 293.73 L626.08 292.02 L629.50 290.27 L632.83 288.75 L636.23 287.40 L639.53 286.29 L642.88 285.37 L646.10 284.70 L649.36 284.23 L652.46 283.99 L656.67 284.01 L660.85 284.46 L664.79 285.29 L668.80 286.57 L672.67 288.23 L676.52 290.32 L680.34 292.84 L684.09 295.77 L688.01 299.35 L691.67 303.19 L695.18 307.41 L698.41 311.85 L701.35 316.49 L703.98 321.30 L706.20 326.12 L707.98 330.93 M545.66 342.08 L546.39 343.85 L547.38 345.66 L548.57 347.39 L549.95 349.04 L551.37 350.46 L553.06 351.86 L554.72 353.00 L556.63 354.08 L558.29 354.85 L560.01 355.49 L561.94 356.06 L563.90 356.51 L568.07 357.10 L576.28 357.64 L579.74 358.03 L583.31 358.80 L585.06 359.35 L586.76 360.02 L590.19 361.75 L593.88 364.12 L597.84 367.08 L608.37 375.60 L613.90 379.81 L620.09 384.05 L623.05 385.87 L626.08 387.58 L629.50 389.33 L632.83 390.85 L636.23 392.20 L639.53 393.31 L642.88 394.23 L646.10 394.90 L649.36 395.37 L652.46 395.61 L656.67 395.59 L660.85 395.14 L664.79 394.31 L668.80 393.03 L672.67 391.37 L676.52 389.28 L680.34 386.76 L684.09 383.83 L688.01 380.25 L691.67 376.41 L695.18 372.19 L698.41 367.75 L701.35 363.11 L703.98 358.30 L706.20 353.48 L707.98 348.67 M545.31 337.47 L546.10 332.32 L547.33 327.16 L548.80 322.83 L549.60 320.98 L550.52 319.19 L551.46 317.62 L552.50 316.11 L553.64 314.68 L555.00 313.20 L556.46 311.81 L557.99 310.51 L561.71 307.85 L566.92 304.79 L584.10 295.80 L606.66 283.27 L614.15 279.42 L620.94 276.25 L625.49 274.32 L629.93 272.61 L634.26 271.12 L638.47 269.87 L642.55 268.85 L646.32 268.11 L649.95 267.61 L653.41 267.35 L655.79 267.32 L657.99 267.41 L660.17 267.62 L662.34 267.96 L664.48 268.44 L666.42 269.00 L668.31 269.68 L670.33 270.56 L672.12 271.47 L674.01 272.58 L675.83 273.81 L677.73 275.24 L681.29 278.40 L684.80 282.13 L688.57 286.85 L692.30 292.28 L695.86 298.25 L699.16 304.57 L702.19 311.24 L704.78 317.89 L706.93 324.50 L708.57 330.88 M545.31 342.13 L546.10 347.28 L547.33 352.44 L548.80 356.77 L549.60 358.62 L550.52 360.41 L551.46 361.98 L552.50 363.49 L553.64 364.92 L555.00 366.40 L556.46 367.79 L557.99 369.09 L561.71 371.75 L566.92 374.81 L584.10 383.80 L606.66 396.33 L614.15 400.18 L620.94 403.35 L625.49 405.28 L629.93 406.99 L634.26 408.48 L638.47 409.73 L642.55 410.75 L646.32 411.49 L649.95 411.99 L653.41 412.25 L655.79 412.28 L657.99 412.19 L660.17 411.98 L662.34 411.64 L664.48 411.16 L666.42 410.60 L668.31 409.92 L670.33 409.04 L672.12 408.13 L674.01 407.02 L675.83 405.79 L677.73 404.36 L681.29 401.20 L684.80 397.47 L688.57 392.75 L692.30 387.32 L695.86 381.35 L699.16 375.03 L702.19 368.36 L704.78 361.71 L706.93 355.10 L708.57 348.72 M544.83 337.49 L543.82 333.97 L542.25 330.17 L541.09 327.88 L539.83 325.65 L535.81 319.32 L534.70 317.42 L533.85 315.40 L533.61 313.78 L533.76 312.51 L534.27 311.14 L535.10 309.72 L536.32 308.12 L537.91 306.35 L540.00 304.31 L542.47 302.12 L545.16 299.92 L549.40 296.73 L554.22 293.40 L559.46 290.05 L565.11 286.67 L571.18 283.26 L577.81 279.76 L584.52 276.40 L591.79 272.94 L599.29 269.54 L607.36 266.06 L614.97 262.92 L622.97 259.77 L632.91 256.04 L645.84 251.43 L653.10 248.92 L659.72 246.79 M688.88 246.90 L690.15 249.13 L691.54 252.11 L692.96 255.68 L694.48 260.00 L696.10 265.05 L697.74 270.67 L700.99 283.06 L703.82 295.56 L706.20 307.96 L708.05 319.89 L708.76 325.52 L709.31 330.80 M544.83 342.11 L543.82 345.63 L542.25 349.43 L541.09 351.72 L539.83 353.95 L535.81 360.28 L534.70 362.18 L533.85 364.20 L533.61 365.82 L533.76 367.09 L534.27 368.46 L535.10 369.88 L536.32 371.48 L537.91 373.25 L540.00 375.29 L542.47 377.48 L545.16 379.68 L549.40 382.87 L554.22 386.20 L559.46 389.55 L565.11 392.93 L571.18 396.34 L577.81 399.84 L584.52 403.20 L591.79 406.66 L599.29 410.06 L607.36 413.54 L614.97 416.68 L622.97 419.83 L632.91 423.56 L645.84 428.17 L653.10 430.68 L659.72 432.81 M688.88 432.70 L690.15 430.47 L691.54 427.49 L692.96 423.92 L694.48 419.60 L696.10 414.55 L697.74 408.93 L700.99 396.54 L703.82 384.04 L706.20 371.64 L708.05 359.71 L708.76 354.08 L709.31 348.80 M544.74 337.50 L543.71 334.57 L542.17 331.51 L540.18 328.44 L537.88 325.59 L535.05 322.74 L532.33 320.57 L531.09 319.79 L529.93 319.25 L529.05 318.99 L528.14 318.93 L527.43 319.08 L526.61 319.49 L525.90 320.05 L525.02 320.99 L523.26 323.55 L521.59 326.81 L520.34 330.05 L519.48 333.23 L518.93 336.66 L518.77 339.95 L518.96 343.23 L519.50 346.48 L520.38 349.66 L521.64 352.90 L523.22 355.99 L524.98 358.55 L525.85 359.49 L526.55 360.07 L527.36 360.49 L528.08 360.65 L528.99 360.61 L529.87 360.37 L531.03 359.83 L532.28 359.06 L535.00 356.90 L537.84 354.05 L540.25 351.06 L542.19 348.07 L543.73 345.00 L544.76 342.02 M544.74 342.10 L543.71 345.03 L542.17 348.09 L540.18 351.16 L537.88 354.01 L535.05 356.86 L532.33 359.03 L531.09 359.81 L529.93 360.35 L529.05 360.61 L528.14 360.67 L527.43 360.52 L526.61 360.11 L525.90 359.55 L525.02 358.61 L523.26 356.05 L521.59 352.79 L520.34 349.55 L519.48 346.37 L518.93 342.94 L518.77 339.65 L518.96 336.37 L519.50 333.12 L520.38 329.94 L521.64 326.70 L523.22 323.61 L524.98 321.05 L525.85 320.11 L526.55 319.53 L527.36 319.11 L528.08 318.95 L528.99 318.99 L529.87 319.23 L531.03 319.77 L532.28 320.54 L535.00 322.70 L537.84 325.55 L540.25 328.54 L542.19 331.53 L543.73 334.60 L544.76 337.58 M544.55 337.55 L543.51 335.56 L542.10 333.65 L540.44 331.94 L538.42 330.37 L536.37 329.17 L534.33 328.36 L532.37 327.92 L530.36 327.88 L528.58 328.26 L527.09 328.97 L525.66 330.10 L524.49 331.51 L523.51 333.26 L522.75 335.32 L522.29 337.46 L522.13 339.84 L522.28 342.02 L522.72 344.18 L523.46 346.24 L524.43 348.00 L525.58 349.42 L527.00 350.57 L528.47 351.30 L530.25 351.71 L532.26 351.69 L534.22 351.27 L536.43 350.40 L538.48 349.19 L540.49 347.61 L542.14 345.90 L543.55 343.98 L544.57 341.99 M544.55 342.05 L543.51 344.04 L542.10 345.95 L540.44 347.66 L538.42 349.23 L536.37 350.43 L534.33 351.24 L532.37 351.68 L530.36 351.72 L528.58 351.34 L527.09 350.63 L525.66 349.50 L524.49 348.09 L523.51 346.34 L522.75 344.28 L522.29 342.14 L522.13 339.76 L522.28 337.58 L522.72 335.42 L523.46 333.36 L524.43 331.60 L525.58 330.18 L527.00 329.03 L528.47 328.30 L530.25 327.89 L532.26 327.91 L534.22 328.33 L536.43 329.20 L538.48 330.41 L540.49 331.99 L542.14 333.70 L543.55 335.62 L544.57 337.61 M544.28 337.64 L543.52 336.66 L542.60 335.77 L541.52 334.99 L540.36 334.37 L539.16 333.91 L537.96 333.63 L536.68 333.51 L535.41 333.59 L534.16 333.87 L533.15 334.29 L532.22 334.87 L531.40 335.60 L530.73 336.47 L530.22 337.44 L529.90 338.49 L529.76 339.76 L529.89 341.04 L530.20 342.09 L530.69 343.07 L531.35 343.94 L532.16 344.68 L533.08 345.28 L534.09 345.71 L535.34 346.00 L536.61 346.09 L537.89 345.98 L539.13 345.70 L540.37 345.23 L541.54 344.60 L542.61 343.81 L543.56 342.89 L544.31 341.91 M544.28 341.96 L543.52 342.94 L542.60 343.83 L541.52 344.61 L540.36 345.23 L539.16 345.69 L537.96 345.97 L536.68 346.09 L535.41 346.01 L534.16 345.73 L533.15 345.31 L532.22 344.73 L531.40 344.00 L530.73 343.13 L530.22 342.16 L529.90 341.11 L529.76 339.84 L529.89 338.56 L530.20 337.51 L530.69 336.53 L531.35 335.66 L532.16 334.92 L533.08 334.32 L534.09 333.89 L535.34 333.60 L536.61 333.51 L537.89 333.62 L539.13 333.90 L540.37 334.37 L541.54 335.00 L542.61 335.79 L543.56 336.71 L544.31 337.69 M707.75 330.85 L706.01 326.62 L703.87 322.37 L701.35 318.12 L698.44 313.90 L695.25 309.89 L691.93 306.24 L688.37 302.81 L684.72 299.76 L681.16 297.19 L677.42 294.89 L673.66 292.99 L669.76 291.43 L665.90 290.28 L661.95 289.51 L658.13 289.13 L654.10 289.11 L650.10 289.47 L646.13 290.17 L642.07 291.25 L638.10 292.65 L634.07 294.41 L630.02 296.52 L625.96 299.00 L622.05 301.72 L618.73 304.31 L615.40 307.17 L612.06 310.29 L608.72 313.68 L602.85 320.22 L591.10 334.25 L588.29 337.38 L586.11 339.60 L585.95 339.67 L585.79 339.58 L582.42 336.49 L579.43 334.08 L576.87 332.31 L574.35 330.83 L571.53 329.50 L568.77 328.53 L566.10 327.90 L563.38 327.58 L560.64 327.62 L557.92 328.03 L555.30 328.82 L552.82 329.99 L550.55 331.53 L548.56 333.35 L546.92 335.43 L545.74 337.60 M707.75 348.75 L706.01 352.98 L703.87 357.23 L701.35 361.48 L698.44 365.70 L695.25 369.71 L691.93 373.36 L688.37 376.79 L684.72 379.84 L681.16 382.41 L677.42 384.71 L673.66 386.61 L669.76 388.17 L665.90 389.32 L661.95 390.09 L658.13 390.47 L654.10 390.49 L650.10 390.13 L646.13 389.43 L642.07 388.35 L638.10 386.95 L634.07 385.19 L630.02 383.08 L625.96 380.60 L622.05 377.88 L618.73 375.29 L615.40 372.43 L612.06 369.31 L608.72 365.92 L602.85 359.38 L591.10 345.35 L588.29 342.22 L586.11 340.00 L585.95 339.93 L585.79 340.02 L582.42 343.11 L579.43 345.52 L576.87 347.29 L574.35 348.77 L571.53 350.10 L568.77 351.07 L566.10 351.70 L563.38 352.02 L560.64 351.98 L557.92 351.57 L555.30 350.78 L552.82 349.61 L550.55 348.07 L548.56 346.25 L546.92 344.17 L545.74 342.00" fill="none" stroke="#5e5e5e" stroke-width="0.8" stroke-linejoin="round"/>
<path d="M670.12 436.79 L663.40 434.61 L656.83 432.43 L650.41 430.25 L644.15 428.07 L638.03 425.89 L632.07 423.71 L626.26 421.53 L620.61 419.35 L615.10 417.17 L609.75 414.99 L604.55 412.81 L599.50 410.64 L594.61 408.46 L589.86 406.28 L585.27 404.10 L580.84 401.92 L576.55 399.74 L572.42 397.56 L568.44 395.38 L564.61 393.20 L560.94 391.02 L557.42 388.84 L554.05 386.66 L550.83 384.48 L547.77 382.30 L544.86 380.12 L542.11 377.94 L539.50 375.76 L537.05 373.58 L534.75 371.40 L532.61 369.22 L530.62 367.04 L528.78 364.86 L527.10 362.69 L525.56 360.51 L524.18 358.33 L522.96 356.15 L521.89 353.97 L520.97 351.79 L520.20 349.61 L519.59 347.43 L519.13 345.25 L518.82 343.07 L518.67 340.89 L518.67 338.71 L518.82 336.53 L519.13 334.35 L519.59 332.17 L520.20 329.99 L520.97 327.81 L521.89 325.63 L522.96 323.45 L524.18 321.27 L525.56 319.09 L527.10 316.91 L528.78 314.74 L530.62 312.56 L532.61 310.38 L534.75 308.20 L537.05 306.02 L539.50 303.84 L542.11 301.66 L544.86 299.48 L547.77 297.30 L550.83 295.12 L554.05 292.94 L557.42 290.76 L560.94 288.58 L564.61 286.40 L568.44 284.22 L572.42 282.04 L576.55 279.86 L580.84 277.68 L585.27 275.50 L589.86 273.32 L594.61 271.14 L599.50 268.96 L604.55 266.79 L609.75 264.61 L615.10 262.43 L620.61 260.25 L626.26 258.07 L632.07 255.89 L638.03 253.71 L644.15 251.53 L650.41 249.35 L656.83 247.17 L663.40 244.99 L670.12 242.81" fill="none" stroke="#8c90f2" stroke-width="0.9"/>
<circle cx="710.00" cy="339.60" r="9.1" fill="#0a3cff" stroke="#1a1a1a" stroke-width="0.8"/>
<circle cx="545.15" cy="339.80" r="2.2" fill="#c8282e" stroke="#222" stroke-width="0.7"/>
</g>
<rect x="481.1" y="248.3" width="274.50" height="183.00" fill="none" stroke="#3a3a3a" stroke-width="1.2"/>
<line x1="755.60" y1="431.3" x2="755.60" y2="439.80" stroke="#3a3a3a" stroke-width="1"/>
<line x1="746.45" y1="431.3" x2="746.45" y2="435.30" stroke="#3a3a3a" stroke-width="1"/>
<line x1="737.30" y1="431.3" x2="737.30" y2="435.30" stroke="#3a3a3a" stroke-width="1"/>
<line x1="728.15" y1="431.3" x2="728.15" y2="435.30" stroke="#3a3a3a" stroke-width="1"/>
<line x1="719.00" y1="431.3" x2="719.00" y2="435.30" stroke="#3a3a3a" stroke-width="1"/>
<line x1="709.85" y1="431.3" x2="709.85" y2="439.80" stroke="#3a3a3a" stroke-width="1"/>
<line x1="700.70" y1="431.3" x2="700.70" y2="435.30" stroke="#3a3a3a" stroke-width="1"/>
<line x1="691.55" y1="431.3" x2="691.55" y2="435.30" stroke="#3a3a3a" stroke-width="1"/>
<line x1="682.40" y1="431.3" x2="682.40" y2="435.30" stroke="#3a3a3a" stroke-width="1"/>
<line x1="673.25" y1="431.3" x2="673.25" y2="435.30" stroke="#3a3a3a" stroke-width="1"/>
<line x1="664.10" y1="431.3" x2="664.10" y2="439.80" stroke="#3a3a3a" stroke-width="1"/>
<line x1="654.95" y1="431.3" x2="654.95" y2="435.30" stroke="#3a3a3a" stroke-width="1"/>
<line x1="645.80" y1="431.3" x2="645.80" y2="435.30" stroke="#3a3a3a" stroke-width="1"/>
<line x1="636.65" y1="431.3" x2="636.65" y2="435.30" stroke="#3a3a3a" stroke-width="1"/>
<line x1="627.50" y1="431.3" x2="627.50" y2="435.30" stroke="#3a3a3a" stroke-width="1"/>
<line x1="618.35" y1="431.3" x2="618.35" y2="439.80" stroke="#3a3a3a" stroke-width="1"/>
<line x1="609.20" y1="431.3" x2="609.20" y2="435.30" stroke="#3a3a3a" stroke-width="1"/>
<line x1="600.05" y1="431.3" x2="600.05" y2="435.30" stroke="#3a3a3a" stroke-width="1"/>
<line x1="590.90" y1="431.3" x2="590.90" y2="435.30" stroke="#3a3a3a" stroke-width="1"/>
<line x1="581.75" y1="431.3" x2="581.75" y2="435.30" stroke="#3a3a3a" stroke-width="1"/>
<line x1="572.60" y1="431.3" x2="572.60" y2="439.80" stroke="#3a3a3a" stroke-width="1"/>
<line x1="563.45" y1="431.3" x2="563.45" y2="435.30" stroke="#3a3a3a" stroke-width="1"/>
<line x1="554.30" y1="431.3" x2="554.30" y2="435.30" stroke="#3a3a3a" stroke-width="1"/>
<line x1="545.15" y1="431.3" x2="545.15" y2="435.30" stroke="#3a3a3a" stroke-width="1"/>
<line x1="536.00" y1="431.3" x2="536.00" y2="435.30" stroke="#3a3a3a" stroke-width="1"/>
<line x1="526.85" y1="431.3" x2="526.85" y2="439.80" stroke="#3a3a3a" stroke-width="1"/>
<line x1="517.70" y1="431.3" x2="517.70" y2="435.30" stroke="#3a3a3a" stroke-width="1"/>
<line x1="508.55" y1="431.3" x2="508.55" y2="435.30" stroke="#3a3a3a" stroke-width="1"/>
<line x1="499.40" y1="431.3" x2="499.40" y2="435.30" stroke="#3a3a3a" stroke-width="1"/>
<line x1="490.25" y1="431.3" x2="490.25" y2="435.30" stroke="#3a3a3a" stroke-width="1"/>
<line x1="481.10" y1="431.3" x2="481.10" y2="439.80" stroke="#3a3a3a" stroke-width="1"/>
<text x="481.90" y="452.60" text-anchor="middle" font-size="9.8">25</text>
<text x="527.65" y="452.60" text-anchor="middle" font-size="9.8">20</text>
<text x="573.40" y="452.60" text-anchor="middle" font-size="9.8">15</text>
<text x="619.15" y="452.60" text-anchor="middle" font-size="9.8">10</text>
<text x="664.90" y="452.60" text-anchor="middle" font-size="9.8">5</text>
<text x="710.65" y="452.60" text-anchor="middle" font-size="9.8">0</text>
<text x="753.30" y="452.60" text-anchor="middle" font-size="9.8">-5</text>
<text x="618.85" y="464.8" text-anchor="middle" font-size="9.5">Planetary Radii (Rp)</text>
<text x="41.3" y="13.9" text-anchor="start" font-size="8.9">Stellar Wind</text>
<text x="210.1" y="13.7" text-anchor="end" font-size="8.9">Dipoles Aligned</text>
<text x="213.5" y="180.8" text-anchor="end" font-size="8.9">Exomoon at 4 Rp</text>
<text x="284.6" y="16.5" text-anchor="middle" font-size="8.9">Dipoles Aligned</text>
<text x="284.4" y="27.0" text-anchor="middle" font-size="8.9">Stellar Wind</text>
<text x="250.7" y="181.2" text-anchor="start" font-size="8.9">Exomoon at 8 Rp</text>
<text x="526.2" y="16.5" text-anchor="middle" font-size="8.9">Dipoles Aligned</text>
<text x="526.0" y="27.0" text-anchor="middle" font-size="8.9">Stellar Wind</text>
<text x="490.3" y="180.9" text-anchor="start" font-size="8.9">Exomoon at 18 Rp</text>
<text x="40.9" y="262.7" text-anchor="start" font-size="8.9">Stellar Wind</text>
<text x="215.7" y="262.5" text-anchor="end" font-size="8.9">Dipoles Antialigned</text>
<text x="213.3" y="426.0" text-anchor="end" font-size="8.9">Exomoon at 4 Rp</text>
<text x="290.3" y="265.1" text-anchor="middle" font-size="8.9">Dipoles Antialigned</text>
<text x="290.4" y="275.6" text-anchor="middle" font-size="8.9">Stellar Wind</text>
<text x="250.7" y="425.8" text-anchor="start" font-size="8.9">Exomoon at 8 Rp</text>
<text x="531.5" y="265.1" text-anchor="middle" font-size="8.9">Dipoles Antialigned</text>
<text x="531.4" y="275.6" text-anchor="middle" font-size="8.9">Stellar Wind</text>
<text x="490.8" y="425.8" text-anchor="start" font-size="8.9">Exomoon at 18 Rp</text>
<line x1="50.8" y1="19.5" x2="64.9" y2="19.5" stroke="#111" stroke-width="1.1"/>
<path d="M62.900000000000006 16.3 L68.9 19.5 L62.900000000000006 22.7 Z" fill="#111"/>
<line x1="275.2" y1="35.2" x2="289.6" y2="35.2" stroke="#111" stroke-width="1.1"/>
<path d="M287.6 32.0 L293.6 35.2 L287.6 38.400000000000006 Z" fill="#111"/>
<line x1="515.8" y1="34.0" x2="530.0" y2="34.0" stroke="#111" stroke-width="1.1"/>
<path d="M528.0 30.8 L534.0 34.0 L528.0 37.2 Z" fill="#111"/>
<line x1="53.8" y1="271.0" x2="63.599999999999994" y2="271.0" stroke="#111" stroke-width="1.1"/>
<path d="M61.599999999999994 267.8 L67.6 271.0 L61.599999999999994 274.2 Z" fill="#111"/>
<line x1="273.2" y1="283.3" x2="286.6" y2="283.3" stroke="#111" stroke-width="1.1"/>
<path d="M284.6 280.1 L290.6 283.3 L284.6 286.5 Z" fill="#111"/>
<line x1="515.8" y1="283.3" x2="529.3" y2="283.3" stroke="#111" stroke-width="1.1"/>
<path d="M527.3 280.1 L533.3 283.3 L527.3 286.5 Z" fill="#111"/><rect x="93" y="220" width="473" height="10" fill="#0433ff"/><path d="M565 215.8 L574.6 225 L565 234.2 Z" fill="#0433ff"/><text x="585.3" y="229.6" font-size="16" fill="#1f40ff" style="stroke:none">Time</text></svg></body></html>
